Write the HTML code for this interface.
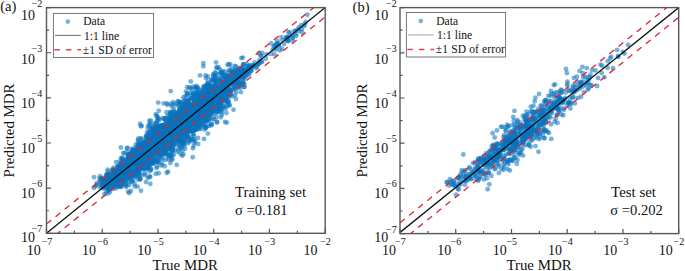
<!DOCTYPE html><html><head><meta charset="utf-8"><style>html,body{margin:0;padding:0;background:#fff;width:685px;height:271px;overflow:hidden}svg{display:block}text{font-family:"Liberation Serif", serif;fill:#111}</style></head><body>
<svg width="685" height="271" viewBox="0 0 685 271">
<rect width="685" height="271" fill="#fff"/>
<g fill="#0a72bd" fill-opacity="0.55">
<circle cx="187.9" cy="130.8" r="2.45"/>
<circle cx="218.8" cy="90.5" r="2.45"/>
<circle cx="150.0" cy="143.5" r="2.45"/>
<circle cx="134.3" cy="164.0" r="2.45"/>
<circle cx="189.7" cy="121.8" r="2.45"/>
<circle cx="211.5" cy="102.5" r="2.45"/>
<circle cx="111.4" cy="179.0" r="2.45"/>
<circle cx="181.0" cy="125.4" r="2.45"/>
<circle cx="143.3" cy="151.4" r="2.45"/>
<circle cx="153.2" cy="137.3" r="2.45"/>
<circle cx="147.7" cy="163.7" r="2.45"/>
<circle cx="144.4" cy="168.7" r="2.45"/>
<circle cx="201.5" cy="105.5" r="2.45"/>
<circle cx="206.4" cy="95.6" r="2.45"/>
<circle cx="224.6" cy="95.7" r="2.45"/>
<circle cx="208.9" cy="102.9" r="2.45"/>
<circle cx="125.5" cy="178.8" r="2.45"/>
<circle cx="210.6" cy="88.0" r="2.45"/>
<circle cx="258.5" cy="63.7" r="2.45"/>
<circle cx="194.6" cy="120.5" r="2.45"/>
<circle cx="208.7" cy="125.9" r="2.45"/>
<circle cx="106.1" cy="186.4" r="2.45"/>
<circle cx="217.3" cy="97.4" r="2.45"/>
<circle cx="193.2" cy="123.6" r="2.45"/>
<circle cx="181.7" cy="126.1" r="2.45"/>
<circle cx="238.6" cy="86.4" r="2.45"/>
<circle cx="121.1" cy="187.0" r="2.45"/>
<circle cx="163.1" cy="132.1" r="2.45"/>
<circle cx="190.1" cy="117.8" r="2.45"/>
<circle cx="214.2" cy="92.0" r="2.45"/>
<circle cx="161.1" cy="148.9" r="2.45"/>
<circle cx="192.8" cy="93.1" r="2.45"/>
<circle cx="160.8" cy="133.1" r="2.45"/>
<circle cx="178.8" cy="133.6" r="2.45"/>
<circle cx="206.2" cy="97.6" r="2.45"/>
<circle cx="134.6" cy="165.7" r="2.45"/>
<circle cx="167.8" cy="138.7" r="2.45"/>
<circle cx="113.1" cy="186.8" r="2.45"/>
<circle cx="197.8" cy="106.3" r="2.45"/>
<circle cx="143.8" cy="153.6" r="2.45"/>
<circle cx="159.4" cy="156.9" r="2.45"/>
<circle cx="186.5" cy="116.7" r="2.45"/>
<circle cx="146.9" cy="147.5" r="2.45"/>
<circle cx="175.9" cy="129.0" r="2.45"/>
<circle cx="151.7" cy="162.8" r="2.45"/>
<circle cx="183.5" cy="139.7" r="2.45"/>
<circle cx="198.9" cy="119.1" r="2.45"/>
<circle cx="239.6" cy="72.0" r="2.45"/>
<circle cx="189.4" cy="121.4" r="2.45"/>
<circle cx="158.7" cy="140.8" r="2.45"/>
<circle cx="149.8" cy="151.9" r="2.45"/>
<circle cx="115.5" cy="185.8" r="2.45"/>
<circle cx="121.2" cy="179.3" r="2.45"/>
<circle cx="164.0" cy="142.9" r="2.45"/>
<circle cx="138.8" cy="153.0" r="2.45"/>
<circle cx="102.6" cy="187.9" r="2.45"/>
<circle cx="206.6" cy="102.7" r="2.45"/>
<circle cx="170.2" cy="124.6" r="2.45"/>
<circle cx="136.7" cy="154.9" r="2.45"/>
<circle cx="152.3" cy="147.3" r="2.45"/>
<circle cx="163.7" cy="103.4" r="2.45"/>
<circle cx="184.9" cy="116.6" r="2.45"/>
<circle cx="171.5" cy="132.1" r="2.45"/>
<circle cx="185.7" cy="113.0" r="2.45"/>
<circle cx="166.2" cy="139.6" r="2.45"/>
<circle cx="131.8" cy="176.4" r="2.45"/>
<circle cx="126.8" cy="162.0" r="2.45"/>
<circle cx="207.1" cy="93.5" r="2.45"/>
<circle cx="152.7" cy="146.7" r="2.45"/>
<circle cx="140.7" cy="162.1" r="2.45"/>
<circle cx="204.1" cy="103.6" r="2.45"/>
<circle cx="181.0" cy="138.4" r="2.45"/>
<circle cx="236.1" cy="76.8" r="2.45"/>
<circle cx="189.0" cy="120.9" r="2.45"/>
<circle cx="193.2" cy="94.5" r="2.45"/>
<circle cx="225.1" cy="80.7" r="2.45"/>
<circle cx="181.9" cy="122.2" r="2.45"/>
<circle cx="131.0" cy="160.2" r="2.45"/>
<circle cx="136.5" cy="156.9" r="2.45"/>
<circle cx="155.0" cy="131.5" r="2.45"/>
<circle cx="216.4" cy="92.8" r="2.45"/>
<circle cx="96.8" cy="185.0" r="2.45"/>
<circle cx="106.7" cy="174.9" r="2.45"/>
<circle cx="180.8" cy="129.4" r="2.45"/>
<circle cx="210.5" cy="98.1" r="2.45"/>
<circle cx="181.9" cy="112.4" r="2.45"/>
<circle cx="155.7" cy="173.8" r="2.45"/>
<circle cx="219.1" cy="105.7" r="2.45"/>
<circle cx="197.9" cy="97.2" r="2.45"/>
<circle cx="220.5" cy="104.1" r="2.45"/>
<circle cx="130.1" cy="175.1" r="2.45"/>
<circle cx="213.5" cy="95.0" r="2.45"/>
<circle cx="155.8" cy="142.9" r="2.45"/>
<circle cx="161.0" cy="137.5" r="2.45"/>
<circle cx="169.5" cy="133.1" r="2.45"/>
<circle cx="206.5" cy="95.6" r="2.45"/>
<circle cx="123.7" cy="183.7" r="2.45"/>
<circle cx="104.1" cy="184.8" r="2.45"/>
<circle cx="124.5" cy="166.3" r="2.45"/>
<circle cx="251.0" cy="66.9" r="2.45"/>
<circle cx="186.2" cy="135.2" r="2.45"/>
<circle cx="151.5" cy="145.0" r="2.45"/>
<circle cx="163.1" cy="133.2" r="2.45"/>
<circle cx="123.3" cy="152.9" r="2.45"/>
<circle cx="164.5" cy="141.1" r="2.45"/>
<circle cx="235.8" cy="70.2" r="2.45"/>
<circle cx="113.4" cy="173.5" r="2.45"/>
<circle cx="210.7" cy="109.0" r="2.45"/>
<circle cx="184.1" cy="144.4" r="2.45"/>
<circle cx="157.9" cy="142.1" r="2.45"/>
<circle cx="218.1" cy="108.1" r="2.45"/>
<circle cx="204.3" cy="96.7" r="2.45"/>
<circle cx="221.3" cy="72.7" r="2.45"/>
<circle cx="133.8" cy="164.8" r="2.45"/>
<circle cx="182.8" cy="129.9" r="2.45"/>
<circle cx="147.8" cy="158.1" r="2.45"/>
<circle cx="193.3" cy="98.1" r="2.45"/>
<circle cx="179.8" cy="125.4" r="2.45"/>
<circle cx="201.4" cy="118.5" r="2.45"/>
<circle cx="145.9" cy="146.1" r="2.45"/>
<circle cx="204.9" cy="116.6" r="2.45"/>
<circle cx="235.0" cy="82.3" r="2.45"/>
<circle cx="138.2" cy="149.1" r="2.45"/>
<circle cx="139.6" cy="148.0" r="2.45"/>
<circle cx="221.4" cy="90.2" r="2.45"/>
<circle cx="121.6" cy="177.3" r="2.45"/>
<circle cx="193.8" cy="105.6" r="2.45"/>
<circle cx="166.4" cy="143.3" r="2.45"/>
<circle cx="191.5" cy="118.7" r="2.45"/>
<circle cx="182.2" cy="124.2" r="2.45"/>
<circle cx="215.8" cy="73.3" r="2.45"/>
<circle cx="221.8" cy="99.2" r="2.45"/>
<circle cx="213.9" cy="96.4" r="2.45"/>
<circle cx="117.4" cy="178.7" r="2.45"/>
<circle cx="156.5" cy="151.8" r="2.45"/>
<circle cx="207.6" cy="90.9" r="2.45"/>
<circle cx="132.1" cy="162.2" r="2.45"/>
<circle cx="221.7" cy="88.2" r="2.45"/>
<circle cx="123.7" cy="171.4" r="2.45"/>
<circle cx="164.0" cy="138.1" r="2.45"/>
<circle cx="169.6" cy="137.9" r="2.45"/>
<circle cx="170.7" cy="91.1" r="2.45"/>
<circle cx="152.8" cy="152.6" r="2.45"/>
<circle cx="249.3" cy="74.1" r="2.45"/>
<circle cx="204.7" cy="101.8" r="2.45"/>
<circle cx="165.7" cy="138.5" r="2.45"/>
<circle cx="124.1" cy="167.8" r="2.45"/>
<circle cx="167.0" cy="134.8" r="2.45"/>
<circle cx="149.4" cy="157.4" r="2.45"/>
<circle cx="182.2" cy="124.1" r="2.45"/>
<circle cx="176.7" cy="129.2" r="2.45"/>
<circle cx="161.4" cy="138.6" r="2.45"/>
<circle cx="159.5" cy="143.0" r="2.45"/>
<circle cx="152.1" cy="153.1" r="2.45"/>
<circle cx="144.3" cy="143.5" r="2.45"/>
<circle cx="174.1" cy="122.0" r="2.45"/>
<circle cx="185.1" cy="148.7" r="2.45"/>
<circle cx="187.4" cy="119.0" r="2.45"/>
<circle cx="176.4" cy="120.9" r="2.45"/>
<circle cx="184.1" cy="124.9" r="2.45"/>
<circle cx="157.9" cy="135.2" r="2.45"/>
<circle cx="158.6" cy="153.1" r="2.45"/>
<circle cx="196.5" cy="115.1" r="2.45"/>
<circle cx="187.9" cy="122.9" r="2.45"/>
<circle cx="179.2" cy="124.1" r="2.45"/>
<circle cx="241.4" cy="77.0" r="2.45"/>
<circle cx="125.6" cy="183.5" r="2.45"/>
<circle cx="173.1" cy="102.3" r="2.45"/>
<circle cx="184.7" cy="120.7" r="2.45"/>
<circle cx="197.8" cy="87.6" r="2.45"/>
<circle cx="167.8" cy="141.0" r="2.45"/>
<circle cx="182.2" cy="120.5" r="2.45"/>
<circle cx="195.2" cy="129.9" r="2.45"/>
<circle cx="203.9" cy="110.9" r="2.45"/>
<circle cx="151.2" cy="163.9" r="2.45"/>
<circle cx="208.5" cy="109.5" r="2.45"/>
<circle cx="197.5" cy="109.5" r="2.45"/>
<circle cx="223.6" cy="105.9" r="2.45"/>
<circle cx="203.8" cy="110.7" r="2.45"/>
<circle cx="221.4" cy="101.1" r="2.45"/>
<circle cx="221.0" cy="95.8" r="2.45"/>
<circle cx="146.2" cy="154.1" r="2.45"/>
<circle cx="193.2" cy="111.7" r="2.45"/>
<circle cx="227.7" cy="93.5" r="2.45"/>
<circle cx="171.2" cy="125.7" r="2.45"/>
<circle cx="236.6" cy="75.5" r="2.45"/>
<circle cx="171.7" cy="131.1" r="2.45"/>
<circle cx="218.6" cy="89.0" r="2.45"/>
<circle cx="196.8" cy="115.1" r="2.45"/>
<circle cx="167.9" cy="128.9" r="2.45"/>
<circle cx="136.9" cy="168.6" r="2.45"/>
<circle cx="151.8" cy="142.3" r="2.45"/>
<circle cx="198.1" cy="115.2" r="2.45"/>
<circle cx="175.5" cy="114.0" r="2.45"/>
<circle cx="120.9" cy="147.5" r="2.45"/>
<circle cx="170.2" cy="111.9" r="2.45"/>
<circle cx="193.9" cy="115.4" r="2.45"/>
<circle cx="116.6" cy="180.3" r="2.45"/>
<circle cx="221.7" cy="102.7" r="2.45"/>
<circle cx="227.3" cy="94.2" r="2.45"/>
<circle cx="166.1" cy="131.4" r="2.45"/>
<circle cx="169.4" cy="130.1" r="2.45"/>
<circle cx="164.7" cy="134.8" r="2.45"/>
<circle cx="219.2" cy="109.2" r="2.45"/>
<circle cx="239.2" cy="84.0" r="2.45"/>
<circle cx="144.9" cy="155.0" r="2.45"/>
<circle cx="175.9" cy="123.8" r="2.45"/>
<circle cx="196.9" cy="91.6" r="2.45"/>
<circle cx="213.1" cy="110.3" r="2.45"/>
<circle cx="184.6" cy="126.8" r="2.45"/>
<circle cx="158.2" cy="102.6" r="2.45"/>
<circle cx="178.7" cy="101.8" r="2.45"/>
<circle cx="206.4" cy="109.0" r="2.45"/>
<circle cx="185.5" cy="139.1" r="2.45"/>
<circle cx="212.5" cy="102.2" r="2.45"/>
<circle cx="154.1" cy="158.6" r="2.45"/>
<circle cx="238.2" cy="72.3" r="2.45"/>
<circle cx="174.0" cy="131.2" r="2.45"/>
<circle cx="195.1" cy="141.5" r="2.45"/>
<circle cx="131.9" cy="155.2" r="2.45"/>
<circle cx="146.0" cy="182.1" r="2.45"/>
<circle cx="144.3" cy="151.6" r="2.45"/>
<circle cx="130.6" cy="156.7" r="2.45"/>
<circle cx="150.1" cy="137.4" r="2.45"/>
<circle cx="113.6" cy="178.5" r="2.45"/>
<circle cx="158.0" cy="136.9" r="2.45"/>
<circle cx="161.2" cy="165.5" r="2.45"/>
<circle cx="178.9" cy="141.6" r="2.45"/>
<circle cx="219.5" cy="97.4" r="2.45"/>
<circle cx="203.3" cy="88.5" r="2.45"/>
<circle cx="121.7" cy="182.2" r="2.45"/>
<circle cx="200.0" cy="108.4" r="2.45"/>
<circle cx="101.4" cy="183.8" r="2.45"/>
<circle cx="164.0" cy="140.9" r="2.45"/>
<circle cx="122.3" cy="165.6" r="2.45"/>
<circle cx="193.3" cy="108.9" r="2.45"/>
<circle cx="188.0" cy="131.4" r="2.45"/>
<circle cx="137.6" cy="186.6" r="2.45"/>
<circle cx="141.9" cy="148.3" r="2.45"/>
<circle cx="186.8" cy="101.9" r="2.45"/>
<circle cx="216.3" cy="94.8" r="2.45"/>
<circle cx="173.1" cy="143.3" r="2.45"/>
<circle cx="222.6" cy="83.7" r="2.45"/>
<circle cx="202.6" cy="119.8" r="2.45"/>
<circle cx="128.7" cy="182.4" r="2.45"/>
<circle cx="113.1" cy="179.6" r="2.45"/>
<circle cx="109.5" cy="185.5" r="2.45"/>
<circle cx="211.5" cy="95.2" r="2.45"/>
<circle cx="187.0" cy="95.3" r="2.45"/>
<circle cx="221.8" cy="85.4" r="2.45"/>
<circle cx="164.6" cy="130.7" r="2.45"/>
<circle cx="212.6" cy="98.8" r="2.45"/>
<circle cx="142.0" cy="166.1" r="2.45"/>
<circle cx="196.4" cy="97.3" r="2.45"/>
<circle cx="117.3" cy="179.5" r="2.45"/>
<circle cx="174.0" cy="127.2" r="2.45"/>
<circle cx="130.9" cy="159.2" r="2.45"/>
<circle cx="131.2" cy="153.4" r="2.45"/>
<circle cx="215.3" cy="99.0" r="2.45"/>
<circle cx="117.5" cy="178.2" r="2.45"/>
<circle cx="186.6" cy="123.3" r="2.45"/>
<circle cx="144.7" cy="150.0" r="2.45"/>
<circle cx="144.5" cy="155.9" r="2.45"/>
<circle cx="213.5" cy="114.3" r="2.45"/>
<circle cx="170.9" cy="124.5" r="2.45"/>
<circle cx="142.2" cy="163.6" r="2.45"/>
<circle cx="202.7" cy="103.2" r="2.45"/>
<circle cx="192.5" cy="107.6" r="2.45"/>
<circle cx="120.9" cy="178.9" r="2.45"/>
<circle cx="155.7" cy="132.7" r="2.45"/>
<circle cx="129.2" cy="164.0" r="2.45"/>
<circle cx="175.0" cy="137.8" r="2.45"/>
<circle cx="121.1" cy="175.5" r="2.45"/>
<circle cx="205.7" cy="128.0" r="2.45"/>
<circle cx="121.2" cy="168.6" r="2.45"/>
<circle cx="141.7" cy="154.1" r="2.45"/>
<circle cx="122.5" cy="159.2" r="2.45"/>
<circle cx="204.2" cy="109.6" r="2.45"/>
<circle cx="174.4" cy="124.3" r="2.45"/>
<circle cx="177.9" cy="101.2" r="2.45"/>
<circle cx="142.3" cy="153.5" r="2.45"/>
<circle cx="204.8" cy="120.4" r="2.45"/>
<circle cx="175.5" cy="116.8" r="2.45"/>
<circle cx="144.2" cy="152.3" r="2.45"/>
<circle cx="163.5" cy="125.6" r="2.45"/>
<circle cx="201.5" cy="108.1" r="2.45"/>
<circle cx="173.1" cy="132.5" r="2.45"/>
<circle cx="169.5" cy="146.0" r="2.45"/>
<circle cx="187.5" cy="94.4" r="2.45"/>
<circle cx="158.3" cy="143.4" r="2.45"/>
<circle cx="187.4" cy="126.7" r="2.45"/>
<circle cx="142.0" cy="156.9" r="2.45"/>
<circle cx="183.3" cy="130.9" r="2.45"/>
<circle cx="228.7" cy="72.0" r="2.45"/>
<circle cx="139.7" cy="151.1" r="2.45"/>
<circle cx="207.8" cy="104.5" r="2.45"/>
<circle cx="124.1" cy="179.9" r="2.45"/>
<circle cx="229.0" cy="80.2" r="2.45"/>
<circle cx="224.9" cy="92.3" r="2.45"/>
<circle cx="181.0" cy="129.6" r="2.45"/>
<circle cx="137.8" cy="172.0" r="2.45"/>
<circle cx="169.5" cy="142.3" r="2.45"/>
<circle cx="150.2" cy="140.0" r="2.45"/>
<circle cx="183.7" cy="125.6" r="2.45"/>
<circle cx="139.4" cy="152.3" r="2.45"/>
<circle cx="201.5" cy="104.8" r="2.45"/>
<circle cx="226.3" cy="99.8" r="2.45"/>
<circle cx="166.3" cy="133.2" r="2.45"/>
<circle cx="170.4" cy="126.6" r="2.45"/>
<circle cx="162.4" cy="135.9" r="2.45"/>
<circle cx="174.0" cy="145.6" r="2.45"/>
<circle cx="221.8" cy="72.4" r="2.45"/>
<circle cx="120.5" cy="176.7" r="2.45"/>
<circle cx="159.7" cy="149.7" r="2.45"/>
<circle cx="178.2" cy="119.8" r="2.45"/>
<circle cx="157.5" cy="119.6" r="2.45"/>
<circle cx="211.1" cy="103.9" r="2.45"/>
<circle cx="116.7" cy="171.5" r="2.45"/>
<circle cx="202.5" cy="90.6" r="2.45"/>
<circle cx="175.9" cy="126.0" r="2.45"/>
<circle cx="118.0" cy="168.7" r="2.45"/>
<circle cx="121.2" cy="172.6" r="2.45"/>
<circle cx="175.1" cy="130.1" r="2.45"/>
<circle cx="186.5" cy="120.1" r="2.45"/>
<circle cx="219.8" cy="91.8" r="2.45"/>
<circle cx="168.5" cy="137.1" r="2.45"/>
<circle cx="178.3" cy="111.8" r="2.45"/>
<circle cx="159.2" cy="129.9" r="2.45"/>
<circle cx="123.8" cy="164.4" r="2.45"/>
<circle cx="181.4" cy="128.5" r="2.45"/>
<circle cx="184.9" cy="124.1" r="2.45"/>
<circle cx="216.1" cy="97.6" r="2.45"/>
<circle cx="131.7" cy="177.0" r="2.45"/>
<circle cx="128.3" cy="155.9" r="2.45"/>
<circle cx="192.0" cy="115.5" r="2.45"/>
<circle cx="151.5" cy="160.5" r="2.45"/>
<circle cx="200.0" cy="114.8" r="2.45"/>
<circle cx="170.1" cy="138.7" r="2.45"/>
<circle cx="118.5" cy="177.0" r="2.45"/>
<circle cx="183.0" cy="113.0" r="2.45"/>
<circle cx="206.1" cy="101.4" r="2.45"/>
<circle cx="131.9" cy="154.0" r="2.45"/>
<circle cx="112.1" cy="179.8" r="2.45"/>
<circle cx="133.9" cy="173.2" r="2.45"/>
<circle cx="134.5" cy="151.6" r="2.45"/>
<circle cx="207.5" cy="111.9" r="2.45"/>
<circle cx="145.4" cy="151.6" r="2.45"/>
<circle cx="197.3" cy="110.0" r="2.45"/>
<circle cx="186.1" cy="118.6" r="2.45"/>
<circle cx="152.4" cy="127.6" r="2.45"/>
<circle cx="173.0" cy="146.7" r="2.45"/>
<circle cx="134.7" cy="155.4" r="2.45"/>
<circle cx="149.7" cy="159.1" r="2.45"/>
<circle cx="118.3" cy="181.2" r="2.45"/>
<circle cx="105.4" cy="186.2" r="2.45"/>
<circle cx="134.6" cy="163.2" r="2.45"/>
<circle cx="224.4" cy="95.9" r="2.45"/>
<circle cx="244.0" cy="70.9" r="2.45"/>
<circle cx="173.0" cy="141.3" r="2.45"/>
<circle cx="151.2" cy="169.0" r="2.45"/>
<circle cx="172.5" cy="134.0" r="2.45"/>
<circle cx="179.1" cy="124.5" r="2.45"/>
<circle cx="155.3" cy="135.8" r="2.45"/>
<circle cx="152.2" cy="145.9" r="2.45"/>
<circle cx="152.7" cy="130.7" r="2.45"/>
<circle cx="158.6" cy="161.1" r="2.45"/>
<circle cx="168.1" cy="171.7" r="2.45"/>
<circle cx="177.5" cy="113.8" r="2.45"/>
<circle cx="135.7" cy="157.6" r="2.45"/>
<circle cx="225.0" cy="122.0" r="2.45"/>
<circle cx="111.3" cy="181.9" r="2.45"/>
<circle cx="164.7" cy="152.5" r="2.45"/>
<circle cx="136.8" cy="166.7" r="2.45"/>
<circle cx="183.8" cy="134.8" r="2.45"/>
<circle cx="191.4" cy="115.0" r="2.45"/>
<circle cx="223.5" cy="93.6" r="2.45"/>
<circle cx="199.6" cy="114.1" r="2.45"/>
<circle cx="128.2" cy="179.2" r="2.45"/>
<circle cx="165.6" cy="143.9" r="2.45"/>
<circle cx="195.0" cy="98.3" r="2.45"/>
<circle cx="143.0" cy="147.8" r="2.45"/>
<circle cx="172.4" cy="159.4" r="2.45"/>
<circle cx="132.8" cy="160.0" r="2.45"/>
<circle cx="121.5" cy="175.4" r="2.45"/>
<circle cx="155.6" cy="137.1" r="2.45"/>
<circle cx="205.5" cy="89.1" r="2.45"/>
<circle cx="128.4" cy="161.9" r="2.45"/>
<circle cx="140.1" cy="166.2" r="2.45"/>
<circle cx="206.7" cy="121.8" r="2.45"/>
<circle cx="138.4" cy="144.9" r="2.45"/>
<circle cx="195.1" cy="87.4" r="2.45"/>
<circle cx="139.8" cy="166.7" r="2.45"/>
<circle cx="134.0" cy="154.3" r="2.45"/>
<circle cx="174.3" cy="136.1" r="2.45"/>
<circle cx="133.6" cy="170.1" r="2.45"/>
<circle cx="193.4" cy="123.6" r="2.45"/>
<circle cx="203.3" cy="102.8" r="2.45"/>
<circle cx="158.7" cy="173.3" r="2.45"/>
<circle cx="168.2" cy="142.3" r="2.45"/>
<circle cx="145.7" cy="143.1" r="2.45"/>
<circle cx="141.5" cy="151.4" r="2.45"/>
<circle cx="106.8" cy="174.8" r="2.45"/>
<circle cx="165.2" cy="150.2" r="2.45"/>
<circle cx="149.9" cy="132.0" r="2.45"/>
<circle cx="197.9" cy="95.0" r="2.45"/>
<circle cx="162.3" cy="148.3" r="2.45"/>
<circle cx="148.8" cy="133.0" r="2.45"/>
<circle cx="165.9" cy="143.8" r="2.45"/>
<circle cx="115.7" cy="171.2" r="2.45"/>
<circle cx="140.7" cy="150.3" r="2.45"/>
<circle cx="141.5" cy="139.1" r="2.45"/>
<circle cx="154.2" cy="161.2" r="2.45"/>
<circle cx="112.3" cy="170.8" r="2.45"/>
<circle cx="155.1" cy="147.7" r="2.45"/>
<circle cx="152.4" cy="142.1" r="2.45"/>
<circle cx="167.7" cy="131.6" r="2.45"/>
<circle cx="196.4" cy="111.6" r="2.45"/>
<circle cx="154.2" cy="147.5" r="2.45"/>
<circle cx="202.2" cy="93.4" r="2.45"/>
<circle cx="150.7" cy="147.5" r="2.45"/>
<circle cx="113.1" cy="171.4" r="2.45"/>
<circle cx="146.6" cy="156.2" r="2.45"/>
<circle cx="181.1" cy="120.3" r="2.45"/>
<circle cx="226.4" cy="77.6" r="2.45"/>
<circle cx="162.9" cy="144.2" r="2.45"/>
<circle cx="172.1" cy="123.3" r="2.45"/>
<circle cx="148.2" cy="150.7" r="2.45"/>
<circle cx="221.2" cy="78.3" r="2.45"/>
<circle cx="135.1" cy="161.9" r="2.45"/>
<circle cx="200.8" cy="100.1" r="2.45"/>
<circle cx="166.9" cy="135.9" r="2.45"/>
<circle cx="121.5" cy="184.7" r="2.45"/>
<circle cx="248.3" cy="65.9" r="2.45"/>
<circle cx="188.6" cy="106.5" r="2.45"/>
<circle cx="185.5" cy="107.0" r="2.45"/>
<circle cx="159.8" cy="139.0" r="2.45"/>
<circle cx="200.8" cy="99.3" r="2.45"/>
<circle cx="147.9" cy="139.1" r="2.45"/>
<circle cx="145.7" cy="149.9" r="2.45"/>
<circle cx="163.2" cy="153.5" r="2.45"/>
<circle cx="142.2" cy="157.6" r="2.45"/>
<circle cx="169.6" cy="148.8" r="2.45"/>
<circle cx="213.3" cy="89.4" r="2.45"/>
<circle cx="167.3" cy="130.2" r="2.45"/>
<circle cx="182.8" cy="116.5" r="2.45"/>
<circle cx="184.9" cy="118.8" r="2.45"/>
<circle cx="118.1" cy="168.3" r="2.45"/>
<circle cx="169.7" cy="128.4" r="2.45"/>
<circle cx="158.0" cy="145.8" r="2.45"/>
<circle cx="137.1" cy="166.6" r="2.45"/>
<circle cx="139.1" cy="162.7" r="2.45"/>
<circle cx="189.2" cy="87.4" r="2.45"/>
<circle cx="137.0" cy="168.3" r="2.45"/>
<circle cx="183.2" cy="116.6" r="2.45"/>
<circle cx="152.5" cy="154.5" r="2.45"/>
<circle cx="250.2" cy="68.6" r="2.45"/>
<circle cx="139.6" cy="152.1" r="2.45"/>
<circle cx="124.0" cy="170.6" r="2.45"/>
<circle cx="211.7" cy="91.3" r="2.45"/>
<circle cx="206.2" cy="102.6" r="2.45"/>
<circle cx="215.7" cy="105.4" r="2.45"/>
<circle cx="132.9" cy="150.4" r="2.45"/>
<circle cx="148.5" cy="159.5" r="2.45"/>
<circle cx="229.5" cy="91.0" r="2.45"/>
<circle cx="103.0" cy="177.9" r="2.45"/>
<circle cx="211.7" cy="80.4" r="2.45"/>
<circle cx="179.7" cy="125.3" r="2.45"/>
<circle cx="125.7" cy="167.9" r="2.45"/>
<circle cx="133.5" cy="162.3" r="2.45"/>
<circle cx="212.0" cy="101.8" r="2.45"/>
<circle cx="174.0" cy="124.2" r="2.45"/>
<circle cx="128.9" cy="171.1" r="2.45"/>
<circle cx="174.3" cy="129.2" r="2.45"/>
<circle cx="152.5" cy="153.1" r="2.45"/>
<circle cx="112.2" cy="178.1" r="2.45"/>
<circle cx="110.7" cy="177.9" r="2.45"/>
<circle cx="170.5" cy="143.1" r="2.45"/>
<circle cx="175.8" cy="134.5" r="2.45"/>
<circle cx="216.4" cy="81.0" r="2.45"/>
<circle cx="161.3" cy="147.6" r="2.45"/>
<circle cx="202.8" cy="101.3" r="2.45"/>
<circle cx="170.9" cy="126.8" r="2.45"/>
<circle cx="156.5" cy="153.9" r="2.45"/>
<circle cx="202.9" cy="114.8" r="2.45"/>
<circle cx="142.7" cy="143.8" r="2.45"/>
<circle cx="215.1" cy="80.6" r="2.45"/>
<circle cx="248.8" cy="72.6" r="2.45"/>
<circle cx="223.0" cy="76.1" r="2.45"/>
<circle cx="196.9" cy="128.4" r="2.45"/>
<circle cx="227.9" cy="86.6" r="2.45"/>
<circle cx="135.3" cy="172.7" r="2.45"/>
<circle cx="128.8" cy="171.8" r="2.45"/>
<circle cx="216.8" cy="98.8" r="2.45"/>
<circle cx="115.6" cy="188.4" r="2.45"/>
<circle cx="139.2" cy="148.8" r="2.45"/>
<circle cx="237.2" cy="83.0" r="2.45"/>
<circle cx="206.9" cy="92.3" r="2.45"/>
<circle cx="114.2" cy="174.3" r="2.45"/>
<circle cx="194.8" cy="114.4" r="2.45"/>
<circle cx="150.7" cy="153.5" r="2.45"/>
<circle cx="188.6" cy="105.6" r="2.45"/>
<circle cx="238.9" cy="74.7" r="2.45"/>
<circle cx="226.6" cy="92.9" r="2.45"/>
<circle cx="165.6" cy="147.8" r="2.45"/>
<circle cx="130.2" cy="169.5" r="2.45"/>
<circle cx="129.2" cy="162.0" r="2.45"/>
<circle cx="199.0" cy="98.7" r="2.45"/>
<circle cx="160.9" cy="149.1" r="2.45"/>
<circle cx="199.7" cy="121.6" r="2.45"/>
<circle cx="200.5" cy="112.8" r="2.45"/>
<circle cx="201.8" cy="125.2" r="2.45"/>
<circle cx="158.3" cy="128.6" r="2.45"/>
<circle cx="197.1" cy="106.8" r="2.45"/>
<circle cx="168.7" cy="140.2" r="2.45"/>
<circle cx="149.3" cy="165.0" r="2.45"/>
<circle cx="116.2" cy="174.3" r="2.45"/>
<circle cx="154.4" cy="137.8" r="2.45"/>
<circle cx="141.0" cy="151.4" r="2.45"/>
<circle cx="196.2" cy="108.5" r="2.45"/>
<circle cx="108.9" cy="177.9" r="2.45"/>
<circle cx="200.4" cy="107.0" r="2.45"/>
<circle cx="144.6" cy="152.5" r="2.45"/>
<circle cx="184.8" cy="126.8" r="2.45"/>
<circle cx="130.9" cy="165.4" r="2.45"/>
<circle cx="225.5" cy="86.0" r="2.45"/>
<circle cx="207.7" cy="95.2" r="2.45"/>
<circle cx="156.5" cy="154.1" r="2.45"/>
<circle cx="137.6" cy="162.3" r="2.45"/>
<circle cx="243.7" cy="86.9" r="2.45"/>
<circle cx="170.1" cy="135.3" r="2.45"/>
<circle cx="129.2" cy="173.7" r="2.45"/>
<circle cx="187.5" cy="108.4" r="2.45"/>
<circle cx="193.4" cy="134.2" r="2.45"/>
<circle cx="213.1" cy="80.2" r="2.45"/>
<circle cx="124.8" cy="170.2" r="2.45"/>
<circle cx="226.1" cy="81.7" r="2.45"/>
<circle cx="185.5" cy="96.1" r="2.45"/>
<circle cx="228.5" cy="90.5" r="2.45"/>
<circle cx="126.8" cy="173.1" r="2.45"/>
<circle cx="174.1" cy="134.4" r="2.45"/>
<circle cx="102.0" cy="179.4" r="2.45"/>
<circle cx="182.3" cy="117.9" r="2.45"/>
<circle cx="138.9" cy="156.8" r="2.45"/>
<circle cx="134.0" cy="163.9" r="2.45"/>
<circle cx="205.8" cy="86.3" r="2.45"/>
<circle cx="207.9" cy="103.8" r="2.45"/>
<circle cx="199.0" cy="116.5" r="2.45"/>
<circle cx="153.2" cy="133.2" r="2.45"/>
<circle cx="124.3" cy="166.1" r="2.45"/>
<circle cx="147.8" cy="127.4" r="2.45"/>
<circle cx="144.6" cy="167.6" r="2.45"/>
<circle cx="198.6" cy="115.9" r="2.45"/>
<circle cx="179.0" cy="127.2" r="2.45"/>
<circle cx="156.7" cy="129.5" r="2.45"/>
<circle cx="211.3" cy="124.5" r="2.45"/>
<circle cx="213.9" cy="105.8" r="2.45"/>
<circle cx="170.0" cy="121.6" r="2.45"/>
<circle cx="142.9" cy="147.8" r="2.45"/>
<circle cx="130.5" cy="161.4" r="2.45"/>
<circle cx="173.2" cy="136.7" r="2.45"/>
<circle cx="125.2" cy="163.0" r="2.45"/>
<circle cx="170.0" cy="156.2" r="2.45"/>
<circle cx="130.1" cy="166.1" r="2.45"/>
<circle cx="123.0" cy="176.7" r="2.45"/>
<circle cx="180.3" cy="146.8" r="2.45"/>
<circle cx="129.9" cy="173.7" r="2.45"/>
<circle cx="200.4" cy="117.8" r="2.45"/>
<circle cx="103.6" cy="180.2" r="2.45"/>
<circle cx="164.7" cy="166.2" r="2.45"/>
<circle cx="239.8" cy="82.8" r="2.45"/>
<circle cx="210.1" cy="89.8" r="2.45"/>
<circle cx="161.8" cy="136.8" r="2.45"/>
<circle cx="184.9" cy="116.5" r="2.45"/>
<circle cx="159.1" cy="162.5" r="2.45"/>
<circle cx="181.1" cy="132.7" r="2.45"/>
<circle cx="166.2" cy="148.7" r="2.45"/>
<circle cx="152.5" cy="142.9" r="2.45"/>
<circle cx="137.7" cy="174.9" r="2.45"/>
<circle cx="163.8" cy="130.5" r="2.45"/>
<circle cx="196.2" cy="129.5" r="2.45"/>
<circle cx="170.0" cy="125.3" r="2.45"/>
<circle cx="134.4" cy="160.2" r="2.45"/>
<circle cx="220.5" cy="99.0" r="2.45"/>
<circle cx="189.3" cy="124.2" r="2.45"/>
<circle cx="204.3" cy="109.2" r="2.45"/>
<circle cx="206.6" cy="119.8" r="2.45"/>
<circle cx="150.0" cy="157.7" r="2.45"/>
<circle cx="181.2" cy="142.7" r="2.45"/>
<circle cx="188.7" cy="109.8" r="2.45"/>
<circle cx="187.7" cy="135.8" r="2.45"/>
<circle cx="147.0" cy="155.8" r="2.45"/>
<circle cx="102.0" cy="185.5" r="2.45"/>
<circle cx="161.4" cy="158.4" r="2.45"/>
<circle cx="233.1" cy="87.7" r="2.45"/>
<circle cx="144.6" cy="157.0" r="2.45"/>
<circle cx="226.4" cy="87.5" r="2.45"/>
<circle cx="112.8" cy="178.5" r="2.45"/>
<circle cx="177.9" cy="132.4" r="2.45"/>
<circle cx="149.5" cy="155.7" r="2.45"/>
<circle cx="202.6" cy="116.2" r="2.45"/>
<circle cx="180.4" cy="140.7" r="2.45"/>
<circle cx="150.0" cy="153.7" r="2.45"/>
<circle cx="136.4" cy="169.1" r="2.45"/>
<circle cx="153.0" cy="153.5" r="2.45"/>
<circle cx="145.3" cy="156.7" r="2.45"/>
<circle cx="136.6" cy="158.3" r="2.45"/>
<circle cx="127.0" cy="168.7" r="2.45"/>
<circle cx="225.1" cy="84.6" r="2.45"/>
<circle cx="189.5" cy="131.1" r="2.45"/>
<circle cx="276.1" cy="49.5" r="2.45"/>
<circle cx="209.5" cy="91.1" r="2.45"/>
<circle cx="124.4" cy="169.4" r="2.45"/>
<circle cx="208.3" cy="85.5" r="2.45"/>
<circle cx="211.3" cy="79.4" r="2.45"/>
<circle cx="140.1" cy="123.7" r="2.45"/>
<circle cx="183.5" cy="127.2" r="2.45"/>
<circle cx="104.6" cy="179.3" r="2.45"/>
<circle cx="165.8" cy="132.6" r="2.45"/>
<circle cx="119.1" cy="173.8" r="2.45"/>
<circle cx="203.0" cy="112.5" r="2.45"/>
<circle cx="190.0" cy="117.5" r="2.45"/>
<circle cx="152.9" cy="157.3" r="2.45"/>
<circle cx="223.3" cy="96.1" r="2.45"/>
<circle cx="116.0" cy="184.0" r="2.45"/>
<circle cx="178.6" cy="138.3" r="2.45"/>
<circle cx="211.6" cy="94.2" r="2.45"/>
<circle cx="147.0" cy="146.5" r="2.45"/>
<circle cx="212.0" cy="92.2" r="2.45"/>
<circle cx="114.9" cy="170.4" r="2.45"/>
<circle cx="159.7" cy="136.8" r="2.45"/>
<circle cx="219.4" cy="87.1" r="2.45"/>
<circle cx="135.7" cy="176.7" r="2.45"/>
<circle cx="168.0" cy="156.4" r="2.45"/>
<circle cx="172.8" cy="135.1" r="2.45"/>
<circle cx="172.4" cy="127.2" r="2.45"/>
<circle cx="113.2" cy="175.1" r="2.45"/>
<circle cx="173.0" cy="123.5" r="2.45"/>
<circle cx="179.3" cy="112.7" r="2.45"/>
<circle cx="127.2" cy="171.3" r="2.45"/>
<circle cx="216.7" cy="98.4" r="2.45"/>
<circle cx="133.1" cy="154.0" r="2.45"/>
<circle cx="190.4" cy="111.0" r="2.45"/>
<circle cx="154.7" cy="133.2" r="2.45"/>
<circle cx="188.7" cy="136.6" r="2.45"/>
<circle cx="172.1" cy="156.2" r="2.45"/>
<circle cx="181.7" cy="130.8" r="2.45"/>
<circle cx="172.0" cy="133.6" r="2.45"/>
<circle cx="181.3" cy="130.1" r="2.45"/>
<circle cx="180.7" cy="113.7" r="2.45"/>
<circle cx="132.1" cy="148.8" r="2.45"/>
<circle cx="125.6" cy="168.3" r="2.45"/>
<circle cx="131.8" cy="167.0" r="2.45"/>
<circle cx="162.2" cy="143.2" r="2.45"/>
<circle cx="144.0" cy="168.4" r="2.45"/>
<circle cx="196.1" cy="114.1" r="2.45"/>
<circle cx="194.5" cy="142.8" r="2.45"/>
<circle cx="221.8" cy="114.8" r="2.45"/>
<circle cx="132.3" cy="161.2" r="2.45"/>
<circle cx="192.5" cy="119.3" r="2.45"/>
<circle cx="127.0" cy="173.5" r="2.45"/>
<circle cx="165.0" cy="125.7" r="2.45"/>
<circle cx="128.7" cy="163.5" r="2.45"/>
<circle cx="189.4" cy="111.0" r="2.45"/>
<circle cx="158.8" cy="127.4" r="2.45"/>
<circle cx="213.9" cy="87.0" r="2.45"/>
<circle cx="128.2" cy="155.2" r="2.45"/>
<circle cx="205.5" cy="98.6" r="2.45"/>
<circle cx="242.9" cy="83.5" r="2.45"/>
<circle cx="221.9" cy="112.2" r="2.45"/>
<circle cx="142.9" cy="143.8" r="2.45"/>
<circle cx="183.5" cy="129.4" r="2.45"/>
<circle cx="186.8" cy="113.1" r="2.45"/>
<circle cx="139.0" cy="144.1" r="2.45"/>
<circle cx="186.8" cy="137.3" r="2.45"/>
<circle cx="108.4" cy="189.2" r="2.45"/>
<circle cx="244.9" cy="72.0" r="2.45"/>
<circle cx="172.7" cy="134.6" r="2.45"/>
<circle cx="222.8" cy="82.5" r="2.45"/>
<circle cx="169.9" cy="136.2" r="2.45"/>
<circle cx="143.7" cy="153.0" r="2.45"/>
<circle cx="163.1" cy="126.6" r="2.45"/>
<circle cx="201.1" cy="102.9" r="2.45"/>
<circle cx="197.0" cy="121.2" r="2.45"/>
<circle cx="122.2" cy="176.5" r="2.45"/>
<circle cx="244.3" cy="78.8" r="2.45"/>
<circle cx="199.1" cy="109.4" r="2.45"/>
<circle cx="168.8" cy="138.4" r="2.45"/>
<circle cx="216.1" cy="62.5" r="2.45"/>
<circle cx="187.2" cy="87.2" r="2.45"/>
<circle cx="120.5" cy="181.0" r="2.45"/>
<circle cx="123.8" cy="175.1" r="2.45"/>
<circle cx="146.8" cy="143.4" r="2.45"/>
<circle cx="173.0" cy="133.9" r="2.45"/>
<circle cx="182.4" cy="120.1" r="2.45"/>
<circle cx="184.6" cy="113.1" r="2.45"/>
<circle cx="170.1" cy="124.7" r="2.45"/>
<circle cx="178.5" cy="116.8" r="2.45"/>
<circle cx="204.5" cy="106.8" r="2.45"/>
<circle cx="159.1" cy="145.8" r="2.45"/>
<circle cx="217.5" cy="88.5" r="2.45"/>
<circle cx="148.4" cy="159.1" r="2.45"/>
<circle cx="199.6" cy="105.0" r="2.45"/>
<circle cx="208.3" cy="91.2" r="2.45"/>
<circle cx="137.7" cy="173.9" r="2.45"/>
<circle cx="186.1" cy="111.3" r="2.45"/>
<circle cx="156.3" cy="129.8" r="2.45"/>
<circle cx="155.1" cy="142.4" r="2.45"/>
<circle cx="137.7" cy="151.5" r="2.45"/>
<circle cx="174.2" cy="143.7" r="2.45"/>
<circle cx="220.7" cy="110.5" r="2.45"/>
<circle cx="216.2" cy="95.9" r="2.45"/>
<circle cx="194.1" cy="122.0" r="2.45"/>
<circle cx="150.2" cy="154.0" r="2.45"/>
<circle cx="181.4" cy="122.9" r="2.45"/>
<circle cx="208.7" cy="115.6" r="2.45"/>
<circle cx="188.5" cy="116.3" r="2.45"/>
<circle cx="211.0" cy="109.0" r="2.45"/>
<circle cx="206.9" cy="105.6" r="2.45"/>
<circle cx="125.7" cy="180.4" r="2.45"/>
<circle cx="243.9" cy="72.0" r="2.45"/>
<circle cx="136.9" cy="157.8" r="2.45"/>
<circle cx="210.9" cy="87.0" r="2.45"/>
<circle cx="210.8" cy="113.3" r="2.45"/>
<circle cx="214.1" cy="95.2" r="2.45"/>
<circle cx="226.4" cy="78.1" r="2.45"/>
<circle cx="119.9" cy="168.7" r="2.45"/>
<circle cx="181.2" cy="113.5" r="2.45"/>
<circle cx="139.0" cy="176.8" r="2.45"/>
<circle cx="152.7" cy="139.0" r="2.45"/>
<circle cx="122.8" cy="172.7" r="2.45"/>
<circle cx="118.5" cy="166.1" r="2.45"/>
<circle cx="169.9" cy="127.1" r="2.45"/>
<circle cx="211.2" cy="97.3" r="2.45"/>
<circle cx="169.2" cy="119.7" r="2.45"/>
<circle cx="151.5" cy="130.0" r="2.45"/>
<circle cx="164.6" cy="135.1" r="2.45"/>
<circle cx="199.7" cy="93.9" r="2.45"/>
<circle cx="118.6" cy="178.1" r="2.45"/>
<circle cx="134.3" cy="157.4" r="2.45"/>
<circle cx="178.5" cy="139.3" r="2.45"/>
<circle cx="149.0" cy="132.2" r="2.45"/>
<circle cx="133.2" cy="168.9" r="2.45"/>
<circle cx="180.3" cy="115.3" r="2.45"/>
<circle cx="176.9" cy="123.6" r="2.45"/>
<circle cx="158.1" cy="147.4" r="2.45"/>
<circle cx="116.7" cy="171.8" r="2.45"/>
<circle cx="156.2" cy="150.4" r="2.45"/>
<circle cx="147.2" cy="136.4" r="2.45"/>
<circle cx="165.2" cy="153.9" r="2.45"/>
<circle cx="180.8" cy="115.1" r="2.45"/>
<circle cx="186.4" cy="110.1" r="2.45"/>
<circle cx="130.5" cy="172.2" r="2.45"/>
<circle cx="181.9" cy="123.0" r="2.45"/>
<circle cx="187.5" cy="121.5" r="2.45"/>
<circle cx="258.6" cy="64.0" r="2.45"/>
<circle cx="155.6" cy="151.4" r="2.45"/>
<circle cx="153.7" cy="163.6" r="2.45"/>
<circle cx="135.3" cy="166.5" r="2.45"/>
<circle cx="147.1" cy="137.3" r="2.45"/>
<circle cx="215.7" cy="76.8" r="2.45"/>
<circle cx="171.8" cy="119.8" r="2.45"/>
<circle cx="108.0" cy="185.1" r="2.45"/>
<circle cx="243.8" cy="64.2" r="2.45"/>
<circle cx="200.7" cy="89.9" r="2.45"/>
<circle cx="219.6" cy="92.6" r="2.45"/>
<circle cx="164.6" cy="131.7" r="2.45"/>
<circle cx="164.8" cy="119.2" r="2.45"/>
<circle cx="130.8" cy="158.9" r="2.45"/>
<circle cx="158.4" cy="146.8" r="2.45"/>
<circle cx="166.9" cy="136.5" r="2.45"/>
<circle cx="128.6" cy="170.2" r="2.45"/>
<circle cx="174.8" cy="123.9" r="2.45"/>
<circle cx="193.8" cy="113.8" r="2.45"/>
<circle cx="187.3" cy="108.8" r="2.45"/>
<circle cx="189.9" cy="139.9" r="2.45"/>
<circle cx="137.4" cy="160.5" r="2.45"/>
<circle cx="108.1" cy="190.0" r="2.45"/>
<circle cx="217.2" cy="108.3" r="2.45"/>
<circle cx="154.2" cy="143.3" r="2.45"/>
<circle cx="151.5" cy="142.1" r="2.45"/>
<circle cx="180.5" cy="128.9" r="2.45"/>
<circle cx="113.6" cy="176.3" r="2.45"/>
<circle cx="177.4" cy="128.9" r="2.45"/>
<circle cx="129.7" cy="158.8" r="2.45"/>
<circle cx="186.0" cy="91.6" r="2.45"/>
<circle cx="151.0" cy="169.9" r="2.45"/>
<circle cx="197.4" cy="115.3" r="2.45"/>
<circle cx="194.8" cy="112.7" r="2.45"/>
<circle cx="222.5" cy="94.0" r="2.45"/>
<circle cx="187.7" cy="118.2" r="2.45"/>
<circle cx="172.4" cy="117.8" r="2.45"/>
<circle cx="126.4" cy="165.1" r="2.45"/>
<circle cx="212.4" cy="111.0" r="2.45"/>
<circle cx="213.8" cy="86.0" r="2.45"/>
<circle cx="127.5" cy="159.4" r="2.45"/>
<circle cx="188.0" cy="115.7" r="2.45"/>
<circle cx="162.5" cy="136.7" r="2.45"/>
<circle cx="139.2" cy="154.3" r="2.45"/>
<circle cx="204.1" cy="95.8" r="2.45"/>
<circle cx="163.3" cy="142.4" r="2.45"/>
<circle cx="166.1" cy="147.4" r="2.45"/>
<circle cx="127.4" cy="172.4" r="2.45"/>
<circle cx="221.6" cy="82.5" r="2.45"/>
<circle cx="222.8" cy="86.9" r="2.45"/>
<circle cx="132.1" cy="170.1" r="2.45"/>
<circle cx="190.8" cy="119.7" r="2.45"/>
<circle cx="113.5" cy="182.2" r="2.45"/>
<circle cx="136.1" cy="160.5" r="2.45"/>
<circle cx="184.5" cy="128.4" r="2.45"/>
<circle cx="132.2" cy="169.5" r="2.45"/>
<circle cx="149.6" cy="171.2" r="2.45"/>
<circle cx="141.9" cy="160.3" r="2.45"/>
<circle cx="200.2" cy="92.6" r="2.45"/>
<circle cx="217.2" cy="82.4" r="2.45"/>
<circle cx="188.9" cy="118.6" r="2.45"/>
<circle cx="141.9" cy="144.4" r="2.45"/>
<circle cx="203.4" cy="66.3" r="2.45"/>
<circle cx="171.9" cy="130.4" r="2.45"/>
<circle cx="139.2" cy="169.7" r="2.45"/>
<circle cx="192.5" cy="129.9" r="2.45"/>
<circle cx="241.4" cy="58.1" r="2.45"/>
<circle cx="140.4" cy="154.9" r="2.45"/>
<circle cx="226.2" cy="75.4" r="2.45"/>
<circle cx="191.5" cy="124.6" r="2.45"/>
<circle cx="118.1" cy="179.9" r="2.45"/>
<circle cx="121.1" cy="172.6" r="2.45"/>
<circle cx="128.3" cy="167.9" r="2.45"/>
<circle cx="198.9" cy="105.4" r="2.45"/>
<circle cx="146.0" cy="159.0" r="2.45"/>
<circle cx="137.3" cy="150.9" r="2.45"/>
<circle cx="130.8" cy="155.7" r="2.45"/>
<circle cx="173.1" cy="150.1" r="2.45"/>
<circle cx="127.5" cy="159.2" r="2.45"/>
<circle cx="212.9" cy="80.5" r="2.45"/>
<circle cx="188.7" cy="118.0" r="2.45"/>
<circle cx="214.2" cy="91.7" r="2.45"/>
<circle cx="194.2" cy="130.4" r="2.45"/>
<circle cx="213.1" cy="118.7" r="2.45"/>
<circle cx="128.4" cy="154.5" r="2.45"/>
<circle cx="150.6" cy="124.9" r="2.45"/>
<circle cx="159.4" cy="140.6" r="2.45"/>
<circle cx="158.2" cy="150.3" r="2.45"/>
<circle cx="207.7" cy="115.2" r="2.45"/>
<circle cx="248.0" cy="70.5" r="2.45"/>
<circle cx="190.2" cy="104.6" r="2.45"/>
<circle cx="152.8" cy="135.5" r="2.45"/>
<circle cx="154.0" cy="132.9" r="2.45"/>
<circle cx="147.7" cy="144.2" r="2.45"/>
<circle cx="144.5" cy="155.0" r="2.45"/>
<circle cx="143.8" cy="162.5" r="2.45"/>
<circle cx="185.4" cy="119.8" r="2.45"/>
<circle cx="147.5" cy="144.2" r="2.45"/>
<circle cx="158.2" cy="130.9" r="2.45"/>
<circle cx="124.6" cy="166.5" r="2.45"/>
<circle cx="127.4" cy="165.9" r="2.45"/>
<circle cx="216.5" cy="85.6" r="2.45"/>
<circle cx="205.4" cy="102.8" r="2.45"/>
<circle cx="136.3" cy="167.1" r="2.45"/>
<circle cx="211.0" cy="100.2" r="2.45"/>
<circle cx="225.4" cy="90.7" r="2.45"/>
<circle cx="141.0" cy="155.0" r="2.45"/>
<circle cx="176.7" cy="164.9" r="2.45"/>
<circle cx="170.9" cy="104.0" r="2.45"/>
<circle cx="181.1" cy="127.3" r="2.45"/>
<circle cx="159.2" cy="141.9" r="2.45"/>
<circle cx="147.4" cy="167.4" r="2.45"/>
<circle cx="117.9" cy="177.0" r="2.45"/>
<circle cx="154.9" cy="135.7" r="2.45"/>
<circle cx="198.1" cy="88.7" r="2.45"/>
<circle cx="204.9" cy="102.8" r="2.45"/>
<circle cx="153.2" cy="147.1" r="2.45"/>
<circle cx="194.4" cy="100.8" r="2.45"/>
<circle cx="201.8" cy="117.8" r="2.45"/>
<circle cx="171.9" cy="125.5" r="2.45"/>
<circle cx="158.2" cy="148.2" r="2.45"/>
<circle cx="107.4" cy="182.8" r="2.45"/>
<circle cx="244.3" cy="84.2" r="2.45"/>
<circle cx="215.6" cy="98.6" r="2.45"/>
<circle cx="188.2" cy="123.1" r="2.45"/>
<circle cx="113.9" cy="180.8" r="2.45"/>
<circle cx="126.1" cy="186.8" r="2.45"/>
<circle cx="207.4" cy="109.5" r="2.45"/>
<circle cx="200.6" cy="110.7" r="2.45"/>
<circle cx="160.5" cy="134.1" r="2.45"/>
<circle cx="153.1" cy="161.6" r="2.45"/>
<circle cx="200.5" cy="114.6" r="2.45"/>
<circle cx="134.2" cy="164.4" r="2.45"/>
<circle cx="143.7" cy="163.8" r="2.45"/>
<circle cx="116.5" cy="178.5" r="2.45"/>
<circle cx="220.7" cy="72.8" r="2.45"/>
<circle cx="191.6" cy="112.9" r="2.45"/>
<circle cx="126.3" cy="175.8" r="2.45"/>
<circle cx="203.0" cy="112.6" r="2.45"/>
<circle cx="109.9" cy="180.7" r="2.45"/>
<circle cx="161.9" cy="132.1" r="2.45"/>
<circle cx="170.1" cy="133.9" r="2.45"/>
<circle cx="214.6" cy="79.0" r="2.45"/>
<circle cx="182.6" cy="104.1" r="2.45"/>
<circle cx="197.0" cy="106.9" r="2.45"/>
<circle cx="222.3" cy="99.2" r="2.45"/>
<circle cx="228.3" cy="91.1" r="2.45"/>
<circle cx="177.8" cy="138.8" r="2.45"/>
<circle cx="186.9" cy="127.0" r="2.45"/>
<circle cx="200.8" cy="106.3" r="2.45"/>
<circle cx="228.7" cy="101.6" r="2.45"/>
<circle cx="209.4" cy="101.4" r="2.45"/>
<circle cx="119.8" cy="173.8" r="2.45"/>
<circle cx="181.4" cy="140.4" r="2.45"/>
<circle cx="151.4" cy="146.3" r="2.45"/>
<circle cx="143.8" cy="147.7" r="2.45"/>
<circle cx="164.7" cy="136.5" r="2.45"/>
<circle cx="229.2" cy="95.1" r="2.45"/>
<circle cx="214.3" cy="99.7" r="2.45"/>
<circle cx="234.0" cy="82.1" r="2.45"/>
<circle cx="211.9" cy="88.0" r="2.45"/>
<circle cx="182.2" cy="119.2" r="2.45"/>
<circle cx="193.0" cy="117.0" r="2.45"/>
<circle cx="218.4" cy="99.2" r="2.45"/>
<circle cx="175.5" cy="117.9" r="2.45"/>
<circle cx="168.5" cy="132.2" r="2.45"/>
<circle cx="197.3" cy="123.3" r="2.45"/>
<circle cx="211.1" cy="92.7" r="2.45"/>
<circle cx="219.4" cy="102.8" r="2.45"/>
<circle cx="186.6" cy="115.7" r="2.45"/>
<circle cx="196.8" cy="88.7" r="2.45"/>
<circle cx="146.6" cy="142.4" r="2.45"/>
<circle cx="119.7" cy="181.5" r="2.45"/>
<circle cx="141.0" cy="190.7" r="2.45"/>
<circle cx="211.9" cy="99.8" r="2.45"/>
<circle cx="148.5" cy="151.0" r="2.45"/>
<circle cx="125.0" cy="165.9" r="2.45"/>
<circle cx="146.3" cy="144.1" r="2.45"/>
<circle cx="133.8" cy="165.8" r="2.45"/>
<circle cx="150.1" cy="176.7" r="2.45"/>
<circle cx="203.2" cy="119.0" r="2.45"/>
<circle cx="176.8" cy="117.2" r="2.45"/>
<circle cx="172.2" cy="131.0" r="2.45"/>
<circle cx="202.3" cy="103.9" r="2.45"/>
<circle cx="122.2" cy="168.9" r="2.45"/>
<circle cx="184.2" cy="143.1" r="2.45"/>
<circle cx="223.8" cy="98.3" r="2.45"/>
<circle cx="184.8" cy="113.9" r="2.45"/>
<circle cx="149.6" cy="150.6" r="2.45"/>
<circle cx="198.8" cy="108.0" r="2.45"/>
<circle cx="100.0" cy="176.2" r="2.45"/>
<circle cx="194.6" cy="121.0" r="2.45"/>
<circle cx="199.7" cy="114.7" r="2.45"/>
<circle cx="206.6" cy="103.5" r="2.45"/>
<circle cx="217.0" cy="98.6" r="2.45"/>
<circle cx="240.1" cy="87.7" r="2.45"/>
<circle cx="107.8" cy="171.8" r="2.45"/>
<circle cx="172.3" cy="137.8" r="2.45"/>
<circle cx="204.2" cy="104.8" r="2.45"/>
<circle cx="181.9" cy="120.0" r="2.45"/>
<circle cx="162.7" cy="151.5" r="2.45"/>
<circle cx="138.6" cy="170.3" r="2.45"/>
<circle cx="219.1" cy="79.8" r="2.45"/>
<circle cx="207.6" cy="101.1" r="2.45"/>
<circle cx="160.3" cy="137.7" r="2.45"/>
<circle cx="209.3" cy="102.1" r="2.45"/>
<circle cx="122.7" cy="170.0" r="2.45"/>
<circle cx="176.5" cy="114.5" r="2.45"/>
<circle cx="213.4" cy="74.2" r="2.45"/>
<circle cx="201.0" cy="114.7" r="2.45"/>
<circle cx="224.8" cy="95.5" r="2.45"/>
<circle cx="214.6" cy="85.6" r="2.45"/>
<circle cx="236.9" cy="71.6" r="2.45"/>
<circle cx="223.4" cy="75.2" r="2.45"/>
<circle cx="150.0" cy="151.6" r="2.45"/>
<circle cx="193.1" cy="140.0" r="2.45"/>
<circle cx="122.3" cy="170.9" r="2.45"/>
<circle cx="200.7" cy="110.0" r="2.45"/>
<circle cx="124.5" cy="163.7" r="2.45"/>
<circle cx="170.6" cy="118.2" r="2.45"/>
<circle cx="226.1" cy="83.1" r="2.45"/>
<circle cx="123.0" cy="166.7" r="2.45"/>
<circle cx="179.0" cy="132.5" r="2.45"/>
<circle cx="198.4" cy="121.7" r="2.45"/>
<circle cx="199.4" cy="110.0" r="2.45"/>
<circle cx="125.7" cy="165.8" r="2.45"/>
<circle cx="196.5" cy="113.0" r="2.45"/>
<circle cx="168.8" cy="141.6" r="2.45"/>
<circle cx="166.1" cy="134.7" r="2.45"/>
<circle cx="147.2" cy="131.9" r="2.45"/>
<circle cx="219.0" cy="101.1" r="2.45"/>
<circle cx="193.2" cy="112.8" r="2.45"/>
<circle cx="207.7" cy="116.0" r="2.45"/>
<circle cx="219.7" cy="96.5" r="2.45"/>
<circle cx="186.4" cy="122.3" r="2.45"/>
<circle cx="146.9" cy="150.1" r="2.45"/>
<circle cx="141.7" cy="158.0" r="2.45"/>
<circle cx="135.8" cy="158.4" r="2.45"/>
<circle cx="184.6" cy="131.5" r="2.45"/>
<circle cx="115.5" cy="181.5" r="2.45"/>
<circle cx="219.6" cy="90.6" r="2.45"/>
<circle cx="194.4" cy="95.8" r="2.45"/>
<circle cx="165.3" cy="126.8" r="2.45"/>
<circle cx="139.1" cy="158.6" r="2.45"/>
<circle cx="119.9" cy="178.3" r="2.45"/>
<circle cx="206.4" cy="106.5" r="2.45"/>
<circle cx="139.5" cy="153.5" r="2.45"/>
<circle cx="181.0" cy="118.7" r="2.45"/>
<circle cx="254.3" cy="65.9" r="2.45"/>
<circle cx="169.5" cy="124.2" r="2.45"/>
<circle cx="218.1" cy="101.3" r="2.45"/>
<circle cx="170.5" cy="118.1" r="2.45"/>
<circle cx="229.8" cy="89.6" r="2.45"/>
<circle cx="194.1" cy="127.8" r="2.45"/>
<circle cx="228.0" cy="83.4" r="2.45"/>
<circle cx="178.4" cy="132.6" r="2.45"/>
<circle cx="228.5" cy="84.8" r="2.45"/>
<circle cx="151.4" cy="141.0" r="2.45"/>
<circle cx="207.4" cy="99.8" r="2.45"/>
<circle cx="198.6" cy="100.1" r="2.45"/>
<circle cx="192.3" cy="130.8" r="2.45"/>
<circle cx="110.2" cy="182.6" r="2.45"/>
<circle cx="226.4" cy="83.0" r="2.45"/>
<circle cx="198.2" cy="144.1" r="2.45"/>
<circle cx="138.9" cy="160.7" r="2.45"/>
<circle cx="189.7" cy="140.4" r="2.45"/>
<circle cx="123.3" cy="172.0" r="2.45"/>
<circle cx="209.1" cy="106.2" r="2.45"/>
<circle cx="152.8" cy="134.4" r="2.45"/>
<circle cx="166.3" cy="141.6" r="2.45"/>
<circle cx="197.6" cy="94.9" r="2.45"/>
<circle cx="206.5" cy="96.1" r="2.45"/>
<circle cx="160.9" cy="136.5" r="2.45"/>
<circle cx="165.6" cy="121.1" r="2.45"/>
<circle cx="187.3" cy="116.3" r="2.45"/>
<circle cx="154.1" cy="129.2" r="2.45"/>
<circle cx="109.1" cy="179.9" r="2.45"/>
<circle cx="181.9" cy="114.0" r="2.45"/>
<circle cx="166.2" cy="153.0" r="2.45"/>
<circle cx="221.6" cy="97.7" r="2.45"/>
<circle cx="155.8" cy="136.8" r="2.45"/>
<circle cx="106.3" cy="180.4" r="2.45"/>
<circle cx="215.0" cy="72.5" r="2.45"/>
<circle cx="198.5" cy="104.0" r="2.45"/>
<circle cx="145.6" cy="166.3" r="2.45"/>
<circle cx="144.3" cy="144.6" r="2.45"/>
<circle cx="126.3" cy="162.3" r="2.45"/>
<circle cx="166.8" cy="172.8" r="2.45"/>
<circle cx="139.4" cy="161.9" r="2.45"/>
<circle cx="171.8" cy="145.1" r="2.45"/>
<circle cx="209.4" cy="92.6" r="2.45"/>
<circle cx="186.5" cy="134.5" r="2.45"/>
<circle cx="134.8" cy="186.4" r="2.45"/>
<circle cx="183.1" cy="130.9" r="2.45"/>
<circle cx="175.6" cy="135.5" r="2.45"/>
<circle cx="181.9" cy="134.6" r="2.45"/>
<circle cx="137.8" cy="169.6" r="2.45"/>
<circle cx="225.7" cy="76.2" r="2.45"/>
<circle cx="174.5" cy="120.0" r="2.45"/>
<circle cx="174.7" cy="124.3" r="2.45"/>
<circle cx="157.1" cy="130.5" r="2.45"/>
<circle cx="207.3" cy="113.6" r="2.45"/>
<circle cx="131.4" cy="163.2" r="2.45"/>
<circle cx="171.8" cy="142.6" r="2.45"/>
<circle cx="207.2" cy="83.5" r="2.45"/>
<circle cx="211.8" cy="124.0" r="2.45"/>
<circle cx="137.8" cy="162.1" r="2.45"/>
<circle cx="179.3" cy="141.4" r="2.45"/>
<circle cx="124.5" cy="171.3" r="2.45"/>
<circle cx="225.2" cy="91.8" r="2.45"/>
<circle cx="228.0" cy="84.2" r="2.45"/>
<circle cx="218.6" cy="91.7" r="2.45"/>
<circle cx="170.0" cy="129.6" r="2.45"/>
<circle cx="129.6" cy="159.3" r="2.45"/>
<circle cx="116.2" cy="162.2" r="2.45"/>
<circle cx="164.6" cy="143.2" r="2.45"/>
<circle cx="139.7" cy="151.8" r="2.45"/>
<circle cx="207.0" cy="88.4" r="2.45"/>
<circle cx="108.8" cy="179.2" r="2.45"/>
<circle cx="172.3" cy="125.5" r="2.45"/>
<circle cx="222.8" cy="73.4" r="2.45"/>
<circle cx="209.6" cy="98.0" r="2.45"/>
<circle cx="198.9" cy="107.0" r="2.45"/>
<circle cx="194.3" cy="115.1" r="2.45"/>
<circle cx="228.5" cy="93.4" r="2.45"/>
<circle cx="148.5" cy="165.9" r="2.45"/>
<circle cx="122.6" cy="166.4" r="2.45"/>
<circle cx="113.0" cy="170.1" r="2.45"/>
<circle cx="216.5" cy="96.8" r="2.45"/>
<circle cx="209.1" cy="103.9" r="2.45"/>
<circle cx="132.8" cy="164.8" r="2.45"/>
<circle cx="121.4" cy="162.7" r="2.45"/>
<circle cx="185.6" cy="128.7" r="2.45"/>
<circle cx="206.5" cy="111.5" r="2.45"/>
<circle cx="222.7" cy="90.7" r="2.45"/>
<circle cx="119.0" cy="174.0" r="2.45"/>
<circle cx="102.9" cy="181.0" r="2.45"/>
<circle cx="203.0" cy="113.0" r="2.45"/>
<circle cx="252.6" cy="67.0" r="2.45"/>
<circle cx="131.7" cy="161.0" r="2.45"/>
<circle cx="224.7" cy="77.3" r="2.45"/>
<circle cx="132.5" cy="165.3" r="2.45"/>
<circle cx="205.2" cy="96.3" r="2.45"/>
<circle cx="234.4" cy="87.8" r="2.45"/>
<circle cx="207.4" cy="120.2" r="2.45"/>
<circle cx="222.3" cy="108.2" r="2.45"/>
<circle cx="204.9" cy="103.2" r="2.45"/>
<circle cx="162.2" cy="133.8" r="2.45"/>
<circle cx="136.4" cy="165.7" r="2.45"/>
<circle cx="150.1" cy="137.5" r="2.45"/>
<circle cx="189.7" cy="102.5" r="2.45"/>
<circle cx="146.5" cy="137.5" r="2.45"/>
<circle cx="125.4" cy="159.6" r="2.45"/>
<circle cx="222.4" cy="94.6" r="2.45"/>
<circle cx="144.7" cy="148.2" r="2.45"/>
<circle cx="205.2" cy="106.8" r="2.45"/>
<circle cx="143.9" cy="161.7" r="2.45"/>
<circle cx="157.9" cy="149.9" r="2.45"/>
<circle cx="187.6" cy="143.4" r="2.45"/>
<circle cx="218.6" cy="102.0" r="2.45"/>
<circle cx="137.8" cy="154.7" r="2.45"/>
<circle cx="130.7" cy="163.8" r="2.45"/>
<circle cx="137.6" cy="172.6" r="2.45"/>
<circle cx="164.7" cy="136.9" r="2.45"/>
<circle cx="235.5" cy="79.5" r="2.45"/>
<circle cx="237.3" cy="72.9" r="2.45"/>
<circle cx="160.8" cy="149.9" r="2.45"/>
<circle cx="182.8" cy="127.8" r="2.45"/>
<circle cx="145.5" cy="145.1" r="2.45"/>
<circle cx="251.3" cy="67.3" r="2.45"/>
<circle cx="191.7" cy="98.3" r="2.45"/>
<circle cx="180.4" cy="130.4" r="2.45"/>
<circle cx="120.4" cy="168.4" r="2.45"/>
<circle cx="198.8" cy="110.0" r="2.45"/>
<circle cx="121.9" cy="172.2" r="2.45"/>
<circle cx="155.5" cy="153.6" r="2.45"/>
<circle cx="226.4" cy="113.0" r="2.45"/>
<circle cx="105.5" cy="185.4" r="2.45"/>
<circle cx="199.5" cy="123.4" r="2.45"/>
<circle cx="238.8" cy="72.7" r="2.45"/>
<circle cx="183.2" cy="130.5" r="2.45"/>
<circle cx="199.7" cy="124.6" r="2.45"/>
<circle cx="182.4" cy="131.3" r="2.45"/>
<circle cx="130.3" cy="157.3" r="2.45"/>
<circle cx="154.1" cy="150.2" r="2.45"/>
<circle cx="143.0" cy="151.4" r="2.45"/>
<circle cx="163.1" cy="145.4" r="2.45"/>
<circle cx="180.3" cy="122.0" r="2.45"/>
<circle cx="210.3" cy="84.8" r="2.45"/>
<circle cx="170.9" cy="137.6" r="2.45"/>
<circle cx="188.6" cy="100.9" r="2.45"/>
<circle cx="236.4" cy="77.7" r="2.45"/>
<circle cx="212.6" cy="95.4" r="2.45"/>
<circle cx="148.6" cy="125.3" r="2.45"/>
<circle cx="106.4" cy="182.5" r="2.45"/>
<circle cx="157.3" cy="128.2" r="2.45"/>
<circle cx="115.2" cy="185.6" r="2.45"/>
<circle cx="107.8" cy="169.6" r="2.45"/>
<circle cx="144.3" cy="147.8" r="2.45"/>
<circle cx="214.1" cy="94.6" r="2.45"/>
<circle cx="143.6" cy="167.0" r="2.45"/>
<circle cx="204.9" cy="121.5" r="2.45"/>
<circle cx="205.5" cy="100.8" r="2.45"/>
<circle cx="152.5" cy="148.1" r="2.45"/>
<circle cx="182.3" cy="127.2" r="2.45"/>
<circle cx="139.7" cy="157.9" r="2.45"/>
<circle cx="138.0" cy="170.7" r="2.45"/>
<circle cx="201.6" cy="92.1" r="2.45"/>
<circle cx="100.1" cy="183.2" r="2.45"/>
<circle cx="134.1" cy="151.6" r="2.45"/>
<circle cx="122.4" cy="178.8" r="2.45"/>
<circle cx="166.0" cy="142.6" r="2.45"/>
<circle cx="135.2" cy="157.3" r="2.45"/>
<circle cx="196.4" cy="119.7" r="2.45"/>
<circle cx="176.1" cy="136.1" r="2.45"/>
<circle cx="156.1" cy="140.4" r="2.45"/>
<circle cx="135.1" cy="164.0" r="2.45"/>
<circle cx="208.0" cy="108.8" r="2.45"/>
<circle cx="126.7" cy="173.3" r="2.45"/>
<circle cx="176.0" cy="132.3" r="2.45"/>
<circle cx="190.8" cy="81.4" r="2.45"/>
<circle cx="150.7" cy="153.6" r="2.45"/>
<circle cx="159.8" cy="133.6" r="2.45"/>
<circle cx="144.1" cy="166.9" r="2.45"/>
<circle cx="210.4" cy="108.1" r="2.45"/>
<circle cx="203.1" cy="108.0" r="2.45"/>
<circle cx="240.4" cy="71.8" r="2.45"/>
<circle cx="142.0" cy="168.0" r="2.45"/>
<circle cx="189.4" cy="117.3" r="2.45"/>
<circle cx="174.3" cy="134.0" r="2.45"/>
<circle cx="179.4" cy="129.5" r="2.45"/>
<circle cx="135.0" cy="163.9" r="2.45"/>
<circle cx="185.4" cy="136.1" r="2.45"/>
<circle cx="172.9" cy="135.8" r="2.45"/>
<circle cx="171.4" cy="112.6" r="2.45"/>
<circle cx="104.6" cy="187.0" r="2.45"/>
<circle cx="134.9" cy="171.1" r="2.45"/>
<circle cx="178.8" cy="136.9" r="2.45"/>
<circle cx="201.8" cy="117.4" r="2.45"/>
<circle cx="147.8" cy="178.0" r="2.45"/>
<circle cx="211.1" cy="99.4" r="2.45"/>
<circle cx="134.4" cy="183.8" r="2.45"/>
<circle cx="158.3" cy="118.6" r="2.45"/>
<circle cx="199.7" cy="100.1" r="2.45"/>
<circle cx="221.1" cy="80.4" r="2.45"/>
<circle cx="229.2" cy="76.5" r="2.45"/>
<circle cx="110.8" cy="175.5" r="2.45"/>
<circle cx="240.8" cy="75.7" r="2.45"/>
<circle cx="170.4" cy="163.0" r="2.45"/>
<circle cx="197.5" cy="122.6" r="2.45"/>
<circle cx="182.0" cy="107.4" r="2.45"/>
<circle cx="141.6" cy="126.0" r="2.45"/>
<circle cx="135.3" cy="158.7" r="2.45"/>
<circle cx="122.7" cy="166.1" r="2.45"/>
<circle cx="238.8" cy="78.8" r="2.45"/>
<circle cx="129.5" cy="172.8" r="2.45"/>
<circle cx="186.0" cy="126.5" r="2.45"/>
<circle cx="113.0" cy="169.4" r="2.45"/>
<circle cx="163.5" cy="144.7" r="2.45"/>
<circle cx="261.4" cy="56.3" r="2.45"/>
<circle cx="238.6" cy="73.6" r="2.45"/>
<circle cx="185.3" cy="112.9" r="2.45"/>
<circle cx="124.9" cy="175.9" r="2.45"/>
<circle cx="246.0" cy="72.9" r="2.45"/>
<circle cx="231.2" cy="80.8" r="2.45"/>
<circle cx="210.0" cy="113.8" r="2.45"/>
<circle cx="130.3" cy="169.9" r="2.45"/>
<circle cx="171.3" cy="143.1" r="2.45"/>
<circle cx="220.4" cy="96.9" r="2.45"/>
<circle cx="193.4" cy="109.2" r="2.45"/>
<circle cx="235.0" cy="73.2" r="2.45"/>
<circle cx="172.1" cy="119.0" r="2.45"/>
<circle cx="159.1" cy="149.1" r="2.45"/>
<circle cx="201.4" cy="121.1" r="2.45"/>
<circle cx="200.7" cy="108.3" r="2.45"/>
<circle cx="159.0" cy="143.1" r="2.45"/>
<circle cx="179.7" cy="133.5" r="2.45"/>
<circle cx="144.9" cy="162.8" r="2.45"/>
<circle cx="215.9" cy="103.1" r="2.45"/>
<circle cx="115.5" cy="178.0" r="2.45"/>
<circle cx="222.8" cy="95.8" r="2.45"/>
<circle cx="190.2" cy="116.5" r="2.45"/>
<circle cx="170.3" cy="137.1" r="2.45"/>
<circle cx="204.7" cy="126.5" r="2.45"/>
<circle cx="189.8" cy="127.0" r="2.45"/>
<circle cx="208.9" cy="95.6" r="2.45"/>
<circle cx="160.5" cy="146.0" r="2.45"/>
<circle cx="205.7" cy="104.9" r="2.45"/>
<circle cx="143.4" cy="156.5" r="2.45"/>
<circle cx="167.6" cy="104.8" r="2.45"/>
<circle cx="192.9" cy="148.3" r="2.45"/>
<circle cx="108.0" cy="181.7" r="2.45"/>
<circle cx="211.2" cy="125.4" r="2.45"/>
<circle cx="163.3" cy="124.9" r="2.45"/>
<circle cx="157.1" cy="134.7" r="2.45"/>
<circle cx="146.1" cy="157.0" r="2.45"/>
<circle cx="223.2" cy="106.3" r="2.45"/>
<circle cx="155.8" cy="142.6" r="2.45"/>
<circle cx="132.4" cy="168.0" r="2.45"/>
<circle cx="136.4" cy="152.4" r="2.45"/>
<circle cx="180.3" cy="153.7" r="2.45"/>
<circle cx="216.6" cy="87.8" r="2.45"/>
<circle cx="208.7" cy="95.9" r="2.45"/>
<circle cx="178.4" cy="126.0" r="2.45"/>
<circle cx="117.5" cy="170.7" r="2.45"/>
<circle cx="226.1" cy="100.5" r="2.45"/>
<circle cx="169.6" cy="147.5" r="2.45"/>
<circle cx="196.9" cy="91.6" r="2.45"/>
<circle cx="195.5" cy="108.9" r="2.45"/>
<circle cx="198.1" cy="111.1" r="2.45"/>
<circle cx="170.4" cy="147.5" r="2.45"/>
<circle cx="142.5" cy="151.7" r="2.45"/>
<circle cx="200.5" cy="107.8" r="2.45"/>
<circle cx="167.7" cy="145.0" r="2.45"/>
<circle cx="219.3" cy="90.7" r="2.45"/>
<circle cx="156.5" cy="142.4" r="2.45"/>
<circle cx="105.0" cy="186.0" r="2.45"/>
<circle cx="236.0" cy="99.0" r="2.45"/>
<circle cx="223.0" cy="91.4" r="2.45"/>
<circle cx="207.3" cy="92.1" r="2.45"/>
<circle cx="150.3" cy="149.1" r="2.45"/>
<circle cx="132.7" cy="160.3" r="2.45"/>
<circle cx="194.1" cy="136.1" r="2.45"/>
<circle cx="164.9" cy="153.6" r="2.45"/>
<circle cx="172.7" cy="115.5" r="2.45"/>
<circle cx="167.3" cy="144.1" r="2.45"/>
<circle cx="130.7" cy="163.2" r="2.45"/>
<circle cx="198.0" cy="137.9" r="2.45"/>
<circle cx="193.1" cy="107.2" r="2.45"/>
<circle cx="149.7" cy="127.9" r="2.45"/>
<circle cx="126.4" cy="185.8" r="2.45"/>
<circle cx="191.5" cy="105.6" r="2.45"/>
<circle cx="165.7" cy="130.7" r="2.45"/>
<circle cx="142.1" cy="143.5" r="2.45"/>
<circle cx="174.1" cy="119.1" r="2.45"/>
<circle cx="154.3" cy="129.8" r="2.45"/>
<circle cx="207.5" cy="108.5" r="2.45"/>
<circle cx="141.0" cy="151.5" r="2.45"/>
<circle cx="154.2" cy="142.4" r="2.45"/>
<circle cx="194.1" cy="139.1" r="2.45"/>
<circle cx="156.8" cy="151.1" r="2.45"/>
<circle cx="228.0" cy="94.3" r="2.45"/>
<circle cx="143.3" cy="150.6" r="2.45"/>
<circle cx="163.0" cy="134.3" r="2.45"/>
<circle cx="177.9" cy="105.6" r="2.45"/>
<circle cx="197.1" cy="117.9" r="2.45"/>
<circle cx="110.0" cy="192.1" r="2.45"/>
<circle cx="180.8" cy="127.0" r="2.45"/>
<circle cx="168.7" cy="130.2" r="2.45"/>
<circle cx="116.1" cy="172.5" r="2.45"/>
<circle cx="130.9" cy="190.9" r="2.45"/>
<circle cx="148.7" cy="160.6" r="2.45"/>
<circle cx="140.8" cy="145.0" r="2.45"/>
<circle cx="110.0" cy="175.9" r="2.45"/>
<circle cx="227.2" cy="83.0" r="2.45"/>
<circle cx="165.5" cy="138.5" r="2.45"/>
<circle cx="177.8" cy="118.0" r="2.45"/>
<circle cx="213.0" cy="100.5" r="2.45"/>
<circle cx="177.2" cy="124.4" r="2.45"/>
<circle cx="153.9" cy="149.7" r="2.45"/>
<circle cx="143.4" cy="151.9" r="2.45"/>
<circle cx="224.8" cy="94.5" r="2.45"/>
<circle cx="208.3" cy="91.6" r="2.45"/>
<circle cx="120.5" cy="185.5" r="2.45"/>
<circle cx="220.8" cy="117.3" r="2.45"/>
<circle cx="191.6" cy="121.7" r="2.45"/>
<circle cx="195.9" cy="115.2" r="2.45"/>
<circle cx="228.7" cy="76.5" r="2.45"/>
<circle cx="146.6" cy="144.7" r="2.45"/>
<circle cx="188.3" cy="114.7" r="2.45"/>
<circle cx="172.6" cy="141.7" r="2.45"/>
<circle cx="187.4" cy="118.2" r="2.45"/>
<circle cx="169.3" cy="131.7" r="2.45"/>
<circle cx="214.2" cy="119.2" r="2.45"/>
<circle cx="156.9" cy="137.7" r="2.45"/>
<circle cx="171.9" cy="143.2" r="2.45"/>
<circle cx="180.8" cy="102.6" r="2.45"/>
<circle cx="142.6" cy="166.0" r="2.45"/>
<circle cx="116.1" cy="181.9" r="2.45"/>
<circle cx="245.6" cy="70.0" r="2.45"/>
<circle cx="216.7" cy="96.9" r="2.45"/>
<circle cx="202.9" cy="118.6" r="2.45"/>
<circle cx="205.5" cy="75.4" r="2.45"/>
<circle cx="206.6" cy="100.1" r="2.45"/>
<circle cx="194.7" cy="101.0" r="2.45"/>
<circle cx="173.7" cy="108.6" r="2.45"/>
<circle cx="199.4" cy="112.6" r="2.45"/>
<circle cx="129.4" cy="170.7" r="2.45"/>
<circle cx="150.2" cy="158.4" r="2.45"/>
<circle cx="184.9" cy="141.0" r="2.45"/>
<circle cx="190.8" cy="112.9" r="2.45"/>
<circle cx="193.1" cy="122.2" r="2.45"/>
<circle cx="123.3" cy="165.7" r="2.45"/>
<circle cx="248.1" cy="70.3" r="2.45"/>
<circle cx="183.6" cy="126.6" r="2.45"/>
<circle cx="155.0" cy="127.2" r="2.45"/>
<circle cx="171.5" cy="127.5" r="2.45"/>
<circle cx="169.7" cy="127.2" r="2.45"/>
<circle cx="241.6" cy="74.9" r="2.45"/>
<circle cx="182.2" cy="155.7" r="2.45"/>
<circle cx="145.7" cy="149.8" r="2.45"/>
<circle cx="177.3" cy="130.2" r="2.45"/>
<circle cx="147.1" cy="145.1" r="2.45"/>
<circle cx="185.0" cy="131.9" r="2.45"/>
<circle cx="152.2" cy="150.8" r="2.45"/>
<circle cx="147.3" cy="148.5" r="2.45"/>
<circle cx="146.8" cy="159.1" r="2.45"/>
<circle cx="216.2" cy="67.8" r="2.45"/>
<circle cx="227.6" cy="83.8" r="2.45"/>
<circle cx="194.9" cy="106.6" r="2.45"/>
<circle cx="115.1" cy="176.4" r="2.45"/>
<circle cx="175.0" cy="131.1" r="2.45"/>
<circle cx="228.1" cy="98.5" r="2.45"/>
<circle cx="214.4" cy="87.9" r="2.45"/>
<circle cx="186.3" cy="101.9" r="2.45"/>
<circle cx="184.4" cy="107.4" r="2.45"/>
<circle cx="171.5" cy="139.4" r="2.45"/>
<circle cx="141.9" cy="152.1" r="2.45"/>
<circle cx="211.6" cy="103.5" r="2.45"/>
<circle cx="187.6" cy="125.0" r="2.45"/>
<circle cx="185.2" cy="126.8" r="2.45"/>
<circle cx="107.2" cy="179.4" r="2.45"/>
<circle cx="185.0" cy="124.4" r="2.45"/>
<circle cx="105.8" cy="178.8" r="2.45"/>
<circle cx="194.3" cy="104.6" r="2.45"/>
<circle cx="212.4" cy="91.6" r="2.45"/>
<circle cx="208.4" cy="105.2" r="2.45"/>
<circle cx="181.0" cy="139.4" r="2.45"/>
<circle cx="152.8" cy="159.1" r="2.45"/>
<circle cx="129.8" cy="166.0" r="2.45"/>
<circle cx="172.5" cy="131.9" r="2.45"/>
<circle cx="239.4" cy="85.4" r="2.45"/>
<circle cx="118.4" cy="172.9" r="2.45"/>
<circle cx="188.3" cy="123.2" r="2.45"/>
<circle cx="157.9" cy="146.9" r="2.45"/>
<circle cx="136.6" cy="160.2" r="2.45"/>
<circle cx="199.1" cy="119.8" r="2.45"/>
<circle cx="158.8" cy="133.1" r="2.45"/>
<circle cx="163.3" cy="147.6" r="2.45"/>
<circle cx="131.4" cy="167.4" r="2.45"/>
<circle cx="110.1" cy="174.7" r="2.45"/>
<circle cx="128.8" cy="159.0" r="2.45"/>
<circle cx="109.5" cy="186.4" r="2.45"/>
<circle cx="162.6" cy="137.2" r="2.45"/>
<circle cx="123.2" cy="161.3" r="2.45"/>
<circle cx="212.6" cy="103.2" r="2.45"/>
<circle cx="175.2" cy="120.5" r="2.45"/>
<circle cx="229.0" cy="89.7" r="2.45"/>
<circle cx="195.5" cy="119.6" r="2.45"/>
<circle cx="120.5" cy="175.5" r="2.45"/>
<circle cx="203.8" cy="118.5" r="2.45"/>
<circle cx="227.0" cy="97.1" r="2.45"/>
<circle cx="149.7" cy="156.2" r="2.45"/>
<circle cx="209.5" cy="94.7" r="2.45"/>
<circle cx="158.3" cy="156.7" r="2.45"/>
<circle cx="153.5" cy="126.8" r="2.45"/>
<circle cx="208.8" cy="110.8" r="2.45"/>
<circle cx="233.9" cy="71.2" r="2.45"/>
<circle cx="107.9" cy="188.9" r="2.45"/>
<circle cx="127.9" cy="169.7" r="2.45"/>
<circle cx="105.7" cy="187.5" r="2.45"/>
<circle cx="166.8" cy="103.5" r="2.45"/>
<circle cx="182.9" cy="112.5" r="2.45"/>
<circle cx="190.6" cy="120.3" r="2.45"/>
<circle cx="136.4" cy="169.5" r="2.45"/>
<circle cx="174.0" cy="112.5" r="2.45"/>
<circle cx="139.2" cy="143.7" r="2.45"/>
<circle cx="203.3" cy="63.1" r="2.45"/>
<circle cx="131.9" cy="166.5" r="2.45"/>
<circle cx="168.7" cy="149.0" r="2.45"/>
<circle cx="183.3" cy="154.3" r="2.45"/>
<circle cx="118.9" cy="177.8" r="2.45"/>
<circle cx="164.0" cy="129.8" r="2.45"/>
<circle cx="249.5" cy="68.4" r="2.45"/>
<circle cx="183.3" cy="132.5" r="2.45"/>
<circle cx="196.0" cy="107.9" r="2.45"/>
<circle cx="206.4" cy="104.2" r="2.45"/>
<circle cx="204.4" cy="116.3" r="2.45"/>
<circle cx="229.7" cy="76.3" r="2.45"/>
<circle cx="142.5" cy="147.9" r="2.45"/>
<circle cx="185.1" cy="141.1" r="2.45"/>
<circle cx="195.5" cy="106.5" r="2.45"/>
<circle cx="202.9" cy="103.9" r="2.45"/>
<circle cx="210.2" cy="104.9" r="2.45"/>
<circle cx="231.9" cy="68.4" r="2.45"/>
<circle cx="196.8" cy="129.3" r="2.45"/>
<circle cx="169.6" cy="133.4" r="2.45"/>
<circle cx="161.2" cy="137.9" r="2.45"/>
<circle cx="165.1" cy="126.6" r="2.45"/>
<circle cx="221.4" cy="97.8" r="2.45"/>
<circle cx="159.0" cy="127.5" r="2.45"/>
<circle cx="221.9" cy="96.3" r="2.45"/>
<circle cx="139.0" cy="164.4" r="2.45"/>
<circle cx="178.5" cy="123.1" r="2.45"/>
<circle cx="256.8" cy="66.5" r="2.45"/>
<circle cx="222.9" cy="77.4" r="2.45"/>
<circle cx="130.4" cy="166.7" r="2.45"/>
<circle cx="130.3" cy="157.5" r="2.45"/>
<circle cx="160.8" cy="144.7" r="2.45"/>
<circle cx="156.1" cy="149.7" r="2.45"/>
<circle cx="161.4" cy="136.7" r="2.45"/>
<circle cx="170.9" cy="130.0" r="2.45"/>
<circle cx="186.2" cy="104.0" r="2.45"/>
<circle cx="200.8" cy="128.9" r="2.45"/>
<circle cx="169.9" cy="140.7" r="2.45"/>
<circle cx="156.9" cy="148.2" r="2.45"/>
<circle cx="119.5" cy="169.8" r="2.45"/>
<circle cx="178.7" cy="122.0" r="2.45"/>
<circle cx="144.4" cy="150.9" r="2.45"/>
<circle cx="183.2" cy="97.5" r="2.45"/>
<circle cx="132.4" cy="170.4" r="2.45"/>
<circle cx="234.3" cy="83.7" r="2.45"/>
<circle cx="182.4" cy="130.8" r="2.45"/>
<circle cx="171.0" cy="141.3" r="2.45"/>
<circle cx="175.1" cy="119.0" r="2.45"/>
<circle cx="246.3" cy="76.2" r="2.45"/>
<circle cx="170.5" cy="122.2" r="2.45"/>
<circle cx="187.2" cy="120.7" r="2.45"/>
<circle cx="204.0" cy="138.9" r="2.45"/>
<circle cx="180.5" cy="109.1" r="2.45"/>
<circle cx="211.9" cy="94.9" r="2.45"/>
<circle cx="190.2" cy="98.5" r="2.45"/>
<circle cx="125.7" cy="179.9" r="2.45"/>
<circle cx="234.3" cy="83.9" r="2.45"/>
<circle cx="234.9" cy="95.3" r="2.45"/>
<circle cx="216.6" cy="94.8" r="2.45"/>
<circle cx="146.1" cy="146.5" r="2.45"/>
<circle cx="220.4" cy="94.2" r="2.45"/>
<circle cx="120.9" cy="167.3" r="2.45"/>
<circle cx="114.6" cy="182.9" r="2.45"/>
<circle cx="221.8" cy="81.1" r="2.45"/>
<circle cx="192.9" cy="129.3" r="2.45"/>
<circle cx="211.7" cy="104.9" r="2.45"/>
<circle cx="148.0" cy="149.3" r="2.45"/>
<circle cx="235.0" cy="73.0" r="2.45"/>
<circle cx="184.4" cy="103.6" r="2.45"/>
<circle cx="116.7" cy="171.4" r="2.45"/>
<circle cx="192.5" cy="131.0" r="2.45"/>
<circle cx="191.1" cy="104.4" r="2.45"/>
<circle cx="187.3" cy="120.0" r="2.45"/>
<circle cx="112.0" cy="183.3" r="2.45"/>
<circle cx="162.1" cy="140.9" r="2.45"/>
<circle cx="164.8" cy="146.7" r="2.45"/>
<circle cx="230.2" cy="89.7" r="2.45"/>
<circle cx="177.1" cy="140.0" r="2.45"/>
<circle cx="180.7" cy="109.9" r="2.45"/>
<circle cx="193.8" cy="125.7" r="2.45"/>
<circle cx="145.2" cy="175.0" r="2.45"/>
<circle cx="115.0" cy="173.2" r="2.45"/>
<circle cx="129.3" cy="173.8" r="2.45"/>
<circle cx="155.9" cy="114.3" r="2.45"/>
<circle cx="112.5" cy="174.1" r="2.45"/>
<circle cx="236.0" cy="78.3" r="2.45"/>
<circle cx="183.0" cy="141.7" r="2.45"/>
<circle cx="173.4" cy="136.7" r="2.45"/>
<circle cx="172.8" cy="118.3" r="2.45"/>
<circle cx="193.3" cy="118.0" r="2.45"/>
<circle cx="128.0" cy="161.3" r="2.45"/>
<circle cx="215.9" cy="83.2" r="2.45"/>
<circle cx="132.1" cy="172.7" r="2.45"/>
<circle cx="150.8" cy="153.3" r="2.45"/>
<circle cx="202.1" cy="108.2" r="2.45"/>
<circle cx="157.5" cy="129.1" r="2.45"/>
<circle cx="217.1" cy="94.9" r="2.45"/>
<circle cx="129.1" cy="176.9" r="2.45"/>
<circle cx="212.4" cy="87.5" r="2.45"/>
<circle cx="203.8" cy="98.3" r="2.45"/>
<circle cx="155.8" cy="148.2" r="2.45"/>
<circle cx="210.0" cy="117.7" r="2.45"/>
<circle cx="159.5" cy="144.2" r="2.45"/>
<circle cx="121.7" cy="185.9" r="2.45"/>
<circle cx="158.4" cy="118.0" r="2.45"/>
<circle cx="192.4" cy="98.3" r="2.45"/>
<circle cx="208.7" cy="115.7" r="2.45"/>
<circle cx="149.7" cy="160.4" r="2.45"/>
<circle cx="128.9" cy="165.4" r="2.45"/>
<circle cx="175.2" cy="127.1" r="2.45"/>
<circle cx="198.2" cy="103.1" r="2.45"/>
<circle cx="193.8" cy="105.7" r="2.45"/>
<circle cx="184.3" cy="121.0" r="2.45"/>
<circle cx="112.0" cy="183.5" r="2.45"/>
<circle cx="208.8" cy="118.6" r="2.45"/>
<circle cx="168.7" cy="119.7" r="2.45"/>
<circle cx="208.1" cy="85.6" r="2.45"/>
<circle cx="129.3" cy="193.1" r="2.45"/>
<circle cx="179.8" cy="102.2" r="2.45"/>
<circle cx="133.3" cy="167.6" r="2.45"/>
<circle cx="149.3" cy="168.1" r="2.45"/>
<circle cx="222.5" cy="86.8" r="2.45"/>
<circle cx="170.8" cy="134.1" r="2.45"/>
<circle cx="170.8" cy="140.8" r="2.45"/>
<circle cx="197.8" cy="112.3" r="2.45"/>
<circle cx="186.7" cy="126.3" r="2.45"/>
<circle cx="171.2" cy="155.8" r="2.45"/>
<circle cx="171.3" cy="114.7" r="2.45"/>
<circle cx="174.2" cy="130.0" r="2.45"/>
<circle cx="195.3" cy="101.4" r="2.45"/>
<circle cx="196.4" cy="115.4" r="2.45"/>
<circle cx="226.4" cy="88.2" r="2.45"/>
<circle cx="228.1" cy="81.6" r="2.45"/>
<circle cx="156.7" cy="136.1" r="2.45"/>
<circle cx="218.7" cy="74.4" r="2.45"/>
<circle cx="167.7" cy="133.2" r="2.45"/>
<circle cx="144.4" cy="147.7" r="2.45"/>
<circle cx="185.8" cy="129.9" r="2.45"/>
<circle cx="146.9" cy="136.8" r="2.45"/>
<circle cx="103.4" cy="188.2" r="2.45"/>
<circle cx="197.8" cy="99.3" r="2.45"/>
<circle cx="189.1" cy="131.8" r="2.45"/>
<circle cx="243.4" cy="77.3" r="2.45"/>
<circle cx="184.3" cy="119.1" r="2.45"/>
<circle cx="166.0" cy="153.5" r="2.45"/>
<circle cx="232.1" cy="96.4" r="2.45"/>
<circle cx="206.0" cy="107.2" r="2.45"/>
<circle cx="167.5" cy="154.6" r="2.45"/>
<circle cx="117.5" cy="184.4" r="2.45"/>
<circle cx="153.2" cy="142.1" r="2.45"/>
<circle cx="181.8" cy="128.6" r="2.45"/>
<circle cx="120.9" cy="158.5" r="2.45"/>
<circle cx="136.2" cy="170.4" r="2.45"/>
<circle cx="172.4" cy="129.3" r="2.45"/>
<circle cx="195.7" cy="105.2" r="2.45"/>
<circle cx="121.9" cy="165.5" r="2.45"/>
<circle cx="214.6" cy="106.2" r="2.45"/>
<circle cx="171.6" cy="142.9" r="2.45"/>
<circle cx="187.6" cy="107.7" r="2.45"/>
<circle cx="136.3" cy="159.3" r="2.45"/>
<circle cx="139.6" cy="152.8" r="2.45"/>
<circle cx="194.7" cy="112.3" r="2.45"/>
<circle cx="143.6" cy="153.4" r="2.45"/>
<circle cx="119.4" cy="181.7" r="2.45"/>
<circle cx="233.5" cy="109.8" r="2.45"/>
<circle cx="161.5" cy="133.2" r="2.45"/>
<circle cx="181.0" cy="123.8" r="2.45"/>
<circle cx="141.7" cy="162.7" r="2.45"/>
<circle cx="225.3" cy="95.7" r="2.45"/>
<circle cx="234.6" cy="80.1" r="2.45"/>
<circle cx="241.0" cy="92.1" r="2.45"/>
<circle cx="241.7" cy="68.7" r="2.45"/>
<circle cx="157.3" cy="162.2" r="2.45"/>
<circle cx="165.0" cy="132.9" r="2.45"/>
<circle cx="153.0" cy="154.7" r="2.45"/>
<circle cx="163.3" cy="149.3" r="2.45"/>
<circle cx="220.9" cy="88.3" r="2.45"/>
<circle cx="119.8" cy="172.1" r="2.45"/>
<circle cx="185.8" cy="117.9" r="2.45"/>
<circle cx="226.1" cy="82.3" r="2.45"/>
<circle cx="187.0" cy="116.5" r="2.45"/>
<circle cx="195.0" cy="107.9" r="2.45"/>
<circle cx="146.1" cy="161.0" r="2.45"/>
<circle cx="196.4" cy="94.5" r="2.45"/>
<circle cx="142.9" cy="166.4" r="2.45"/>
<circle cx="107.8" cy="193.4" r="2.45"/>
<circle cx="213.9" cy="104.8" r="2.45"/>
<circle cx="161.7" cy="143.0" r="2.45"/>
<circle cx="216.9" cy="107.8" r="2.45"/>
<circle cx="166.9" cy="131.5" r="2.45"/>
<circle cx="150.4" cy="154.2" r="2.45"/>
<circle cx="140.1" cy="168.6" r="2.45"/>
<circle cx="183.0" cy="115.7" r="2.45"/>
<circle cx="187.9" cy="122.6" r="2.45"/>
<circle cx="197.9" cy="96.3" r="2.45"/>
<circle cx="183.5" cy="134.3" r="2.45"/>
<circle cx="176.5" cy="113.0" r="2.45"/>
<circle cx="163.2" cy="130.9" r="2.45"/>
<circle cx="162.4" cy="144.5" r="2.45"/>
<circle cx="115.8" cy="177.7" r="2.45"/>
<circle cx="111.2" cy="175.3" r="2.45"/>
<circle cx="239.5" cy="78.2" r="2.45"/>
<circle cx="229.2" cy="104.5" r="2.45"/>
<circle cx="134.5" cy="152.3" r="2.45"/>
<circle cx="101.5" cy="179.4" r="2.45"/>
<circle cx="190.8" cy="116.0" r="2.45"/>
<circle cx="151.0" cy="152.1" r="2.45"/>
<circle cx="192.7" cy="112.5" r="2.45"/>
<circle cx="163.1" cy="125.2" r="2.45"/>
<circle cx="187.8" cy="126.2" r="2.45"/>
<circle cx="161.8" cy="151.8" r="2.45"/>
<circle cx="223.5" cy="100.0" r="2.45"/>
<circle cx="140.2" cy="148.2" r="2.45"/>
<circle cx="125.8" cy="184.3" r="2.45"/>
<circle cx="192.5" cy="111.0" r="2.45"/>
<circle cx="125.6" cy="175.0" r="2.45"/>
<circle cx="168.5" cy="127.9" r="2.45"/>
<circle cx="126.1" cy="165.9" r="2.45"/>
<circle cx="133.5" cy="162.0" r="2.45"/>
<circle cx="140.1" cy="179.6" r="2.45"/>
<circle cx="160.6" cy="144.5" r="2.45"/>
<circle cx="122.8" cy="178.0" r="2.45"/>
<circle cx="179.7" cy="110.2" r="2.45"/>
<circle cx="139.6" cy="154.0" r="2.45"/>
<circle cx="157.0" cy="166.6" r="2.45"/>
<circle cx="227.2" cy="96.4" r="2.45"/>
<circle cx="136.5" cy="157.9" r="2.45"/>
<circle cx="187.5" cy="129.8" r="2.45"/>
<circle cx="247.4" cy="66.9" r="2.45"/>
<circle cx="138.9" cy="144.0" r="2.45"/>
<circle cx="166.0" cy="135.0" r="2.45"/>
<circle cx="204.2" cy="112.4" r="2.45"/>
<circle cx="207.9" cy="101.7" r="2.45"/>
<circle cx="121.7" cy="168.9" r="2.45"/>
<circle cx="199.5" cy="115.6" r="2.45"/>
<circle cx="188.0" cy="105.3" r="2.45"/>
<circle cx="180.1" cy="133.3" r="2.45"/>
<circle cx="144.9" cy="158.8" r="2.45"/>
<circle cx="123.8" cy="165.5" r="2.45"/>
<circle cx="165.6" cy="149.9" r="2.45"/>
<circle cx="134.8" cy="150.6" r="2.45"/>
<circle cx="153.3" cy="149.8" r="2.45"/>
<circle cx="175.4" cy="125.7" r="2.45"/>
<circle cx="114.5" cy="175.8" r="2.45"/>
<circle cx="137.8" cy="172.5" r="2.45"/>
<circle cx="133.8" cy="153.1" r="2.45"/>
<circle cx="181.5" cy="119.2" r="2.45"/>
<circle cx="156.9" cy="149.9" r="2.45"/>
<circle cx="224.8" cy="71.5" r="2.45"/>
<circle cx="226.8" cy="122.6" r="2.45"/>
<circle cx="180.3" cy="132.3" r="2.45"/>
<circle cx="211.1" cy="85.6" r="2.45"/>
<circle cx="199.7" cy="98.1" r="2.45"/>
<circle cx="177.7" cy="135.4" r="2.45"/>
<circle cx="137.0" cy="147.3" r="2.45"/>
<circle cx="180.8" cy="119.9" r="2.45"/>
<circle cx="155.3" cy="157.9" r="2.45"/>
<circle cx="190.6" cy="126.0" r="2.45"/>
<circle cx="96.7" cy="183.2" r="2.45"/>
<circle cx="197.0" cy="118.5" r="2.45"/>
<circle cx="218.7" cy="103.2" r="2.45"/>
<circle cx="178.3" cy="127.7" r="2.45"/>
<circle cx="138.0" cy="153.9" r="2.45"/>
<circle cx="189.0" cy="100.1" r="2.45"/>
<circle cx="159.0" cy="152.0" r="2.45"/>
<circle cx="179.2" cy="116.4" r="2.45"/>
<circle cx="182.7" cy="132.3" r="2.45"/>
<circle cx="139.8" cy="167.5" r="2.45"/>
<circle cx="186.8" cy="100.3" r="2.45"/>
<circle cx="159.9" cy="153.0" r="2.45"/>
<circle cx="139.6" cy="152.7" r="2.45"/>
<circle cx="127.7" cy="170.4" r="2.45"/>
<circle cx="139.2" cy="149.8" r="2.45"/>
<circle cx="200.1" cy="93.5" r="2.45"/>
<circle cx="216.8" cy="113.0" r="2.45"/>
<circle cx="179.5" cy="140.1" r="2.45"/>
<circle cx="128.6" cy="166.7" r="2.45"/>
<circle cx="236.1" cy="74.9" r="2.45"/>
<circle cx="165.2" cy="134.6" r="2.45"/>
<circle cx="126.9" cy="152.0" r="2.45"/>
<circle cx="134.3" cy="165.3" r="2.45"/>
<circle cx="132.5" cy="161.4" r="2.45"/>
<circle cx="221.0" cy="98.6" r="2.45"/>
<circle cx="174.4" cy="140.6" r="2.45"/>
<circle cx="160.9" cy="127.6" r="2.45"/>
<circle cx="210.2" cy="108.4" r="2.45"/>
<circle cx="197.0" cy="93.2" r="2.45"/>
<circle cx="238.2" cy="86.9" r="2.45"/>
<circle cx="243.4" cy="72.0" r="2.45"/>
<circle cx="173.4" cy="127.5" r="2.45"/>
<circle cx="227.6" cy="64.8" r="2.45"/>
<circle cx="143.8" cy="141.3" r="2.45"/>
<circle cx="152.2" cy="154.4" r="2.45"/>
<circle cx="212.6" cy="100.1" r="2.45"/>
<circle cx="236.3" cy="83.9" r="2.45"/>
<circle cx="201.7" cy="103.7" r="2.45"/>
<circle cx="111.0" cy="182.8" r="2.45"/>
<circle cx="155.9" cy="140.0" r="2.45"/>
<circle cx="155.0" cy="130.4" r="2.45"/>
<circle cx="167.9" cy="131.9" r="2.45"/>
<circle cx="169.1" cy="119.9" r="2.45"/>
<circle cx="229.5" cy="82.6" r="2.45"/>
<circle cx="207.8" cy="76.5" r="2.45"/>
<circle cx="185.0" cy="107.0" r="2.45"/>
<circle cx="178.5" cy="121.3" r="2.45"/>
<circle cx="176.1" cy="124.1" r="2.45"/>
<circle cx="239.1" cy="72.7" r="2.45"/>
<circle cx="249.2" cy="66.2" r="2.45"/>
<circle cx="168.6" cy="117.2" r="2.45"/>
<circle cx="142.8" cy="155.3" r="2.45"/>
<circle cx="121.3" cy="174.8" r="2.45"/>
<circle cx="188.1" cy="118.9" r="2.45"/>
<circle cx="138.4" cy="172.0" r="2.45"/>
<circle cx="162.1" cy="154.9" r="2.45"/>
<circle cx="200.0" cy="99.8" r="2.45"/>
<circle cx="241.4" cy="75.2" r="2.45"/>
<circle cx="113.6" cy="178.0" r="2.45"/>
<circle cx="143.3" cy="157.5" r="2.45"/>
<circle cx="124.5" cy="175.8" r="2.45"/>
<circle cx="181.2" cy="108.5" r="2.45"/>
<circle cx="186.6" cy="114.8" r="2.45"/>
<circle cx="242.6" cy="82.3" r="2.45"/>
<circle cx="221.3" cy="93.0" r="2.45"/>
<circle cx="216.3" cy="111.6" r="2.45"/>
<circle cx="228.9" cy="80.4" r="2.45"/>
<circle cx="156.2" cy="141.3" r="2.45"/>
<circle cx="233.4" cy="80.8" r="2.45"/>
<circle cx="156.1" cy="159.5" r="2.45"/>
<circle cx="221.2" cy="102.0" r="2.45"/>
<circle cx="123.6" cy="168.3" r="2.45"/>
<circle cx="187.3" cy="112.7" r="2.45"/>
<circle cx="216.2" cy="98.0" r="2.45"/>
<circle cx="208.6" cy="101.1" r="2.45"/>
<circle cx="169.2" cy="152.0" r="2.45"/>
<circle cx="148.2" cy="141.7" r="2.45"/>
<circle cx="184.7" cy="100.3" r="2.45"/>
<circle cx="212.8" cy="100.2" r="2.45"/>
<circle cx="186.6" cy="120.2" r="2.45"/>
<circle cx="171.4" cy="159.6" r="2.45"/>
<circle cx="116.9" cy="174.3" r="2.45"/>
<circle cx="111.1" cy="176.4" r="2.45"/>
<circle cx="125.2" cy="172.8" r="2.45"/>
<circle cx="137.5" cy="151.5" r="2.45"/>
<circle cx="200.6" cy="114.5" r="2.45"/>
<circle cx="210.5" cy="101.4" r="2.45"/>
<circle cx="106.8" cy="180.1" r="2.45"/>
<circle cx="215.5" cy="99.4" r="2.45"/>
<circle cx="160.2" cy="132.1" r="2.45"/>
<circle cx="155.4" cy="140.4" r="2.45"/>
<circle cx="194.1" cy="121.0" r="2.45"/>
<circle cx="194.6" cy="113.3" r="2.45"/>
<circle cx="126.1" cy="172.7" r="2.45"/>
<circle cx="165.2" cy="132.7" r="2.45"/>
<circle cx="166.5" cy="131.6" r="2.45"/>
<circle cx="183.2" cy="108.3" r="2.45"/>
<circle cx="202.7" cy="100.6" r="2.45"/>
<circle cx="179.3" cy="108.8" r="2.45"/>
<circle cx="184.3" cy="108.8" r="2.45"/>
<circle cx="142.4" cy="155.0" r="2.45"/>
<circle cx="157.8" cy="151.9" r="2.45"/>
<circle cx="130.5" cy="172.0" r="2.45"/>
<circle cx="101.9" cy="186.6" r="2.45"/>
<circle cx="137.4" cy="163.0" r="2.45"/>
<circle cx="152.4" cy="146.9" r="2.45"/>
<circle cx="137.3" cy="162.4" r="2.45"/>
<circle cx="148.6" cy="158.6" r="2.45"/>
<circle cx="176.0" cy="134.7" r="2.45"/>
<circle cx="204.1" cy="111.3" r="2.45"/>
<circle cx="144.9" cy="146.9" r="2.45"/>
<circle cx="123.7" cy="175.5" r="2.45"/>
<circle cx="140.4" cy="160.0" r="2.45"/>
<circle cx="117.2" cy="171.3" r="2.45"/>
<circle cx="166.4" cy="136.8" r="2.45"/>
<circle cx="128.8" cy="170.8" r="2.45"/>
<circle cx="104.6" cy="194.3" r="2.45"/>
<circle cx="203.6" cy="123.6" r="2.45"/>
<circle cx="149.3" cy="120.6" r="2.45"/>
<circle cx="220.6" cy="107.3" r="2.45"/>
<circle cx="147.0" cy="141.0" r="2.45"/>
<circle cx="215.3" cy="105.8" r="2.45"/>
<circle cx="122.4" cy="163.3" r="2.45"/>
<circle cx="179.0" cy="130.6" r="2.45"/>
<circle cx="121.6" cy="172.3" r="2.45"/>
<circle cx="124.9" cy="168.3" r="2.45"/>
<circle cx="176.9" cy="145.0" r="2.45"/>
<circle cx="148.4" cy="140.9" r="2.45"/>
<circle cx="129.8" cy="173.9" r="2.45"/>
<circle cx="197.6" cy="112.3" r="2.45"/>
<circle cx="182.3" cy="109.9" r="2.45"/>
<circle cx="137.9" cy="164.2" r="2.45"/>
<circle cx="194.5" cy="99.6" r="2.45"/>
<circle cx="140.0" cy="151.5" r="2.45"/>
<circle cx="180.9" cy="110.2" r="2.45"/>
<circle cx="226.5" cy="106.9" r="2.45"/>
<circle cx="152.1" cy="129.0" r="2.45"/>
<circle cx="188.4" cy="131.6" r="2.45"/>
<circle cx="127.0" cy="172.8" r="2.45"/>
<circle cx="131.0" cy="168.8" r="2.45"/>
<circle cx="177.9" cy="151.8" r="2.45"/>
<circle cx="155.8" cy="149.0" r="2.45"/>
<circle cx="168.9" cy="125.5" r="2.45"/>
<circle cx="182.1" cy="138.7" r="2.45"/>
<circle cx="195.6" cy="113.6" r="2.45"/>
<circle cx="154.6" cy="154.1" r="2.45"/>
<circle cx="206.8" cy="110.3" r="2.45"/>
<circle cx="147.1" cy="151.2" r="2.45"/>
<circle cx="153.7" cy="137.5" r="2.45"/>
<circle cx="134.7" cy="171.2" r="2.45"/>
<circle cx="194.3" cy="111.9" r="2.45"/>
<circle cx="186.8" cy="102.0" r="2.45"/>
<circle cx="155.1" cy="130.1" r="2.45"/>
<circle cx="141.1" cy="162.2" r="2.45"/>
<circle cx="171.1" cy="121.4" r="2.45"/>
<circle cx="164.9" cy="132.1" r="2.45"/>
<circle cx="110.0" cy="184.7" r="2.45"/>
<circle cx="152.1" cy="149.6" r="2.45"/>
<circle cx="135.9" cy="164.4" r="2.45"/>
<circle cx="196.0" cy="112.8" r="2.45"/>
<circle cx="190.9" cy="117.8" r="2.45"/>
<circle cx="171.7" cy="141.5" r="2.45"/>
<circle cx="108.3" cy="181.1" r="2.45"/>
<circle cx="181.4" cy="113.4" r="2.45"/>
<circle cx="202.9" cy="103.3" r="2.45"/>
<circle cx="187.2" cy="126.6" r="2.45"/>
<circle cx="139.8" cy="156.3" r="2.45"/>
<circle cx="181.6" cy="141.4" r="2.45"/>
<circle cx="205.2" cy="88.0" r="2.45"/>
<circle cx="236.2" cy="77.4" r="2.45"/>
<circle cx="197.6" cy="127.2" r="2.45"/>
<circle cx="204.5" cy="112.4" r="2.45"/>
<circle cx="149.2" cy="163.5" r="2.45"/>
<circle cx="129.4" cy="174.5" r="2.45"/>
<circle cx="129.9" cy="155.3" r="2.45"/>
<circle cx="151.4" cy="144.9" r="2.45"/>
<circle cx="175.2" cy="125.6" r="2.45"/>
<circle cx="206.1" cy="91.9" r="2.45"/>
<circle cx="179.7" cy="125.9" r="2.45"/>
<circle cx="129.5" cy="162.2" r="2.45"/>
<circle cx="188.3" cy="114.0" r="2.45"/>
<circle cx="184.6" cy="100.9" r="2.45"/>
<circle cx="111.2" cy="184.6" r="2.45"/>
<circle cx="129.2" cy="185.0" r="2.45"/>
<circle cx="154.8" cy="161.5" r="2.45"/>
<circle cx="206.1" cy="78.3" r="2.45"/>
<circle cx="168.3" cy="145.4" r="2.45"/>
<circle cx="181.0" cy="107.0" r="2.45"/>
<circle cx="195.2" cy="126.3" r="2.45"/>
<circle cx="193.2" cy="107.4" r="2.45"/>
<circle cx="160.8" cy="148.6" r="2.45"/>
<circle cx="171.5" cy="153.3" r="2.45"/>
<circle cx="190.9" cy="107.1" r="2.45"/>
<circle cx="237.2" cy="76.7" r="2.45"/>
<circle cx="130.6" cy="158.6" r="2.45"/>
<circle cx="132.5" cy="162.7" r="2.45"/>
<circle cx="107.1" cy="183.9" r="2.45"/>
<circle cx="199.8" cy="114.1" r="2.45"/>
<circle cx="186.7" cy="102.9" r="2.45"/>
<circle cx="172.4" cy="130.6" r="2.45"/>
<circle cx="135.2" cy="166.8" r="2.45"/>
<circle cx="154.1" cy="151.7" r="2.45"/>
<circle cx="245.4" cy="71.3" r="2.45"/>
<circle cx="194.4" cy="101.9" r="2.45"/>
<circle cx="164.1" cy="152.9" r="2.45"/>
<circle cx="131.6" cy="174.4" r="2.45"/>
<circle cx="108.8" cy="181.8" r="2.45"/>
<circle cx="127.5" cy="166.4" r="2.45"/>
<circle cx="219.9" cy="92.6" r="2.45"/>
<circle cx="122.1" cy="166.9" r="2.45"/>
<circle cx="137.6" cy="160.1" r="2.45"/>
<circle cx="132.5" cy="163.9" r="2.45"/>
<circle cx="240.1" cy="74.8" r="2.45"/>
<circle cx="243.4" cy="64.2" r="2.45"/>
<circle cx="209.3" cy="88.1" r="2.45"/>
<circle cx="163.3" cy="128.8" r="2.45"/>
<circle cx="246.0" cy="75.2" r="2.45"/>
<circle cx="112.9" cy="188.9" r="2.45"/>
<circle cx="199.5" cy="98.8" r="2.45"/>
<circle cx="167.6" cy="135.6" r="2.45"/>
<circle cx="177.3" cy="140.6" r="2.45"/>
<circle cx="190.0" cy="130.9" r="2.45"/>
<circle cx="137.7" cy="153.2" r="2.45"/>
<circle cx="167.1" cy="132.7" r="2.45"/>
<circle cx="171.3" cy="124.5" r="2.45"/>
<circle cx="201.5" cy="111.1" r="2.45"/>
<circle cx="191.8" cy="118.4" r="2.45"/>
<circle cx="173.8" cy="104.6" r="2.45"/>
<circle cx="111.5" cy="181.8" r="2.45"/>
<circle cx="155.5" cy="145.1" r="2.45"/>
<circle cx="119.0" cy="174.7" r="2.45"/>
<circle cx="125.3" cy="168.9" r="2.45"/>
<circle cx="138.1" cy="146.6" r="2.45"/>
<circle cx="185.8" cy="121.2" r="2.45"/>
<circle cx="161.3" cy="139.5" r="2.45"/>
<circle cx="134.7" cy="159.3" r="2.45"/>
<circle cx="125.0" cy="176.8" r="2.45"/>
<circle cx="182.2" cy="123.9" r="2.45"/>
<circle cx="216.5" cy="79.6" r="2.45"/>
<circle cx="117.5" cy="171.4" r="2.45"/>
<circle cx="215.5" cy="92.0" r="2.45"/>
<circle cx="206.1" cy="102.7" r="2.45"/>
<circle cx="175.6" cy="128.7" r="2.45"/>
<circle cx="121.4" cy="183.7" r="2.45"/>
<circle cx="136.1" cy="150.8" r="2.45"/>
<circle cx="157.5" cy="135.1" r="2.45"/>
<circle cx="133.8" cy="161.2" r="2.45"/>
<circle cx="138.2" cy="165.2" r="2.45"/>
<circle cx="206.8" cy="86.2" r="2.45"/>
<circle cx="182.5" cy="150.5" r="2.45"/>
<circle cx="194.6" cy="106.2" r="2.45"/>
<circle cx="180.6" cy="123.7" r="2.45"/>
<circle cx="138.8" cy="155.7" r="2.45"/>
<circle cx="126.3" cy="165.7" r="2.45"/>
<circle cx="182.1" cy="133.1" r="2.45"/>
<circle cx="151.3" cy="148.5" r="2.45"/>
<circle cx="136.9" cy="163.6" r="2.45"/>
<circle cx="137.6" cy="157.5" r="2.45"/>
<circle cx="136.0" cy="161.3" r="2.45"/>
<circle cx="171.0" cy="132.2" r="2.45"/>
<circle cx="106.4" cy="182.8" r="2.45"/>
<circle cx="212.1" cy="99.8" r="2.45"/>
<circle cx="216.3" cy="90.5" r="2.45"/>
<circle cx="174.3" cy="139.2" r="2.45"/>
<circle cx="118.0" cy="167.8" r="2.45"/>
<circle cx="137.4" cy="160.1" r="2.45"/>
<circle cx="153.4" cy="163.1" r="2.45"/>
<circle cx="194.4" cy="117.9" r="2.45"/>
<circle cx="206.7" cy="101.2" r="2.45"/>
<circle cx="164.1" cy="148.5" r="2.45"/>
<circle cx="206.1" cy="106.0" r="2.45"/>
<circle cx="169.4" cy="138.7" r="2.45"/>
<circle cx="203.3" cy="107.9" r="2.45"/>
<circle cx="102.3" cy="183.0" r="2.45"/>
<circle cx="149.2" cy="156.9" r="2.45"/>
<circle cx="123.5" cy="174.7" r="2.45"/>
<circle cx="164.1" cy="132.8" r="2.45"/>
<circle cx="114.0" cy="179.4" r="2.45"/>
<circle cx="186.6" cy="124.8" r="2.45"/>
<circle cx="209.7" cy="119.5" r="2.45"/>
<circle cx="156.3" cy="145.1" r="2.45"/>
<circle cx="206.9" cy="104.5" r="2.45"/>
<circle cx="169.8" cy="140.0" r="2.45"/>
<circle cx="167.6" cy="122.1" r="2.45"/>
<circle cx="194.8" cy="129.5" r="2.45"/>
<circle cx="135.6" cy="144.9" r="2.45"/>
<circle cx="115.8" cy="184.9" r="2.45"/>
<circle cx="193.7" cy="146.0" r="2.45"/>
<circle cx="125.0" cy="167.5" r="2.45"/>
<circle cx="194.8" cy="111.2" r="2.45"/>
<circle cx="233.7" cy="88.8" r="2.45"/>
<circle cx="121.0" cy="167.0" r="2.45"/>
<circle cx="175.6" cy="120.7" r="2.45"/>
<circle cx="227.7" cy="94.8" r="2.45"/>
<circle cx="242.8" cy="57.6" r="2.45"/>
<circle cx="127.2" cy="162.1" r="2.45"/>
<circle cx="149.7" cy="176.8" r="2.45"/>
<circle cx="122.6" cy="158.8" r="2.45"/>
<circle cx="214.4" cy="110.9" r="2.45"/>
<circle cx="235.8" cy="79.8" r="2.45"/>
<circle cx="143.6" cy="152.5" r="2.45"/>
<circle cx="136.6" cy="166.3" r="2.45"/>
<circle cx="113.5" cy="167.8" r="2.45"/>
<circle cx="206.5" cy="104.1" r="2.45"/>
<circle cx="158.9" cy="142.5" r="2.45"/>
<circle cx="151.4" cy="143.5" r="2.45"/>
<circle cx="139.8" cy="153.8" r="2.45"/>
<circle cx="119.9" cy="167.0" r="2.45"/>
<circle cx="146.8" cy="150.0" r="2.45"/>
<circle cx="151.6" cy="149.0" r="2.45"/>
<circle cx="170.7" cy="130.8" r="2.45"/>
<circle cx="225.8" cy="91.9" r="2.45"/>
<circle cx="150.9" cy="154.3" r="2.45"/>
<circle cx="131.4" cy="172.4" r="2.45"/>
<circle cx="184.5" cy="124.6" r="2.45"/>
<circle cx="134.1" cy="162.5" r="2.45"/>
<circle cx="121.6" cy="182.8" r="2.45"/>
<circle cx="111.5" cy="182.0" r="2.45"/>
<circle cx="163.0" cy="146.3" r="2.45"/>
<circle cx="143.3" cy="168.0" r="2.45"/>
<circle cx="134.5" cy="164.4" r="2.45"/>
<circle cx="145.2" cy="155.7" r="2.45"/>
<circle cx="201.5" cy="106.5" r="2.45"/>
<circle cx="157.8" cy="135.8" r="2.45"/>
<circle cx="174.7" cy="134.0" r="2.45"/>
<circle cx="220.0" cy="69.8" r="2.45"/>
<circle cx="164.4" cy="138.6" r="2.45"/>
<circle cx="174.5" cy="134.0" r="2.45"/>
<circle cx="177.0" cy="126.3" r="2.45"/>
<circle cx="208.5" cy="105.7" r="2.45"/>
<circle cx="147.1" cy="161.1" r="2.45"/>
<circle cx="146.0" cy="151.4" r="2.45"/>
<circle cx="192.3" cy="124.3" r="2.45"/>
<circle cx="158.1" cy="140.3" r="2.45"/>
<circle cx="191.9" cy="112.7" r="2.45"/>
<circle cx="230.5" cy="84.1" r="2.45"/>
<circle cx="146.2" cy="166.3" r="2.45"/>
<circle cx="133.6" cy="165.7" r="2.45"/>
<circle cx="104.3" cy="183.9" r="2.45"/>
<circle cx="185.5" cy="123.4" r="2.45"/>
<circle cx="192.0" cy="113.5" r="2.45"/>
<circle cx="196.6" cy="104.4" r="2.45"/>
<circle cx="232.5" cy="79.4" r="2.45"/>
<circle cx="180.2" cy="127.6" r="2.45"/>
<circle cx="128.4" cy="165.4" r="2.45"/>
<circle cx="180.4" cy="120.2" r="2.45"/>
<circle cx="132.7" cy="159.6" r="2.45"/>
<circle cx="149.5" cy="142.8" r="2.45"/>
<circle cx="140.0" cy="179.1" r="2.45"/>
<circle cx="201.2" cy="115.6" r="2.45"/>
<circle cx="247.3" cy="74.7" r="2.45"/>
<circle cx="218.9" cy="95.5" r="2.45"/>
<circle cx="218.4" cy="103.6" r="2.45"/>
<circle cx="184.5" cy="124.0" r="2.45"/>
<circle cx="131.3" cy="165.1" r="2.45"/>
<circle cx="204.7" cy="118.1" r="2.45"/>
<circle cx="211.3" cy="114.6" r="2.45"/>
<circle cx="149.3" cy="167.5" r="2.45"/>
<circle cx="168.8" cy="136.9" r="2.45"/>
<circle cx="222.9" cy="91.7" r="2.45"/>
<circle cx="170.5" cy="136.6" r="2.45"/>
<circle cx="215.7" cy="83.2" r="2.45"/>
<circle cx="153.3" cy="149.4" r="2.45"/>
<circle cx="174.3" cy="121.7" r="2.45"/>
<circle cx="126.7" cy="169.8" r="2.45"/>
<circle cx="171.1" cy="134.6" r="2.45"/>
<circle cx="143.1" cy="169.7" r="2.45"/>
<circle cx="116.2" cy="183.7" r="2.45"/>
<circle cx="183.2" cy="135.2" r="2.45"/>
<circle cx="194.2" cy="103.4" r="2.45"/>
<circle cx="127.4" cy="166.5" r="2.45"/>
<circle cx="183.6" cy="109.6" r="2.45"/>
<circle cx="214.9" cy="76.0" r="2.45"/>
<circle cx="171.4" cy="133.7" r="2.45"/>
<circle cx="118.5" cy="181.3" r="2.45"/>
<circle cx="202.2" cy="99.8" r="2.45"/>
<circle cx="197.2" cy="125.5" r="2.45"/>
<circle cx="238.1" cy="69.7" r="2.45"/>
<circle cx="172.3" cy="151.5" r="2.45"/>
<circle cx="94.1" cy="177.3" r="2.45"/>
<circle cx="155.9" cy="142.1" r="2.45"/>
<circle cx="133.0" cy="163.8" r="2.45"/>
<circle cx="170.3" cy="138.0" r="2.45"/>
<circle cx="230.2" cy="83.3" r="2.45"/>
<circle cx="190.8" cy="124.7" r="2.45"/>
<circle cx="150.6" cy="144.3" r="2.45"/>
<circle cx="216.5" cy="99.6" r="2.45"/>
<circle cx="181.8" cy="122.6" r="2.45"/>
<circle cx="146.7" cy="155.9" r="2.45"/>
<circle cx="111.0" cy="183.6" r="2.45"/>
<circle cx="132.9" cy="157.0" r="2.45"/>
<circle cx="126.6" cy="175.6" r="2.45"/>
<circle cx="238.4" cy="74.5" r="2.45"/>
<circle cx="207.6" cy="96.3" r="2.45"/>
<circle cx="162.3" cy="141.5" r="2.45"/>
<circle cx="136.7" cy="164.1" r="2.45"/>
<circle cx="133.7" cy="165.4" r="2.45"/>
<circle cx="242.1" cy="73.6" r="2.45"/>
<circle cx="210.4" cy="90.9" r="2.45"/>
<circle cx="194.8" cy="108.7" r="2.45"/>
<circle cx="120.8" cy="164.5" r="2.45"/>
<circle cx="200.0" cy="75.4" r="2.45"/>
<circle cx="130.4" cy="159.0" r="2.45"/>
<circle cx="231.1" cy="83.2" r="2.45"/>
<circle cx="122.0" cy="157.7" r="2.45"/>
<circle cx="197.5" cy="116.5" r="2.45"/>
<circle cx="129.5" cy="156.1" r="2.45"/>
<circle cx="242.0" cy="69.6" r="2.45"/>
<circle cx="149.4" cy="153.0" r="2.45"/>
<circle cx="217.0" cy="98.3" r="2.45"/>
<circle cx="123.8" cy="172.4" r="2.45"/>
<circle cx="118.9" cy="166.8" r="2.45"/>
<circle cx="150.6" cy="153.4" r="2.45"/>
<circle cx="152.6" cy="141.6" r="2.45"/>
<circle cx="251.0" cy="71.2" r="2.45"/>
<circle cx="185.3" cy="117.3" r="2.45"/>
<circle cx="201.9" cy="114.0" r="2.45"/>
<circle cx="144.8" cy="164.0" r="2.45"/>
<circle cx="133.4" cy="150.8" r="2.45"/>
<circle cx="145.4" cy="154.2" r="2.45"/>
<circle cx="215.4" cy="94.1" r="2.45"/>
<circle cx="179.2" cy="104.5" r="2.45"/>
<circle cx="185.4" cy="130.8" r="2.45"/>
<circle cx="117.7" cy="185.2" r="2.45"/>
<circle cx="123.9" cy="162.6" r="2.45"/>
<circle cx="243.5" cy="82.3" r="2.45"/>
<circle cx="232.8" cy="79.5" r="2.45"/>
<circle cx="110.5" cy="178.6" r="2.45"/>
<circle cx="141.7" cy="161.7" r="2.45"/>
<circle cx="177.3" cy="123.9" r="2.45"/>
<circle cx="216.7" cy="100.4" r="2.45"/>
<circle cx="215.1" cy="103.0" r="2.45"/>
<circle cx="166.9" cy="130.3" r="2.45"/>
<circle cx="141.7" cy="161.8" r="2.45"/>
<circle cx="197.5" cy="105.5" r="2.45"/>
<circle cx="206.9" cy="106.1" r="2.45"/>
<circle cx="236.4" cy="92.2" r="2.45"/>
<circle cx="218.3" cy="100.1" r="2.45"/>
<circle cx="150.5" cy="153.3" r="2.45"/>
<circle cx="189.2" cy="110.1" r="2.45"/>
<circle cx="123.0" cy="160.9" r="2.45"/>
<circle cx="193.7" cy="121.8" r="2.45"/>
<circle cx="176.0" cy="125.2" r="2.45"/>
<circle cx="147.6" cy="148.0" r="2.45"/>
<circle cx="170.7" cy="138.1" r="2.45"/>
<circle cx="209.5" cy="102.0" r="2.45"/>
<circle cx="246.9" cy="68.9" r="2.45"/>
<circle cx="164.7" cy="144.3" r="2.45"/>
<circle cx="201.6" cy="125.3" r="2.45"/>
<circle cx="219.4" cy="91.4" r="2.45"/>
<circle cx="129.8" cy="163.1" r="2.45"/>
<circle cx="199.1" cy="103.6" r="2.45"/>
<circle cx="151.8" cy="140.3" r="2.45"/>
<circle cx="176.8" cy="114.1" r="2.45"/>
<circle cx="141.6" cy="151.8" r="2.45"/>
<circle cx="177.3" cy="120.5" r="2.45"/>
<circle cx="177.3" cy="137.0" r="2.45"/>
<circle cx="195.5" cy="128.8" r="2.45"/>
<circle cx="137.5" cy="154.7" r="2.45"/>
<circle cx="129.0" cy="154.5" r="2.45"/>
<circle cx="149.0" cy="155.6" r="2.45"/>
<circle cx="146.6" cy="158.8" r="2.45"/>
<circle cx="197.7" cy="111.6" r="2.45"/>
<circle cx="129.5" cy="159.4" r="2.45"/>
<circle cx="174.3" cy="117.9" r="2.45"/>
<circle cx="204.8" cy="95.3" r="2.45"/>
<circle cx="138.6" cy="157.0" r="2.45"/>
<circle cx="225.5" cy="81.8" r="2.45"/>
<circle cx="143.8" cy="154.9" r="2.45"/>
<circle cx="153.9" cy="136.7" r="2.45"/>
<circle cx="238.4" cy="75.4" r="2.45"/>
<circle cx="129.1" cy="171.7" r="2.45"/>
<circle cx="159.6" cy="154.3" r="2.45"/>
<circle cx="137.7" cy="179.5" r="2.45"/>
<circle cx="151.9" cy="154.2" r="2.45"/>
<circle cx="188.9" cy="100.0" r="2.45"/>
<circle cx="206.2" cy="89.2" r="2.45"/>
<circle cx="182.1" cy="123.4" r="2.45"/>
<circle cx="231.0" cy="90.1" r="2.45"/>
<circle cx="230.3" cy="64.5" r="2.45"/>
<circle cx="170.5" cy="145.6" r="2.45"/>
<circle cx="159.9" cy="147.0" r="2.45"/>
<circle cx="175.4" cy="142.5" r="2.45"/>
<circle cx="101.8" cy="180.9" r="2.45"/>
<circle cx="239.0" cy="71.6" r="2.45"/>
<circle cx="165.7" cy="129.1" r="2.45"/>
<circle cx="127.5" cy="162.5" r="2.45"/>
<circle cx="205.3" cy="94.6" r="2.45"/>
<circle cx="205.1" cy="107.4" r="2.45"/>
<circle cx="213.0" cy="103.1" r="2.45"/>
<circle cx="186.2" cy="120.8" r="2.45"/>
<circle cx="217.3" cy="87.9" r="2.45"/>
<circle cx="186.6" cy="108.5" r="2.45"/>
<circle cx="218.8" cy="91.2" r="2.45"/>
<circle cx="190.3" cy="93.1" r="2.45"/>
<circle cx="150.3" cy="150.1" r="2.45"/>
<circle cx="150.8" cy="120.6" r="2.45"/>
<circle cx="166.5" cy="141.3" r="2.45"/>
<circle cx="140.0" cy="151.5" r="2.45"/>
<circle cx="113.1" cy="180.1" r="2.45"/>
<circle cx="190.7" cy="120.7" r="2.45"/>
<circle cx="259.6" cy="60.3" r="2.45"/>
<circle cx="204.0" cy="124.7" r="2.45"/>
<circle cx="130.6" cy="173.7" r="2.45"/>
<circle cx="227.4" cy="87.6" r="2.45"/>
<circle cx="218.8" cy="106.7" r="2.45"/>
<circle cx="176.0" cy="124.5" r="2.45"/>
<circle cx="207.9" cy="133.6" r="2.45"/>
<circle cx="175.4" cy="113.6" r="2.45"/>
<circle cx="153.7" cy="132.4" r="2.45"/>
<circle cx="117.3" cy="177.0" r="2.45"/>
<circle cx="166.2" cy="145.0" r="2.45"/>
<circle cx="121.2" cy="175.1" r="2.45"/>
<circle cx="195.8" cy="104.9" r="2.45"/>
<circle cx="181.6" cy="123.9" r="2.45"/>
<circle cx="234.5" cy="83.1" r="2.45"/>
<circle cx="240.0" cy="68.7" r="2.45"/>
<circle cx="137.7" cy="152.8" r="2.45"/>
<circle cx="154.0" cy="129.8" r="2.45"/>
<circle cx="119.1" cy="179.6" r="2.45"/>
<circle cx="163.7" cy="118.2" r="2.45"/>
<circle cx="173.0" cy="122.6" r="2.45"/>
<circle cx="155.8" cy="150.3" r="2.45"/>
<circle cx="148.6" cy="143.5" r="2.45"/>
<circle cx="159.2" cy="146.8" r="2.45"/>
<circle cx="118.2" cy="174.6" r="2.45"/>
<circle cx="142.5" cy="163.8" r="2.45"/>
<circle cx="173.4" cy="124.1" r="2.45"/>
<circle cx="174.0" cy="134.1" r="2.45"/>
<circle cx="226.9" cy="101.5" r="2.45"/>
<circle cx="144.9" cy="167.8" r="2.45"/>
<circle cx="225.2" cy="93.5" r="2.45"/>
<circle cx="144.9" cy="173.6" r="2.45"/>
<circle cx="205.6" cy="114.0" r="2.45"/>
<circle cx="151.6" cy="162.6" r="2.45"/>
<circle cx="210.9" cy="109.4" r="2.45"/>
<circle cx="233.5" cy="70.7" r="2.45"/>
<circle cx="137.2" cy="156.5" r="2.45"/>
<circle cx="224.2" cy="95.4" r="2.45"/>
<circle cx="155.0" cy="153.8" r="2.45"/>
<circle cx="205.9" cy="110.6" r="2.45"/>
<circle cx="111.8" cy="187.7" r="2.45"/>
<circle cx="179.2" cy="121.2" r="2.45"/>
<circle cx="176.4" cy="124.3" r="2.45"/>
<circle cx="204.7" cy="97.0" r="2.45"/>
<circle cx="120.5" cy="164.6" r="2.45"/>
<circle cx="203.2" cy="91.9" r="2.45"/>
<circle cx="217.4" cy="107.3" r="2.45"/>
<circle cx="121.6" cy="181.9" r="2.45"/>
<circle cx="152.3" cy="161.6" r="2.45"/>
<circle cx="146.0" cy="161.4" r="2.45"/>
<circle cx="135.9" cy="165.4" r="2.45"/>
<circle cx="128.1" cy="170.1" r="2.45"/>
<circle cx="203.3" cy="110.7" r="2.45"/>
<circle cx="143.4" cy="159.3" r="2.45"/>
<circle cx="124.6" cy="181.6" r="2.45"/>
<circle cx="176.0" cy="132.6" r="2.45"/>
<circle cx="223.4" cy="94.7" r="2.45"/>
<circle cx="158.7" cy="139.1" r="2.45"/>
<circle cx="191.7" cy="119.0" r="2.45"/>
<circle cx="160.8" cy="134.2" r="2.45"/>
<circle cx="136.3" cy="176.0" r="2.45"/>
<circle cx="130.4" cy="168.5" r="2.45"/>
<circle cx="175.2" cy="128.7" r="2.45"/>
<circle cx="157.5" cy="160.8" r="2.45"/>
<circle cx="168.4" cy="147.8" r="2.45"/>
<circle cx="196.2" cy="95.6" r="2.45"/>
<circle cx="150.3" cy="142.7" r="2.45"/>
<circle cx="209.3" cy="92.0" r="2.45"/>
<circle cx="131.2" cy="157.0" r="2.45"/>
<circle cx="126.9" cy="166.3" r="2.45"/>
<circle cx="194.9" cy="126.8" r="2.45"/>
<circle cx="205.1" cy="113.6" r="2.45"/>
<circle cx="148.7" cy="154.3" r="2.45"/>
<circle cx="217.1" cy="121.8" r="2.45"/>
<circle cx="149.8" cy="146.4" r="2.45"/>
<circle cx="209.2" cy="96.8" r="2.45"/>
<circle cx="119.8" cy="161.6" r="2.45"/>
<circle cx="106.5" cy="183.9" r="2.45"/>
<circle cx="180.4" cy="135.6" r="2.45"/>
<circle cx="158.7" cy="145.1" r="2.45"/>
<circle cx="222.7" cy="97.5" r="2.45"/>
<circle cx="224.9" cy="86.1" r="2.45"/>
<circle cx="182.2" cy="125.6" r="2.45"/>
<circle cx="207.4" cy="107.1" r="2.45"/>
<circle cx="212.5" cy="95.4" r="2.45"/>
<circle cx="136.1" cy="165.8" r="2.45"/>
<circle cx="209.8" cy="100.2" r="2.45"/>
<circle cx="153.1" cy="140.9" r="2.45"/>
<circle cx="144.3" cy="159.8" r="2.45"/>
<circle cx="112.0" cy="182.5" r="2.45"/>
<circle cx="148.3" cy="163.4" r="2.45"/>
<circle cx="145.0" cy="155.8" r="2.45"/>
<circle cx="164.1" cy="130.5" r="2.45"/>
<circle cx="169.7" cy="147.0" r="2.45"/>
<circle cx="125.7" cy="168.0" r="2.45"/>
<circle cx="196.3" cy="124.4" r="2.45"/>
<circle cx="243.0" cy="68.0" r="2.45"/>
<circle cx="145.8" cy="136.7" r="2.45"/>
<circle cx="131.7" cy="174.9" r="2.45"/>
<circle cx="128.1" cy="158.7" r="2.45"/>
<circle cx="168.7" cy="155.0" r="2.45"/>
<circle cx="201.6" cy="104.5" r="2.45"/>
<circle cx="159.6" cy="154.4" r="2.45"/>
<circle cx="150.3" cy="183.9" r="2.45"/>
<circle cx="202.5" cy="100.4" r="2.45"/>
<circle cx="142.4" cy="154.1" r="2.45"/>
<circle cx="141.2" cy="150.9" r="2.45"/>
<circle cx="114.0" cy="180.2" r="2.45"/>
<circle cx="188.8" cy="128.6" r="2.45"/>
<circle cx="158.6" cy="151.7" r="2.45"/>
<circle cx="167.7" cy="115.5" r="2.45"/>
<circle cx="154.6" cy="136.9" r="2.45"/>
<circle cx="149.3" cy="148.5" r="2.45"/>
<circle cx="223.6" cy="87.2" r="2.45"/>
<circle cx="194.1" cy="92.6" r="2.45"/>
<circle cx="163.4" cy="135.2" r="2.45"/>
<circle cx="156.9" cy="115.6" r="2.45"/>
<circle cx="190.3" cy="88.5" r="2.45"/>
<circle cx="202.0" cy="97.0" r="2.45"/>
<circle cx="161.4" cy="134.7" r="2.45"/>
<circle cx="108.6" cy="190.6" r="2.45"/>
<circle cx="153.4" cy="149.0" r="2.45"/>
<circle cx="238.7" cy="78.9" r="2.45"/>
<circle cx="184.1" cy="131.0" r="2.45"/>
<circle cx="115.3" cy="178.4" r="2.45"/>
<circle cx="121.6" cy="179.6" r="2.45"/>
<circle cx="211.4" cy="89.6" r="2.45"/>
<circle cx="183.2" cy="114.4" r="2.45"/>
<circle cx="109.0" cy="180.0" r="2.45"/>
<circle cx="116.4" cy="178.2" r="2.45"/>
<circle cx="162.5" cy="155.9" r="2.45"/>
<circle cx="130.0" cy="168.0" r="2.45"/>
<circle cx="126.7" cy="168.5" r="2.45"/>
<circle cx="141.9" cy="161.3" r="2.45"/>
<circle cx="151.9" cy="147.7" r="2.45"/>
<circle cx="118.4" cy="172.9" r="2.45"/>
<circle cx="171.7" cy="146.7" r="2.45"/>
<circle cx="194.2" cy="103.4" r="2.45"/>
<circle cx="183.4" cy="130.7" r="2.45"/>
<circle cx="121.8" cy="172.9" r="2.45"/>
<circle cx="203.5" cy="102.8" r="2.45"/>
<circle cx="191.1" cy="116.3" r="2.45"/>
<circle cx="214.9" cy="97.3" r="2.45"/>
<circle cx="199.9" cy="127.4" r="2.45"/>
<circle cx="226.1" cy="75.6" r="2.45"/>
<circle cx="157.2" cy="162.3" r="2.45"/>
<circle cx="215.4" cy="92.5" r="2.45"/>
<circle cx="117.5" cy="171.2" r="2.45"/>
<circle cx="200.7" cy="114.1" r="2.45"/>
<circle cx="140.1" cy="147.4" r="2.45"/>
<circle cx="107.1" cy="178.0" r="2.45"/>
<circle cx="136.4" cy="156.3" r="2.45"/>
<circle cx="225.7" cy="102.3" r="2.45"/>
<circle cx="165.7" cy="124.3" r="2.45"/>
<circle cx="185.3" cy="126.7" r="2.45"/>
<circle cx="153.2" cy="137.6" r="2.45"/>
<circle cx="205.4" cy="115.5" r="2.45"/>
<circle cx="172.6" cy="149.4" r="2.45"/>
<circle cx="194.8" cy="115.4" r="2.45"/>
<circle cx="139.4" cy="163.6" r="2.45"/>
<circle cx="176.4" cy="117.2" r="2.45"/>
<circle cx="186.0" cy="126.6" r="2.45"/>
<circle cx="246.1" cy="71.6" r="2.45"/>
<circle cx="170.0" cy="117.4" r="2.45"/>
<circle cx="146.1" cy="154.2" r="2.45"/>
<circle cx="181.8" cy="125.0" r="2.45"/>
<circle cx="225.4" cy="96.3" r="2.45"/>
<circle cx="212.4" cy="94.8" r="2.45"/>
<circle cx="164.6" cy="135.6" r="2.45"/>
<circle cx="173.1" cy="115.4" r="2.45"/>
<circle cx="143.3" cy="157.4" r="2.45"/>
<circle cx="153.7" cy="148.0" r="2.45"/>
<circle cx="175.0" cy="119.2" r="2.45"/>
<circle cx="147.9" cy="147.8" r="2.45"/>
<circle cx="225.4" cy="82.2" r="2.45"/>
<circle cx="144.6" cy="145.8" r="2.45"/>
<circle cx="140.2" cy="164.6" r="2.45"/>
<circle cx="191.2" cy="139.6" r="2.45"/>
<circle cx="190.1" cy="116.3" r="2.45"/>
<circle cx="209.9" cy="100.6" r="2.45"/>
<circle cx="138.0" cy="152.5" r="2.45"/>
<circle cx="122.4" cy="180.4" r="2.45"/>
<circle cx="175.2" cy="134.8" r="2.45"/>
<circle cx="139.5" cy="161.2" r="2.45"/>
<circle cx="123.9" cy="169.7" r="2.45"/>
<circle cx="118.1" cy="166.8" r="2.45"/>
<circle cx="199.5" cy="124.8" r="2.45"/>
<circle cx="130.1" cy="155.8" r="2.45"/>
<circle cx="124.4" cy="167.7" r="2.45"/>
<circle cx="121.0" cy="164.0" r="2.45"/>
<circle cx="134.3" cy="167.8" r="2.45"/>
<circle cx="138.5" cy="153.3" r="2.45"/>
<circle cx="205.4" cy="94.4" r="2.45"/>
<circle cx="115.9" cy="179.3" r="2.45"/>
<circle cx="203.2" cy="103.0" r="2.45"/>
<circle cx="188.4" cy="122.5" r="2.45"/>
<circle cx="160.8" cy="126.2" r="2.45"/>
<circle cx="154.9" cy="147.5" r="2.45"/>
<circle cx="135.2" cy="170.5" r="2.45"/>
<circle cx="175.5" cy="131.5" r="2.45"/>
<circle cx="192.0" cy="112.1" r="2.45"/>
<circle cx="111.4" cy="180.2" r="2.45"/>
<circle cx="156.6" cy="147.2" r="2.45"/>
<circle cx="208.9" cy="114.3" r="2.45"/>
<circle cx="139.3" cy="165.9" r="2.45"/>
<circle cx="190.6" cy="115.5" r="2.45"/>
<circle cx="169.1" cy="141.0" r="2.45"/>
<circle cx="222.9" cy="99.5" r="2.45"/>
<circle cx="139.0" cy="165.6" r="2.45"/>
<circle cx="177.0" cy="139.0" r="2.45"/>
<circle cx="191.7" cy="126.6" r="2.45"/>
<circle cx="178.0" cy="130.2" r="2.45"/>
<circle cx="147.1" cy="149.0" r="2.45"/>
<circle cx="167.8" cy="141.2" r="2.45"/>
<circle cx="137.8" cy="142.3" r="2.45"/>
<circle cx="219.9" cy="104.8" r="2.45"/>
<circle cx="164.9" cy="118.7" r="2.45"/>
<circle cx="209.3" cy="97.0" r="2.45"/>
<circle cx="218.7" cy="103.4" r="2.45"/>
<circle cx="186.9" cy="127.7" r="2.45"/>
<circle cx="169.1" cy="134.5" r="2.45"/>
<circle cx="187.6" cy="137.3" r="2.45"/>
<circle cx="143.7" cy="166.9" r="2.45"/>
<circle cx="229.6" cy="83.0" r="2.45"/>
<circle cx="135.2" cy="171.3" r="2.45"/>
<circle cx="182.5" cy="140.9" r="2.45"/>
<circle cx="192.1" cy="106.7" r="2.45"/>
<circle cx="201.2" cy="105.5" r="2.45"/>
<circle cx="109.4" cy="175.1" r="2.45"/>
<circle cx="156.0" cy="126.7" r="2.45"/>
<circle cx="176.2" cy="129.2" r="2.45"/>
<circle cx="171.0" cy="136.8" r="2.45"/>
<circle cx="131.4" cy="152.8" r="2.45"/>
<circle cx="207.6" cy="103.1" r="2.45"/>
<circle cx="164.3" cy="147.7" r="2.45"/>
<circle cx="108.1" cy="173.8" r="2.45"/>
<circle cx="210.4" cy="111.4" r="2.45"/>
<circle cx="145.4" cy="149.4" r="2.45"/>
<circle cx="188.1" cy="112.9" r="2.45"/>
<circle cx="180.1" cy="122.7" r="2.45"/>
<circle cx="227.3" cy="90.7" r="2.45"/>
<circle cx="203.6" cy="120.8" r="2.45"/>
<circle cx="214.4" cy="107.5" r="2.45"/>
<circle cx="208.4" cy="98.7" r="2.45"/>
<circle cx="138.3" cy="138.5" r="2.45"/>
<circle cx="237.4" cy="70.1" r="2.45"/>
<circle cx="205.7" cy="116.9" r="2.45"/>
<circle cx="167.9" cy="147.1" r="2.45"/>
<circle cx="151.8" cy="141.2" r="2.45"/>
<circle cx="182.2" cy="123.5" r="2.45"/>
<circle cx="146.7" cy="147.3" r="2.45"/>
<circle cx="182.3" cy="118.0" r="2.45"/>
<circle cx="134.0" cy="160.6" r="2.45"/>
<circle cx="175.2" cy="119.9" r="2.45"/>
<circle cx="211.9" cy="92.3" r="2.45"/>
<circle cx="152.1" cy="138.4" r="2.45"/>
<circle cx="212.2" cy="103.0" r="2.45"/>
<circle cx="150.4" cy="141.3" r="2.45"/>
<circle cx="230.0" cy="83.6" r="2.45"/>
<circle cx="159.4" cy="144.7" r="2.45"/>
<circle cx="175.4" cy="130.5" r="2.45"/>
<circle cx="142.7" cy="150.9" r="2.45"/>
<circle cx="143.6" cy="158.3" r="2.45"/>
<circle cx="171.1" cy="116.5" r="2.45"/>
<circle cx="153.7" cy="140.0" r="2.45"/>
<circle cx="118.5" cy="177.9" r="2.45"/>
<circle cx="166.5" cy="131.1" r="2.45"/>
<circle cx="135.3" cy="154.4" r="2.45"/>
<circle cx="112.6" cy="170.0" r="2.45"/>
<circle cx="150.8" cy="160.3" r="2.45"/>
<circle cx="127.3" cy="169.7" r="2.45"/>
<circle cx="213.6" cy="76.7" r="2.45"/>
<circle cx="193.3" cy="125.2" r="2.45"/>
<circle cx="172.8" cy="132.0" r="2.45"/>
<circle cx="239.2" cy="68.0" r="2.45"/>
<circle cx="147.3" cy="159.2" r="2.45"/>
<circle cx="121.6" cy="175.7" r="2.45"/>
<circle cx="189.3" cy="123.1" r="2.45"/>
<circle cx="165.3" cy="132.2" r="2.45"/>
<circle cx="140.9" cy="126.3" r="2.45"/>
<circle cx="184.6" cy="107.4" r="2.45"/>
<circle cx="121.4" cy="169.7" r="2.45"/>
<circle cx="148.4" cy="140.5" r="2.45"/>
<circle cx="141.6" cy="175.5" r="2.45"/>
<circle cx="220.8" cy="83.6" r="2.45"/>
<circle cx="147.9" cy="154.9" r="2.45"/>
<circle cx="209.8" cy="104.4" r="2.45"/>
<circle cx="230.7" cy="71.0" r="2.45"/>
<circle cx="208.0" cy="98.9" r="2.45"/>
<circle cx="171.8" cy="132.9" r="2.45"/>
<circle cx="144.1" cy="160.4" r="2.45"/>
<circle cx="155.8" cy="128.8" r="2.45"/>
<circle cx="170.6" cy="112.7" r="2.45"/>
<circle cx="157.1" cy="145.1" r="2.45"/>
<circle cx="182.8" cy="119.8" r="2.45"/>
<circle cx="179.7" cy="121.5" r="2.45"/>
<circle cx="113.2" cy="176.6" r="2.45"/>
<circle cx="163.1" cy="127.5" r="2.45"/>
<circle cx="180.6" cy="148.7" r="2.45"/>
<circle cx="116.9" cy="166.8" r="2.45"/>
<circle cx="214.2" cy="101.5" r="2.45"/>
<circle cx="192.3" cy="114.4" r="2.45"/>
<circle cx="141.0" cy="138.1" r="2.45"/>
<circle cx="123.4" cy="176.6" r="2.45"/>
<circle cx="139.4" cy="157.6" r="2.45"/>
<circle cx="202.4" cy="96.5" r="2.45"/>
<circle cx="108.6" cy="185.9" r="2.45"/>
<circle cx="156.9" cy="143.6" r="2.45"/>
<circle cx="177.6" cy="127.4" r="2.45"/>
<circle cx="210.9" cy="104.8" r="2.45"/>
<circle cx="173.6" cy="111.0" r="2.45"/>
<circle cx="219.9" cy="107.6" r="2.45"/>
<circle cx="187.7" cy="128.3" r="2.45"/>
<circle cx="208.6" cy="121.0" r="2.45"/>
<circle cx="148.9" cy="145.8" r="2.45"/>
<circle cx="194.9" cy="110.4" r="2.45"/>
<circle cx="194.6" cy="102.5" r="2.45"/>
<circle cx="138.1" cy="140.1" r="2.45"/>
<circle cx="227.7" cy="92.9" r="2.45"/>
<circle cx="217.4" cy="110.6" r="2.45"/>
<circle cx="181.3" cy="132.9" r="2.45"/>
<circle cx="134.5" cy="163.8" r="2.45"/>
<circle cx="166.0" cy="120.1" r="2.45"/>
<circle cx="206.6" cy="101.2" r="2.45"/>
<circle cx="145.4" cy="162.6" r="2.45"/>
<circle cx="158.1" cy="137.3" r="2.45"/>
<circle cx="227.3" cy="77.1" r="2.45"/>
<circle cx="219.6" cy="87.8" r="2.45"/>
<circle cx="137.4" cy="164.0" r="2.45"/>
<circle cx="162.3" cy="149.6" r="2.45"/>
<circle cx="140.3" cy="173.6" r="2.45"/>
<circle cx="108.6" cy="185.0" r="2.45"/>
<circle cx="229.6" cy="82.0" r="2.45"/>
<circle cx="118.7" cy="182.3" r="2.45"/>
<circle cx="130.7" cy="154.0" r="2.45"/>
<circle cx="206.8" cy="108.2" r="2.45"/>
<circle cx="201.5" cy="100.3" r="2.45"/>
<circle cx="185.9" cy="118.2" r="2.45"/>
<circle cx="230.8" cy="94.2" r="2.45"/>
<circle cx="151.3" cy="143.9" r="2.45"/>
<circle cx="232.7" cy="77.8" r="2.45"/>
<circle cx="192.2" cy="107.6" r="2.45"/>
<circle cx="148.0" cy="145.1" r="2.45"/>
<circle cx="149.1" cy="145.7" r="2.45"/>
<circle cx="214.3" cy="95.5" r="2.45"/>
<circle cx="199.7" cy="115.9" r="2.45"/>
<circle cx="134.4" cy="169.8" r="2.45"/>
<circle cx="173.9" cy="154.4" r="2.45"/>
<circle cx="190.1" cy="104.9" r="2.45"/>
<circle cx="157.0" cy="145.3" r="2.45"/>
<circle cx="140.8" cy="150.9" r="2.45"/>
<circle cx="111.9" cy="185.2" r="2.45"/>
<circle cx="189.4" cy="142.2" r="2.45"/>
<circle cx="213.4" cy="75.4" r="2.45"/>
<circle cx="188.0" cy="128.4" r="2.45"/>
<circle cx="142.1" cy="143.5" r="2.45"/>
<circle cx="116.4" cy="172.3" r="2.45"/>
<circle cx="197.2" cy="110.8" r="2.45"/>
<circle cx="187.9" cy="113.3" r="2.45"/>
<circle cx="118.9" cy="176.1" r="2.45"/>
<circle cx="211.2" cy="102.6" r="2.45"/>
<circle cx="194.9" cy="114.4" r="2.45"/>
<circle cx="190.0" cy="105.7" r="2.45"/>
<circle cx="139.8" cy="163.7" r="2.45"/>
<circle cx="205.4" cy="114.1" r="2.45"/>
<circle cx="172.4" cy="148.5" r="2.45"/>
<circle cx="235.8" cy="70.9" r="2.45"/>
<circle cx="241.5" cy="76.8" r="2.45"/>
<circle cx="106.6" cy="178.5" r="2.45"/>
<circle cx="228.4" cy="102.1" r="2.45"/>
<circle cx="195.4" cy="117.5" r="2.45"/>
<circle cx="122.9" cy="172.5" r="2.45"/>
<circle cx="159.6" cy="150.2" r="2.45"/>
<circle cx="218.4" cy="94.5" r="2.45"/>
<circle cx="184.4" cy="125.6" r="2.45"/>
<circle cx="227.1" cy="87.7" r="2.45"/>
<circle cx="225.4" cy="97.0" r="2.45"/>
<circle cx="210.4" cy="111.7" r="2.45"/>
<circle cx="196.5" cy="85.9" r="2.45"/>
<circle cx="232.6" cy="85.0" r="2.45"/>
<circle cx="229.8" cy="91.0" r="2.45"/>
<circle cx="114.3" cy="179.2" r="2.45"/>
<circle cx="192.5" cy="110.9" r="2.45"/>
<circle cx="187.4" cy="93.1" r="2.45"/>
<circle cx="146.8" cy="153.2" r="2.45"/>
<circle cx="184.7" cy="123.7" r="2.45"/>
<circle cx="153.2" cy="136.6" r="2.45"/>
<circle cx="230.6" cy="95.0" r="2.45"/>
<circle cx="125.9" cy="167.4" r="2.45"/>
<circle cx="183.7" cy="120.1" r="2.45"/>
<circle cx="195.8" cy="118.5" r="2.45"/>
<circle cx="236.5" cy="87.7" r="2.45"/>
<circle cx="232.8" cy="76.0" r="2.45"/>
<circle cx="181.7" cy="121.1" r="2.45"/>
<circle cx="161.4" cy="148.7" r="2.45"/>
<circle cx="174.4" cy="131.9" r="2.45"/>
<circle cx="177.4" cy="116.2" r="2.45"/>
<circle cx="217.9" cy="111.7" r="2.45"/>
<circle cx="179.6" cy="135.6" r="2.45"/>
<circle cx="214.5" cy="100.4" r="2.45"/>
<circle cx="225.3" cy="108.7" r="2.45"/>
<circle cx="180.6" cy="120.4" r="2.45"/>
<circle cx="180.0" cy="119.9" r="2.45"/>
<circle cx="111.3" cy="181.7" r="2.45"/>
<circle cx="145.0" cy="159.8" r="2.45"/>
<circle cx="174.7" cy="140.8" r="2.45"/>
<circle cx="187.0" cy="126.0" r="2.45"/>
<circle cx="236.3" cy="73.5" r="2.45"/>
<circle cx="218.4" cy="78.2" r="2.45"/>
<circle cx="195.0" cy="115.4" r="2.45"/>
<circle cx="157.1" cy="121.4" r="2.45"/>
<circle cx="107.3" cy="185.9" r="2.45"/>
<circle cx="131.2" cy="155.1" r="2.45"/>
<circle cx="132.4" cy="156.0" r="2.45"/>
<circle cx="180.6" cy="117.2" r="2.45"/>
<circle cx="204.9" cy="120.6" r="2.45"/>
<circle cx="161.8" cy="139.9" r="2.45"/>
<circle cx="187.0" cy="123.3" r="2.45"/>
<circle cx="167.9" cy="142.7" r="2.45"/>
<circle cx="214.8" cy="85.6" r="2.45"/>
<circle cx="109.5" cy="178.0" r="2.45"/>
<circle cx="148.0" cy="146.4" r="2.45"/>
<circle cx="135.0" cy="152.7" r="2.45"/>
<circle cx="184.4" cy="126.6" r="2.45"/>
<circle cx="197.6" cy="107.2" r="2.45"/>
<circle cx="184.6" cy="130.8" r="2.45"/>
<circle cx="154.0" cy="145.7" r="2.45"/>
<circle cx="218.8" cy="110.5" r="2.45"/>
<circle cx="205.8" cy="86.0" r="2.45"/>
<circle cx="227.1" cy="87.6" r="2.45"/>
<circle cx="173.4" cy="118.2" r="2.45"/>
<circle cx="111.9" cy="182.1" r="2.45"/>
<circle cx="179.4" cy="139.8" r="2.45"/>
<circle cx="150.4" cy="161.6" r="2.45"/>
<circle cx="215.4" cy="98.7" r="2.45"/>
<circle cx="231.3" cy="72.6" r="2.45"/>
<circle cx="229.7" cy="105.6" r="2.45"/>
<circle cx="108.4" cy="175.0" r="2.45"/>
<circle cx="156.0" cy="136.5" r="2.45"/>
<circle cx="219.5" cy="102.5" r="2.45"/>
<circle cx="190.8" cy="137.9" r="2.45"/>
<circle cx="212.5" cy="96.1" r="2.45"/>
<circle cx="101.6" cy="178.9" r="2.45"/>
<circle cx="154.6" cy="144.4" r="2.45"/>
<circle cx="123.1" cy="179.6" r="2.45"/>
<circle cx="107.4" cy="179.2" r="2.45"/>
<circle cx="182.4" cy="143.7" r="2.45"/>
<circle cx="159.0" cy="142.2" r="2.45"/>
<circle cx="259.9" cy="62.0" r="2.45"/>
<circle cx="249.2" cy="67.2" r="2.45"/>
<circle cx="209.0" cy="111.4" r="2.45"/>
<circle cx="181.3" cy="119.2" r="2.45"/>
<circle cx="199.4" cy="107.5" r="2.45"/>
<circle cx="144.0" cy="151.4" r="2.45"/>
<circle cx="178.0" cy="129.9" r="2.45"/>
<circle cx="113.3" cy="173.1" r="2.45"/>
<circle cx="126.4" cy="178.6" r="2.45"/>
<circle cx="140.6" cy="147.3" r="2.45"/>
<circle cx="154.1" cy="130.4" r="2.45"/>
<circle cx="132.2" cy="169.0" r="2.45"/>
<circle cx="218.0" cy="89.9" r="2.45"/>
<circle cx="169.5" cy="143.0" r="2.45"/>
<circle cx="145.8" cy="141.4" r="2.45"/>
<circle cx="146.4" cy="154.8" r="2.45"/>
<circle cx="180.4" cy="143.9" r="2.45"/>
<circle cx="95.7" cy="186.2" r="2.45"/>
<circle cx="122.8" cy="168.7" r="2.45"/>
<circle cx="189.0" cy="117.7" r="2.45"/>
<circle cx="193.0" cy="134.0" r="2.45"/>
<circle cx="145.6" cy="158.1" r="2.45"/>
<circle cx="198.6" cy="108.7" r="2.45"/>
<circle cx="131.5" cy="166.6" r="2.45"/>
<circle cx="137.1" cy="159.1" r="2.45"/>
<circle cx="133.7" cy="175.4" r="2.45"/>
<circle cx="144.1" cy="154.1" r="2.45"/>
<circle cx="204.0" cy="86.3" r="2.45"/>
<circle cx="183.9" cy="131.3" r="2.45"/>
<circle cx="181.0" cy="140.0" r="2.45"/>
<circle cx="124.7" cy="153.5" r="2.45"/>
<circle cx="152.3" cy="141.9" r="2.45"/>
<circle cx="99.8" cy="178.5" r="2.45"/>
<circle cx="146.4" cy="169.2" r="2.45"/>
<circle cx="204.4" cy="103.2" r="2.45"/>
<circle cx="136.4" cy="150.6" r="2.45"/>
<circle cx="195.1" cy="118.7" r="2.45"/>
<circle cx="157.3" cy="128.4" r="2.45"/>
<circle cx="127.1" cy="148.3" r="2.45"/>
<circle cx="228.9" cy="64.2" r="2.45"/>
<circle cx="124.1" cy="170.8" r="2.45"/>
<circle cx="106.0" cy="180.6" r="2.45"/>
<circle cx="164.1" cy="127.3" r="2.45"/>
<circle cx="213.3" cy="106.9" r="2.45"/>
<circle cx="189.1" cy="131.1" r="2.45"/>
<circle cx="188.3" cy="106.1" r="2.45"/>
<circle cx="128.1" cy="163.4" r="2.45"/>
<circle cx="144.4" cy="145.4" r="2.45"/>
<circle cx="126.8" cy="178.3" r="2.45"/>
<circle cx="130.1" cy="165.1" r="2.45"/>
<circle cx="149.4" cy="155.3" r="2.45"/>
<circle cx="184.2" cy="117.1" r="2.45"/>
<circle cx="218.6" cy="80.9" r="2.45"/>
<circle cx="201.5" cy="100.8" r="2.45"/>
<circle cx="235.6" cy="83.3" r="2.45"/>
<circle cx="229.2" cy="69.9" r="2.45"/>
<circle cx="127.6" cy="157.2" r="2.45"/>
<circle cx="186.8" cy="137.2" r="2.45"/>
<circle cx="199.9" cy="118.3" r="2.45"/>
<circle cx="125.5" cy="179.3" r="2.45"/>
<circle cx="194.3" cy="94.2" r="2.45"/>
<circle cx="135.0" cy="156.9" r="2.45"/>
<circle cx="184.5" cy="103.8" r="2.45"/>
<circle cx="176.5" cy="121.2" r="2.45"/>
<circle cx="156.2" cy="150.0" r="2.45"/>
<circle cx="127.4" cy="148.0" r="2.45"/>
<circle cx="148.2" cy="155.3" r="2.45"/>
<circle cx="196.0" cy="87.2" r="2.45"/>
<circle cx="155.9" cy="139.3" r="2.45"/>
<circle cx="129.0" cy="157.4" r="2.45"/>
<circle cx="168.4" cy="137.0" r="2.45"/>
<circle cx="167.0" cy="128.7" r="2.45"/>
<circle cx="147.1" cy="153.9" r="2.45"/>
<circle cx="212.4" cy="90.3" r="2.45"/>
<circle cx="153.4" cy="145.8" r="2.45"/>
<circle cx="175.2" cy="126.3" r="2.45"/>
<circle cx="236.6" cy="79.9" r="2.45"/>
<circle cx="188.5" cy="105.1" r="2.45"/>
<circle cx="155.8" cy="133.9" r="2.45"/>
<circle cx="164.3" cy="138.9" r="2.45"/>
<circle cx="187.5" cy="126.7" r="2.45"/>
<circle cx="175.6" cy="112.6" r="2.45"/>
<circle cx="194.4" cy="126.0" r="2.45"/>
<circle cx="114.8" cy="176.4" r="2.45"/>
<circle cx="134.7" cy="169.9" r="2.45"/>
<circle cx="108.3" cy="181.0" r="2.45"/>
<circle cx="160.0" cy="126.3" r="2.45"/>
<circle cx="203.6" cy="117.5" r="2.45"/>
<circle cx="163.8" cy="143.2" r="2.45"/>
<circle cx="215.0" cy="92.7" r="2.45"/>
<circle cx="179.3" cy="136.3" r="2.45"/>
<circle cx="144.6" cy="153.1" r="2.45"/>
<circle cx="106.5" cy="175.5" r="2.45"/>
<circle cx="239.6" cy="82.8" r="2.45"/>
<circle cx="198.6" cy="129.0" r="2.45"/>
<circle cx="205.9" cy="117.7" r="2.45"/>
<circle cx="131.9" cy="171.3" r="2.45"/>
<circle cx="176.7" cy="121.9" r="2.45"/>
<circle cx="234.2" cy="76.0" r="2.45"/>
<circle cx="139.9" cy="153.1" r="2.45"/>
<circle cx="132.4" cy="156.8" r="2.45"/>
<circle cx="196.4" cy="103.3" r="2.45"/>
<circle cx="191.6" cy="95.7" r="2.45"/>
<circle cx="176.2" cy="121.9" r="2.45"/>
<circle cx="220.4" cy="89.8" r="2.45"/>
<circle cx="181.6" cy="125.8" r="2.45"/>
<circle cx="118.7" cy="168.4" r="2.45"/>
<circle cx="145.3" cy="158.9" r="2.45"/>
<circle cx="112.8" cy="175.2" r="2.45"/>
<circle cx="163.8" cy="129.5" r="2.45"/>
<circle cx="196.9" cy="112.7" r="2.45"/>
<circle cx="161.8" cy="145.9" r="2.45"/>
<circle cx="216.5" cy="104.4" r="2.45"/>
<circle cx="143.4" cy="156.9" r="2.45"/>
<circle cx="156.7" cy="116.4" r="2.45"/>
<circle cx="168.4" cy="124.5" r="2.45"/>
<circle cx="246.9" cy="64.3" r="2.45"/>
<circle cx="128.1" cy="191.8" r="2.45"/>
<circle cx="141.0" cy="161.5" r="2.45"/>
<circle cx="163.0" cy="125.7" r="2.45"/>
<circle cx="241.9" cy="76.6" r="2.45"/>
<circle cx="169.3" cy="128.8" r="2.45"/>
<circle cx="226.1" cy="81.7" r="2.45"/>
<circle cx="150.2" cy="144.5" r="2.45"/>
<circle cx="206.9" cy="100.5" r="2.45"/>
<circle cx="222.2" cy="89.2" r="2.45"/>
<circle cx="211.7" cy="92.7" r="2.45"/>
<circle cx="159.5" cy="125.3" r="2.45"/>
<circle cx="248.7" cy="69.1" r="2.45"/>
<circle cx="114.5" cy="176.7" r="2.45"/>
<circle cx="155.9" cy="135.9" r="2.45"/>
<circle cx="164.5" cy="138.2" r="2.45"/>
<circle cx="205.7" cy="127.6" r="2.45"/>
<circle cx="202.3" cy="96.9" r="2.45"/>
<circle cx="161.7" cy="125.8" r="2.45"/>
<circle cx="157.0" cy="134.4" r="2.45"/>
<circle cx="156.5" cy="136.9" r="2.45"/>
<circle cx="226.8" cy="86.8" r="2.45"/>
<circle cx="184.2" cy="124.9" r="2.45"/>
<circle cx="140.7" cy="157.0" r="2.45"/>
<circle cx="199.1" cy="122.1" r="2.45"/>
<circle cx="188.2" cy="126.1" r="2.45"/>
<circle cx="197.0" cy="110.8" r="2.45"/>
<circle cx="177.4" cy="124.1" r="2.45"/>
<circle cx="210.4" cy="89.2" r="2.45"/>
<circle cx="144.9" cy="148.8" r="2.45"/>
<circle cx="180.4" cy="126.2" r="2.45"/>
<circle cx="204.8" cy="106.6" r="2.45"/>
<circle cx="143.4" cy="156.7" r="2.45"/>
<circle cx="154.5" cy="123.2" r="2.45"/>
<circle cx="166.5" cy="144.2" r="2.45"/>
<circle cx="109.2" cy="188.4" r="2.45"/>
<circle cx="147.9" cy="141.5" r="2.45"/>
<circle cx="180.2" cy="131.5" r="2.45"/>
<circle cx="189.2" cy="119.7" r="2.45"/>
<circle cx="206.2" cy="92.2" r="2.45"/>
<circle cx="145.0" cy="143.6" r="2.45"/>
<circle cx="135.2" cy="160.7" r="2.45"/>
<circle cx="211.1" cy="88.9" r="2.45"/>
<circle cx="108.0" cy="181.4" r="2.45"/>
<circle cx="188.8" cy="130.9" r="2.45"/>
<circle cx="153.9" cy="142.3" r="2.45"/>
<circle cx="155.8" cy="149.9" r="2.45"/>
<circle cx="177.3" cy="124.5" r="2.45"/>
<circle cx="181.0" cy="116.9" r="2.45"/>
<circle cx="113.7" cy="175.3" r="2.45"/>
<circle cx="133.3" cy="149.4" r="2.45"/>
<circle cx="206.2" cy="107.6" r="2.45"/>
<circle cx="179.4" cy="132.3" r="2.45"/>
<circle cx="146.3" cy="166.2" r="2.45"/>
<circle cx="204.3" cy="107.1" r="2.45"/>
<circle cx="175.3" cy="133.0" r="2.45"/>
<circle cx="187.8" cy="130.2" r="2.45"/>
<circle cx="155.1" cy="152.8" r="2.45"/>
<circle cx="203.1" cy="115.7" r="2.45"/>
<circle cx="117.5" cy="186.9" r="2.45"/>
<circle cx="167.8" cy="132.0" r="2.45"/>
<circle cx="163.5" cy="135.1" r="2.45"/>
<circle cx="133.0" cy="181.0" r="2.45"/>
<circle cx="129.7" cy="170.7" r="2.45"/>
<circle cx="152.0" cy="163.6" r="2.45"/>
<circle cx="228.5" cy="94.6" r="2.45"/>
<circle cx="112.7" cy="183.0" r="2.45"/>
<circle cx="106.8" cy="174.6" r="2.45"/>
<circle cx="187.4" cy="132.7" r="2.45"/>
<circle cx="171.0" cy="113.7" r="2.45"/>
<circle cx="257.9" cy="63.9" r="2.45"/>
<circle cx="135.1" cy="158.8" r="2.45"/>
<circle cx="147.1" cy="162.0" r="2.45"/>
<circle cx="190.7" cy="109.0" r="2.45"/>
<circle cx="149.9" cy="123.5" r="2.45"/>
<circle cx="142.0" cy="159.7" r="2.45"/>
<circle cx="222.0" cy="109.2" r="2.45"/>
<circle cx="136.3" cy="147.4" r="2.45"/>
<circle cx="216.1" cy="88.3" r="2.45"/>
<circle cx="155.3" cy="133.9" r="2.45"/>
<circle cx="175.5" cy="130.4" r="2.45"/>
<circle cx="157.8" cy="145.8" r="2.45"/>
<circle cx="114.2" cy="174.0" r="2.45"/>
<circle cx="186.6" cy="106.5" r="2.45"/>
<circle cx="132.3" cy="181.0" r="2.45"/>
<circle cx="108.7" cy="182.0" r="2.45"/>
<circle cx="129.2" cy="166.1" r="2.45"/>
<circle cx="143.3" cy="157.8" r="2.45"/>
<circle cx="211.0" cy="97.9" r="2.45"/>
<circle cx="114.7" cy="171.4" r="2.45"/>
<circle cx="216.3" cy="116.9" r="2.45"/>
<circle cx="215.2" cy="98.9" r="2.45"/>
<circle cx="176.6" cy="118.1" r="2.45"/>
<circle cx="159.0" cy="133.5" r="2.45"/>
<circle cx="139.7" cy="160.8" r="2.45"/>
<circle cx="220.3" cy="106.2" r="2.45"/>
<circle cx="181.0" cy="128.3" r="2.45"/>
<circle cx="130.1" cy="163.1" r="2.45"/>
<circle cx="202.1" cy="108.7" r="2.45"/>
<circle cx="144.8" cy="159.3" r="2.45"/>
<circle cx="142.8" cy="154.2" r="2.45"/>
<circle cx="179.9" cy="120.6" r="2.45"/>
<circle cx="165.0" cy="138.4" r="2.45"/>
<circle cx="218.7" cy="106.9" r="2.45"/>
<circle cx="100.3" cy="187.7" r="2.45"/>
<circle cx="186.2" cy="129.1" r="2.45"/>
<circle cx="185.0" cy="113.1" r="2.45"/>
<circle cx="145.7" cy="140.6" r="2.45"/>
<circle cx="164.4" cy="128.0" r="2.45"/>
<circle cx="124.1" cy="174.2" r="2.45"/>
<circle cx="231.4" cy="76.5" r="2.45"/>
<circle cx="159.3" cy="138.8" r="2.45"/>
<circle cx="113.5" cy="179.6" r="2.45"/>
<circle cx="166.5" cy="112.2" r="2.45"/>
<circle cx="180.1" cy="124.1" r="2.45"/>
<circle cx="167.9" cy="132.0" r="2.45"/>
<circle cx="229.1" cy="93.4" r="2.45"/>
<circle cx="227.3" cy="79.3" r="2.45"/>
<circle cx="138.7" cy="151.1" r="2.45"/>
<circle cx="243.1" cy="65.1" r="2.45"/>
<circle cx="210.4" cy="97.8" r="2.45"/>
<circle cx="196.0" cy="102.2" r="2.45"/>
<circle cx="120.0" cy="176.2" r="2.45"/>
<circle cx="211.0" cy="106.9" r="2.45"/>
<circle cx="216.9" cy="122.5" r="2.45"/>
<circle cx="120.2" cy="186.2" r="2.45"/>
<circle cx="202.2" cy="104.8" r="2.45"/>
<circle cx="232.7" cy="74.0" r="2.45"/>
<circle cx="196.4" cy="109.9" r="2.45"/>
<circle cx="218.6" cy="67.5" r="2.45"/>
<circle cx="208.4" cy="96.4" r="2.45"/>
<circle cx="217.3" cy="67.6" r="2.45"/>
<circle cx="216.2" cy="83.3" r="2.45"/>
<circle cx="278.9" cy="46.1" r="2.45"/>
<circle cx="207.9" cy="102.2" r="2.45"/>
<circle cx="241.7" cy="71.4" r="2.45"/>
<circle cx="146.4" cy="135.2" r="2.45"/>
<circle cx="194.3" cy="124.6" r="2.45"/>
<circle cx="177.0" cy="116.0" r="2.45"/>
<circle cx="215.3" cy="99.6" r="2.45"/>
<circle cx="187.2" cy="124.7" r="2.45"/>
<circle cx="145.0" cy="159.2" r="2.45"/>
<circle cx="196.4" cy="118.8" r="2.45"/>
<circle cx="175.3" cy="150.4" r="2.45"/>
<circle cx="206.3" cy="108.3" r="2.45"/>
<circle cx="243.1" cy="75.7" r="2.45"/>
<circle cx="140.6" cy="157.7" r="2.45"/>
<circle cx="203.2" cy="94.8" r="2.45"/>
<circle cx="153.1" cy="132.2" r="2.45"/>
<circle cx="256.3" cy="68.3" r="2.45"/>
<circle cx="159.3" cy="120.1" r="2.45"/>
<circle cx="148.2" cy="151.5" r="2.45"/>
<circle cx="155.6" cy="123.8" r="2.45"/>
<circle cx="140.9" cy="142.2" r="2.45"/>
<circle cx="224.6" cy="99.1" r="2.45"/>
<circle cx="218.6" cy="101.8" r="2.45"/>
<circle cx="143.6" cy="158.5" r="2.45"/>
<circle cx="237.2" cy="74.3" r="2.45"/>
<circle cx="149.1" cy="150.6" r="2.45"/>
<circle cx="218.8" cy="96.4" r="2.45"/>
<circle cx="192.7" cy="108.2" r="2.45"/>
<circle cx="207.6" cy="102.5" r="2.45"/>
<circle cx="203.3" cy="104.6" r="2.45"/>
<circle cx="142.3" cy="153.1" r="2.45"/>
<circle cx="155.9" cy="146.9" r="2.45"/>
<circle cx="200.0" cy="119.2" r="2.45"/>
<circle cx="101.5" cy="178.2" r="2.45"/>
<circle cx="174.3" cy="129.2" r="2.45"/>
<circle cx="125.4" cy="163.6" r="2.45"/>
<circle cx="187.0" cy="125.8" r="2.45"/>
<circle cx="127.6" cy="170.7" r="2.45"/>
<circle cx="233.4" cy="75.4" r="2.45"/>
<circle cx="125.0" cy="175.0" r="2.45"/>
<circle cx="182.7" cy="135.9" r="2.45"/>
<circle cx="239.9" cy="82.4" r="2.45"/>
<circle cx="157.5" cy="132.1" r="2.45"/>
<circle cx="165.9" cy="143.1" r="2.45"/>
<circle cx="128.4" cy="170.0" r="2.45"/>
<circle cx="166.1" cy="131.9" r="2.45"/>
<circle cx="106.2" cy="192.0" r="2.45"/>
<circle cx="152.5" cy="140.5" r="2.45"/>
<circle cx="143.0" cy="166.0" r="2.45"/>
<circle cx="143.8" cy="162.2" r="2.45"/>
<circle cx="232.0" cy="78.7" r="2.45"/>
<circle cx="200.7" cy="117.2" r="2.45"/>
<circle cx="132.7" cy="160.4" r="2.45"/>
<circle cx="140.3" cy="156.8" r="2.45"/>
<circle cx="198.6" cy="103.5" r="2.45"/>
<circle cx="132.6" cy="150.7" r="2.45"/>
<circle cx="193.0" cy="86.7" r="2.45"/>
<circle cx="225.3" cy="80.6" r="2.45"/>
<circle cx="108.9" cy="174.4" r="2.45"/>
<circle cx="180.0" cy="138.6" r="2.45"/>
<circle cx="165.6" cy="141.6" r="2.45"/>
<circle cx="138.4" cy="149.4" r="2.45"/>
<circle cx="156.0" cy="136.1" r="2.45"/>
<circle cx="133.4" cy="163.9" r="2.45"/>
<circle cx="186.4" cy="126.3" r="2.45"/>
<circle cx="178.5" cy="144.4" r="2.45"/>
<circle cx="192.0" cy="114.7" r="2.45"/>
<circle cx="169.3" cy="139.5" r="2.45"/>
<circle cx="133.3" cy="162.5" r="2.45"/>
<circle cx="126.3" cy="166.3" r="2.45"/>
<circle cx="117.9" cy="179.1" r="2.45"/>
<circle cx="155.5" cy="146.6" r="2.45"/>
<circle cx="218.0" cy="92.0" r="2.45"/>
<circle cx="139.3" cy="159.7" r="2.45"/>
<circle cx="210.0" cy="97.6" r="2.45"/>
<circle cx="213.7" cy="110.9" r="2.45"/>
<circle cx="113.1" cy="181.4" r="2.45"/>
<circle cx="108.5" cy="182.8" r="2.45"/>
<circle cx="141.1" cy="161.6" r="2.45"/>
<circle cx="167.0" cy="149.1" r="2.45"/>
<circle cx="146.6" cy="168.2" r="2.45"/>
<circle cx="203.4" cy="107.9" r="2.45"/>
<circle cx="107.5" cy="183.9" r="2.45"/>
<circle cx="204.3" cy="105.6" r="2.45"/>
<circle cx="111.5" cy="182.0" r="2.45"/>
<circle cx="207.7" cy="84.5" r="2.45"/>
<circle cx="214.3" cy="87.3" r="2.45"/>
<circle cx="169.2" cy="145.8" r="2.45"/>
<circle cx="133.4" cy="157.9" r="2.45"/>
<circle cx="140.5" cy="163.6" r="2.45"/>
<circle cx="216.2" cy="97.2" r="2.45"/>
<circle cx="137.4" cy="157.0" r="2.45"/>
<circle cx="181.8" cy="146.3" r="2.45"/>
<circle cx="149.8" cy="161.7" r="2.45"/>
<circle cx="150.1" cy="151.6" r="2.45"/>
<circle cx="192.6" cy="123.8" r="2.45"/>
<circle cx="152.4" cy="140.6" r="2.45"/>
<circle cx="196.5" cy="106.4" r="2.45"/>
<circle cx="161.4" cy="137.4" r="2.45"/>
<circle cx="120.4" cy="172.6" r="2.45"/>
<circle cx="190.9" cy="107.7" r="2.45"/>
<circle cx="178.6" cy="149.0" r="2.45"/>
<circle cx="171.7" cy="132.5" r="2.45"/>
<circle cx="109.5" cy="183.5" r="2.45"/>
<circle cx="138.3" cy="155.6" r="2.45"/>
<circle cx="134.1" cy="163.6" r="2.45"/>
<circle cx="243.0" cy="69.1" r="2.45"/>
<circle cx="219.3" cy="111.4" r="2.45"/>
<circle cx="151.5" cy="138.4" r="2.45"/>
<circle cx="219.7" cy="84.9" r="2.45"/>
<circle cx="131.2" cy="151.6" r="2.45"/>
<circle cx="131.3" cy="181.6" r="2.45"/>
<circle cx="182.5" cy="126.4" r="2.45"/>
<circle cx="192.3" cy="108.4" r="2.45"/>
<circle cx="209.0" cy="108.7" r="2.45"/>
<circle cx="162.9" cy="159.8" r="2.45"/>
<circle cx="198.8" cy="100.1" r="2.45"/>
<circle cx="111.7" cy="186.6" r="2.45"/>
<circle cx="109.4" cy="183.5" r="2.45"/>
<circle cx="208.6" cy="104.1" r="2.45"/>
<circle cx="147.5" cy="159.9" r="2.45"/>
<circle cx="209.1" cy="102.8" r="2.45"/>
<circle cx="168.0" cy="131.4" r="2.45"/>
<circle cx="205.8" cy="99.1" r="2.45"/>
<circle cx="143.0" cy="166.4" r="2.45"/>
<circle cx="171.1" cy="147.2" r="2.45"/>
<circle cx="174.8" cy="135.6" r="2.45"/>
<circle cx="225.1" cy="99.4" r="2.45"/>
<circle cx="157.3" cy="154.7" r="2.45"/>
<circle cx="160.5" cy="129.7" r="2.45"/>
<circle cx="185.1" cy="117.9" r="2.45"/>
<circle cx="156.6" cy="168.1" r="2.45"/>
<circle cx="154.4" cy="145.8" r="2.45"/>
<circle cx="187.4" cy="130.6" r="2.45"/>
<circle cx="165.9" cy="159.8" r="2.45"/>
<circle cx="155.1" cy="133.5" r="2.45"/>
<circle cx="174.3" cy="128.1" r="2.45"/>
<circle cx="194.5" cy="117.9" r="2.45"/>
<circle cx="135.4" cy="153.5" r="2.45"/>
<circle cx="198.7" cy="110.4" r="2.45"/>
<circle cx="157.2" cy="132.2" r="2.45"/>
<circle cx="206.3" cy="96.2" r="2.45"/>
<circle cx="135.6" cy="163.8" r="2.45"/>
<circle cx="139.0" cy="174.4" r="2.45"/>
<circle cx="221.5" cy="89.7" r="2.45"/>
<circle cx="165.3" cy="133.2" r="2.45"/>
<circle cx="186.4" cy="129.2" r="2.45"/>
<circle cx="183.8" cy="123.8" r="2.45"/>
<circle cx="139.1" cy="158.1" r="2.45"/>
<circle cx="198.2" cy="118.4" r="2.45"/>
<circle cx="103.4" cy="182.4" r="2.45"/>
<circle cx="176.1" cy="103.8" r="2.45"/>
<circle cx="165.1" cy="145.3" r="2.45"/>
<circle cx="178.9" cy="116.7" r="2.45"/>
<circle cx="146.4" cy="149.6" r="2.45"/>
<circle cx="133.9" cy="176.4" r="2.45"/>
<circle cx="208.0" cy="104.3" r="2.45"/>
<circle cx="140.7" cy="149.3" r="2.45"/>
<circle cx="129.9" cy="163.9" r="2.45"/>
<circle cx="130.7" cy="178.4" r="2.45"/>
<circle cx="123.2" cy="179.5" r="2.45"/>
<circle cx="150.6" cy="159.4" r="2.45"/>
<circle cx="141.3" cy="166.5" r="2.45"/>
<circle cx="245.2" cy="71.8" r="2.45"/>
<circle cx="208.5" cy="106.1" r="2.45"/>
<circle cx="190.7" cy="115.3" r="2.45"/>
<circle cx="244.6" cy="87.1" r="2.45"/>
<circle cx="180.6" cy="116.5" r="2.45"/>
<circle cx="150.3" cy="132.9" r="2.45"/>
<circle cx="180.3" cy="130.2" r="2.45"/>
<circle cx="194.0" cy="114.8" r="2.45"/>
<circle cx="134.7" cy="155.3" r="2.45"/>
<circle cx="187.2" cy="125.7" r="2.45"/>
<circle cx="110.4" cy="182.7" r="2.45"/>
<circle cx="207.4" cy="84.9" r="2.45"/>
<circle cx="138.3" cy="168.0" r="2.45"/>
<circle cx="226.8" cy="101.2" r="2.45"/>
<circle cx="194.4" cy="122.0" r="2.45"/>
<circle cx="135.6" cy="161.6" r="2.45"/>
<circle cx="196.9" cy="113.8" r="2.45"/>
<circle cx="129.7" cy="166.1" r="2.45"/>
<circle cx="208.3" cy="113.6" r="2.45"/>
<circle cx="178.5" cy="124.6" r="2.45"/>
<circle cx="123.2" cy="168.7" r="2.45"/>
<circle cx="149.4" cy="136.2" r="2.45"/>
<circle cx="186.9" cy="132.2" r="2.45"/>
<circle cx="186.0" cy="107.7" r="2.45"/>
<circle cx="162.7" cy="133.4" r="2.45"/>
<circle cx="150.0" cy="151.6" r="2.45"/>
<circle cx="222.4" cy="71.4" r="2.45"/>
<circle cx="193.5" cy="114.8" r="2.45"/>
<circle cx="194.8" cy="117.3" r="2.45"/>
<circle cx="103.0" cy="185.3" r="2.45"/>
<circle cx="173.9" cy="136.9" r="2.45"/>
<circle cx="128.1" cy="175.0" r="2.45"/>
<circle cx="132.9" cy="170.6" r="2.45"/>
<circle cx="176.8" cy="129.3" r="2.45"/>
<circle cx="156.9" cy="125.2" r="2.45"/>
<circle cx="135.3" cy="165.1" r="2.45"/>
<circle cx="121.4" cy="176.5" r="2.45"/>
<circle cx="143.9" cy="144.8" r="2.45"/>
<circle cx="211.6" cy="111.7" r="2.45"/>
<circle cx="202.6" cy="96.8" r="2.45"/>
<circle cx="159.1" cy="146.4" r="2.45"/>
<circle cx="147.1" cy="147.5" r="2.45"/>
<circle cx="226.7" cy="86.4" r="2.45"/>
<circle cx="131.9" cy="171.5" r="2.45"/>
<circle cx="157.4" cy="136.3" r="2.45"/>
<circle cx="117.2" cy="179.2" r="2.45"/>
<circle cx="202.2" cy="103.1" r="2.45"/>
<circle cx="123.2" cy="173.0" r="2.45"/>
<circle cx="238.4" cy="79.4" r="2.45"/>
<circle cx="236.9" cy="87.8" r="2.45"/>
<circle cx="182.7" cy="105.5" r="2.45"/>
<circle cx="160.9" cy="147.4" r="2.45"/>
<circle cx="199.4" cy="118.1" r="2.45"/>
<circle cx="183.9" cy="146.0" r="2.45"/>
<circle cx="129.9" cy="177.4" r="2.45"/>
<circle cx="209.7" cy="90.8" r="2.45"/>
<circle cx="200.4" cy="121.7" r="2.45"/>
<circle cx="216.9" cy="110.4" r="2.45"/>
<circle cx="136.9" cy="157.5" r="2.45"/>
<circle cx="167.3" cy="147.1" r="2.45"/>
<circle cx="206.5" cy="109.8" r="2.45"/>
<circle cx="157.7" cy="144.3" r="2.45"/>
<circle cx="178.7" cy="127.1" r="2.45"/>
<circle cx="174.1" cy="133.4" r="2.45"/>
<circle cx="149.7" cy="155.0" r="2.45"/>
<circle cx="142.0" cy="154.1" r="2.45"/>
<circle cx="199.0" cy="127.5" r="2.45"/>
<circle cx="224.7" cy="94.5" r="2.45"/>
<circle cx="140.3" cy="178.7" r="2.45"/>
<circle cx="150.7" cy="135.4" r="2.45"/>
<circle cx="112.6" cy="173.6" r="2.45"/>
<circle cx="113.9" cy="176.0" r="2.45"/>
<circle cx="176.9" cy="137.5" r="2.45"/>
<circle cx="192.3" cy="88.9" r="2.45"/>
<circle cx="157.4" cy="127.7" r="2.45"/>
<circle cx="199.1" cy="122.1" r="2.45"/>
<circle cx="216.9" cy="105.4" r="2.45"/>
<circle cx="188.5" cy="124.3" r="2.45"/>
<circle cx="210.4" cy="101.4" r="2.45"/>
<circle cx="176.5" cy="137.2" r="2.45"/>
<circle cx="140.0" cy="162.8" r="2.45"/>
<circle cx="218.3" cy="91.4" r="2.45"/>
<circle cx="140.3" cy="152.3" r="2.45"/>
<circle cx="137.2" cy="160.7" r="2.45"/>
<circle cx="165.5" cy="143.3" r="2.45"/>
<circle cx="196.7" cy="106.2" r="2.45"/>
<circle cx="205.0" cy="89.6" r="2.45"/>
<circle cx="118.3" cy="169.0" r="2.45"/>
<circle cx="168.7" cy="159.3" r="2.45"/>
<circle cx="201.1" cy="96.5" r="2.45"/>
<circle cx="184.5" cy="119.9" r="2.45"/>
<circle cx="142.8" cy="158.4" r="2.45"/>
<circle cx="159.8" cy="135.2" r="2.45"/>
<circle cx="212.4" cy="96.3" r="2.45"/>
<circle cx="171.6" cy="133.3" r="2.45"/>
<circle cx="144.5" cy="155.5" r="2.45"/>
<circle cx="129.2" cy="171.2" r="2.45"/>
<circle cx="231.4" cy="72.4" r="2.45"/>
<circle cx="161.9" cy="135.5" r="2.45"/>
<circle cx="181.0" cy="116.8" r="2.45"/>
<circle cx="211.3" cy="105.2" r="2.45"/>
<circle cx="164.0" cy="144.1" r="2.45"/>
<circle cx="212.1" cy="112.5" r="2.45"/>
<circle cx="159.1" cy="153.5" r="2.45"/>
<circle cx="153.0" cy="141.8" r="2.45"/>
<circle cx="131.7" cy="168.4" r="2.45"/>
<circle cx="142.7" cy="160.7" r="2.45"/>
<circle cx="158.6" cy="139.9" r="2.45"/>
<circle cx="179.3" cy="111.0" r="2.45"/>
<circle cx="206.9" cy="126.5" r="2.45"/>
<circle cx="226.2" cy="74.9" r="2.45"/>
<circle cx="201.1" cy="108.2" r="2.45"/>
<circle cx="155.8" cy="148.7" r="2.45"/>
<circle cx="203.7" cy="86.7" r="2.45"/>
<circle cx="93.9" cy="187.8" r="2.45"/>
<circle cx="154.5" cy="141.1" r="2.45"/>
<circle cx="138.1" cy="165.0" r="2.45"/>
<circle cx="163.0" cy="143.6" r="2.45"/>
<circle cx="210.6" cy="100.4" r="2.45"/>
<circle cx="182.6" cy="120.4" r="2.45"/>
<circle cx="184.8" cy="129.9" r="2.45"/>
<circle cx="223.3" cy="95.4" r="2.45"/>
<circle cx="146.2" cy="144.5" r="2.45"/>
<circle cx="204.7" cy="129.6" r="2.45"/>
<circle cx="187.2" cy="107.4" r="2.45"/>
<circle cx="164.0" cy="132.8" r="2.45"/>
<circle cx="222.4" cy="92.8" r="2.45"/>
<circle cx="167.5" cy="136.5" r="2.45"/>
<circle cx="232.1" cy="82.0" r="2.45"/>
<circle cx="209.7" cy="83.8" r="2.45"/>
<circle cx="154.5" cy="135.9" r="2.45"/>
<circle cx="162.3" cy="164.1" r="2.45"/>
<circle cx="132.0" cy="164.1" r="2.45"/>
<circle cx="137.8" cy="159.3" r="2.45"/>
<circle cx="204.5" cy="101.9" r="2.45"/>
<circle cx="118.6" cy="186.7" r="2.45"/>
<circle cx="181.0" cy="102.5" r="2.45"/>
<circle cx="171.7" cy="106.1" r="2.45"/>
<circle cx="220.7" cy="99.9" r="2.45"/>
<circle cx="154.1" cy="141.1" r="2.45"/>
<circle cx="118.4" cy="177.9" r="2.45"/>
<circle cx="166.5" cy="118.1" r="2.45"/>
<circle cx="184.2" cy="125.8" r="2.45"/>
<circle cx="164.9" cy="130.7" r="2.45"/>
<circle cx="192.7" cy="119.0" r="2.45"/>
<circle cx="120.0" cy="165.1" r="2.45"/>
<circle cx="160.6" cy="153.6" r="2.45"/>
<circle cx="168.7" cy="128.2" r="2.45"/>
<circle cx="182.4" cy="135.9" r="2.45"/>
<circle cx="242.1" cy="84.7" r="2.45"/>
<circle cx="128.0" cy="170.3" r="2.45"/>
<circle cx="111.2" cy="181.1" r="2.45"/>
<circle cx="123.3" cy="175.8" r="2.45"/>
<circle cx="197.6" cy="108.4" r="2.45"/>
<circle cx="147.3" cy="161.0" r="2.45"/>
<circle cx="189.6" cy="116.7" r="2.45"/>
<circle cx="180.6" cy="121.9" r="2.45"/>
<circle cx="162.7" cy="118.4" r="2.45"/>
<circle cx="235.8" cy="66.7" r="2.45"/>
<circle cx="192.9" cy="131.1" r="2.45"/>
<circle cx="188.2" cy="109.6" r="2.45"/>
<circle cx="185.2" cy="111.8" r="2.45"/>
<circle cx="161.5" cy="125.4" r="2.45"/>
<circle cx="204.8" cy="115.9" r="2.45"/>
<circle cx="152.0" cy="150.1" r="2.45"/>
<circle cx="184.0" cy="120.9" r="2.45"/>
<circle cx="207.2" cy="103.6" r="2.45"/>
<circle cx="128.2" cy="169.9" r="2.45"/>
<circle cx="143.8" cy="156.1" r="2.45"/>
<circle cx="208.1" cy="81.8" r="2.45"/>
<circle cx="132.4" cy="165.1" r="2.45"/>
<circle cx="168.6" cy="120.9" r="2.45"/>
<circle cx="170.7" cy="128.5" r="2.45"/>
<circle cx="179.6" cy="128.3" r="2.45"/>
<circle cx="105.1" cy="182.1" r="2.45"/>
<circle cx="169.4" cy="142.3" r="2.45"/>
<circle cx="158.3" cy="149.0" r="2.45"/>
<circle cx="224.7" cy="96.1" r="2.45"/>
<circle cx="163.8" cy="139.3" r="2.45"/>
<circle cx="156.9" cy="146.9" r="2.45"/>
<circle cx="171.4" cy="132.8" r="2.45"/>
<circle cx="206.4" cy="99.0" r="2.45"/>
<circle cx="122.7" cy="165.8" r="2.45"/>
<circle cx="227.4" cy="84.2" r="2.45"/>
<circle cx="161.4" cy="152.6" r="2.45"/>
<circle cx="166.7" cy="133.3" r="2.45"/>
<circle cx="140.8" cy="155.6" r="2.45"/>
<circle cx="207.6" cy="97.4" r="2.45"/>
<circle cx="138.8" cy="171.6" r="2.45"/>
<circle cx="185.4" cy="131.7" r="2.45"/>
<circle cx="210.5" cy="95.7" r="2.45"/>
<circle cx="130.1" cy="160.1" r="2.45"/>
<circle cx="175.8" cy="126.1" r="2.45"/>
<circle cx="224.9" cy="88.8" r="2.45"/>
<circle cx="99.6" cy="180.6" r="2.45"/>
<circle cx="178.9" cy="124.6" r="2.45"/>
<circle cx="165.8" cy="124.1" r="2.45"/>
<circle cx="171.6" cy="128.2" r="2.45"/>
<circle cx="222.8" cy="83.7" r="2.45"/>
<circle cx="192.9" cy="109.7" r="2.45"/>
<circle cx="251.5" cy="70.4" r="2.45"/>
<circle cx="180.1" cy="114.2" r="2.45"/>
<circle cx="227.9" cy="105.3" r="2.45"/>
<circle cx="189.0" cy="110.7" r="2.45"/>
<circle cx="167.8" cy="141.1" r="2.45"/>
<circle cx="154.7" cy="148.4" r="2.45"/>
<circle cx="237.0" cy="81.9" r="2.45"/>
<circle cx="170.2" cy="113.4" r="2.45"/>
<circle cx="172.7" cy="124.3" r="2.45"/>
<circle cx="161.5" cy="136.0" r="2.45"/>
<circle cx="152.0" cy="152.5" r="2.45"/>
<circle cx="150.9" cy="149.1" r="2.45"/>
<circle cx="127.9" cy="177.6" r="2.45"/>
<circle cx="134.5" cy="165.3" r="2.45"/>
<circle cx="196.6" cy="109.8" r="2.45"/>
<circle cx="183.1" cy="106.8" r="2.45"/>
<circle cx="203.7" cy="99.5" r="2.45"/>
<circle cx="156.6" cy="123.1" r="2.45"/>
<circle cx="213.5" cy="97.2" r="2.45"/>
<circle cx="178.9" cy="122.6" r="2.45"/>
<circle cx="164.3" cy="139.2" r="2.45"/>
<circle cx="131.7" cy="169.8" r="2.45"/>
<circle cx="172.6" cy="127.1" r="2.45"/>
<circle cx="233.8" cy="89.8" r="2.45"/>
<circle cx="242.9" cy="77.9" r="2.45"/>
<circle cx="138.8" cy="167.6" r="2.45"/>
<circle cx="216.3" cy="100.9" r="2.45"/>
<circle cx="184.1" cy="117.3" r="2.45"/>
<circle cx="238.4" cy="76.6" r="2.45"/>
<circle cx="204.2" cy="101.7" r="2.45"/>
<circle cx="190.1" cy="130.1" r="2.45"/>
<circle cx="158.2" cy="158.6" r="2.45"/>
<circle cx="174.6" cy="114.2" r="2.45"/>
<circle cx="148.6" cy="163.0" r="2.45"/>
<circle cx="189.1" cy="131.0" r="2.45"/>
<circle cx="150.5" cy="143.4" r="2.45"/>
<circle cx="209.7" cy="103.1" r="2.45"/>
<circle cx="157.5" cy="151.6" r="2.45"/>
<circle cx="235.1" cy="65.9" r="2.45"/>
<circle cx="209.0" cy="113.9" r="2.45"/>
<circle cx="185.4" cy="121.6" r="2.45"/>
<circle cx="158.8" cy="110.8" r="2.45"/>
<circle cx="113.9" cy="181.6" r="2.45"/>
<circle cx="191.9" cy="108.2" r="2.45"/>
<circle cx="173.3" cy="120.7" r="2.45"/>
<circle cx="158.2" cy="142.8" r="2.45"/>
<circle cx="166.6" cy="134.8" r="2.45"/>
<circle cx="195.8" cy="114.7" r="2.45"/>
<circle cx="150.7" cy="163.5" r="2.45"/>
<circle cx="206.1" cy="108.6" r="2.45"/>
<circle cx="227.0" cy="81.3" r="2.45"/>
<circle cx="192.7" cy="157.3" r="2.45"/>
<circle cx="136.3" cy="164.9" r="2.45"/>
<circle cx="157.6" cy="138.0" r="2.45"/>
<circle cx="217.7" cy="87.1" r="2.45"/>
<circle cx="168.8" cy="145.7" r="2.45"/>
<circle cx="169.1" cy="141.2" r="2.45"/>
<circle cx="162.6" cy="145.7" r="2.45"/>
<circle cx="186.5" cy="124.8" r="2.45"/>
<circle cx="175.3" cy="134.7" r="2.45"/>
<circle cx="301.8" cy="28.9" r="2.45"/>
<circle cx="271.1" cy="43.4" r="2.45"/>
<circle cx="262.3" cy="53.0" r="2.45"/>
<circle cx="281.4" cy="37.3" r="2.45"/>
<circle cx="288.4" cy="32.5" r="2.45"/>
<circle cx="298.9" cy="27.5" r="2.45"/>
<circle cx="296.1" cy="34.1" r="2.45"/>
<circle cx="244.2" cy="74.7" r="2.45"/>
<circle cx="287.7" cy="37.6" r="2.45"/>
<circle cx="292.0" cy="35.0" r="2.45"/>
<circle cx="254.7" cy="62.4" r="2.45"/>
<circle cx="285.7" cy="38.2" r="2.45"/>
<circle cx="302.0" cy="32.2" r="2.45"/>
<circle cx="307.4" cy="14.7" r="2.45"/>
<circle cx="272.6" cy="49.7" r="2.45"/>
<circle cx="281.9" cy="48.6" r="2.45"/>
<circle cx="286.7" cy="39.6" r="2.45"/>
<circle cx="266.6" cy="54.5" r="2.45"/>
<circle cx="304.3" cy="25.9" r="2.45"/>
<circle cx="286.5" cy="37.3" r="2.45"/>
<circle cx="258.8" cy="53.3" r="2.45"/>
<circle cx="294.5" cy="31.1" r="2.45"/>
<circle cx="279.9" cy="50.5" r="2.45"/>
<circle cx="299.1" cy="30.7" r="2.45"/>
<circle cx="265.8" cy="58.8" r="2.45"/>
<circle cx="275.2" cy="47.8" r="2.45"/>
<circle cx="261.7" cy="62.2" r="2.45"/>
<circle cx="243.6" cy="77.5" r="2.45"/>
<circle cx="252.4" cy="65.6" r="2.45"/>
<circle cx="274.8" cy="45.8" r="2.45"/>
<circle cx="289.8" cy="32.1" r="2.45"/>
<circle cx="261.8" cy="61.3" r="2.45"/>
<circle cx="304.5" cy="24.2" r="2.45"/>
<circle cx="305.7" cy="22.0" r="2.45"/>
<circle cx="243.0" cy="74.5" r="2.45"/>
<circle cx="278.9" cy="45.0" r="2.45"/>
<circle cx="246.5" cy="70.8" r="2.45"/>
<circle cx="260.5" cy="55.3" r="2.45"/>
<circle cx="274.5" cy="54.4" r="2.45"/>
<circle cx="287.2" cy="40.5" r="2.45"/>
<circle cx="276.8" cy="43.1" r="2.45"/>
<circle cx="292.5" cy="37.0" r="2.45"/>
<circle cx="287.0" cy="38.4" r="2.45"/>
<circle cx="278.5" cy="43.5" r="2.45"/>
<circle cx="250.7" cy="65.0" r="2.45"/>
<circle cx="276.0" cy="44.8" r="2.45"/>
<circle cx="288.3" cy="41.2" r="2.45"/>
<circle cx="282.6" cy="40.3" r="2.45"/>
<circle cx="247.5" cy="70.4" r="2.45"/>
<circle cx="275.9" cy="45.3" r="2.45"/>
<circle cx="288.2" cy="40.2" r="2.45"/>
<circle cx="250.4" cy="68.4" r="2.45"/>
<circle cx="247.7" cy="73.1" r="2.45"/>
<circle cx="284.1" cy="44.1" r="2.45"/>
<circle cx="297.5" cy="29.5" r="2.45"/>
<circle cx="245.0" cy="72.2" r="2.45"/>
<circle cx="301.2" cy="25.1" r="2.45"/>
<circle cx="243.1" cy="72.6" r="2.45"/>
<circle cx="277.5" cy="41.0" r="2.45"/>
<circle cx="292.5" cy="40.6" r="2.45"/>
<circle cx="250.5" cy="69.5" r="2.45"/>
<circle cx="273.9" cy="46.6" r="2.45"/>
<circle cx="288.1" cy="37.0" r="2.45"/>
<circle cx="254.4" cy="64.9" r="2.45"/>
<circle cx="296.1" cy="36.0" r="2.45"/>
<circle cx="271.0" cy="53.9" r="2.45"/>
<circle cx="292.7" cy="38.1" r="2.45"/>
<circle cx="295.0" cy="31.0" r="2.45"/>
<circle cx="288.1" cy="37.7" r="2.45"/>
<circle cx="248.8" cy="69.1" r="2.45"/>
</g>
<clipPath id="c0"><rect x="46.50" y="7.60" width="278.70" height="225.70"/></clipPath>
<g clip-path="url(#c0)">
<line x1="46.50" y1="233.30" x2="325.20" y2="7.60" stroke="#111" stroke-width="1.25"/>
<line x1="46.50" y1="224.05" x2="325.20" y2="-1.65" stroke="#da2630" stroke-width="1.3" stroke-dasharray="6.1 5.6"/>
<line x1="46.50" y1="242.55" x2="325.20" y2="16.85" stroke="#da2630" stroke-width="1.3" stroke-dasharray="6.1 5.6"/>
</g>
<rect x="46.50" y="7.60" width="278.70" height="225.70" fill="none" stroke="#585858" stroke-width="1.4"/>
<path d="M46.50 233.30v-4.5M46.50 233.30h4.5M74.37 233.30v-2.5M46.50 210.73h2.5M102.24 233.30v-4.5M46.50 188.16h4.5M130.11 233.30v-2.5M46.50 165.59h2.5M157.98 233.30v-4.5M46.50 143.02h4.5M185.85 233.30v-2.5M46.50 120.45h2.5M213.72 233.30v-4.5M46.50 97.88h4.5M241.59 233.30v-2.5M46.50 75.31h2.5M269.46 233.30v-4.5M46.50 52.74h4.5M297.33 233.30v-2.5M46.50 30.17h2.5M325.20 233.30v-4.5M46.50 7.60h4.5" stroke="#555" stroke-width="1.2" fill="none"/>
<rect x="53.40" y="13.40" width="100.20" height="44.00" fill="#fff" stroke="#6a6a6a" stroke-width="0.9"/>
<circle cx="67.80" cy="21.60" r="2.3" fill="#0a72bd" fill-opacity="0.55"/>
<line x1="55.00" y1="35.40" x2="80.80" y2="35.40" stroke="#7a7a7a" stroke-width="1.10"/>
<line x1="54.40" y1="49.80" x2="81.20" y2="49.80" stroke="#dc4550" stroke-width="1.5" stroke-dasharray="5.5 6"/>
<text x="83.20" y="25.00" font-size="11.6">Data</text>
<text x="84.00" y="39.50" font-size="11.6">1:1 line</text>
<text x="82.80" y="53.60" font-size="11.6" letter-spacing="0.1">±1 SD of error</text>
<g fill="#0a72bd" fill-opacity="0.55">
<circle cx="529.0" cy="134.6" r="2.45"/>
<circle cx="582.8" cy="73.2" r="2.45"/>
<circle cx="532.0" cy="131.0" r="2.45"/>
<circle cx="511.6" cy="150.1" r="2.45"/>
<circle cx="540.9" cy="125.1" r="2.45"/>
<circle cx="550.8" cy="108.4" r="2.45"/>
<circle cx="488.8" cy="157.9" r="2.45"/>
<circle cx="464.8" cy="184.7" r="2.45"/>
<circle cx="558.7" cy="97.5" r="2.45"/>
<circle cx="517.0" cy="127.8" r="2.45"/>
<circle cx="530.8" cy="106.7" r="2.45"/>
<circle cx="503.8" cy="140.5" r="2.45"/>
<circle cx="460.0" cy="175.6" r="2.45"/>
<circle cx="527.8" cy="118.3" r="2.45"/>
<circle cx="602.1" cy="65.8" r="2.45"/>
<circle cx="544.3" cy="118.6" r="2.45"/>
<circle cx="544.4" cy="131.5" r="2.45"/>
<circle cx="562.7" cy="99.8" r="2.45"/>
<circle cx="497.8" cy="150.4" r="2.45"/>
<circle cx="493.0" cy="146.1" r="2.45"/>
<circle cx="513.4" cy="147.3" r="2.45"/>
<circle cx="497.2" cy="156.0" r="2.45"/>
<circle cx="561.0" cy="89.8" r="2.45"/>
<circle cx="500.3" cy="150.7" r="2.45"/>
<circle cx="524.2" cy="137.8" r="2.45"/>
<circle cx="495.2" cy="169.1" r="2.45"/>
<circle cx="553.0" cy="104.5" r="2.45"/>
<circle cx="507.4" cy="124.6" r="2.45"/>
<circle cx="490.7" cy="156.0" r="2.45"/>
<circle cx="517.3" cy="145.3" r="2.45"/>
<circle cx="524.2" cy="140.3" r="2.45"/>
<circle cx="546.9" cy="105.5" r="2.45"/>
<circle cx="504.8" cy="162.2" r="2.45"/>
<circle cx="545.7" cy="100.0" r="2.45"/>
<circle cx="507.8" cy="126.8" r="2.45"/>
<circle cx="491.3" cy="165.1" r="2.45"/>
<circle cx="534.4" cy="137.9" r="2.45"/>
<circle cx="580.2" cy="88.1" r="2.45"/>
<circle cx="537.0" cy="132.2" r="2.45"/>
<circle cx="512.0" cy="140.5" r="2.45"/>
<circle cx="519.7" cy="152.5" r="2.45"/>
<circle cx="451.7" cy="181.0" r="2.45"/>
<circle cx="554.3" cy="101.5" r="2.45"/>
<circle cx="533.0" cy="121.6" r="2.45"/>
<circle cx="539.6" cy="139.1" r="2.45"/>
<circle cx="560.6" cy="92.9" r="2.45"/>
<circle cx="526.0" cy="133.1" r="2.45"/>
<circle cx="513.2" cy="132.5" r="2.45"/>
<circle cx="551.6" cy="111.1" r="2.45"/>
<circle cx="588.1" cy="77.4" r="2.45"/>
<circle cx="459.8" cy="177.6" r="2.45"/>
<circle cx="494.2" cy="147.9" r="2.45"/>
<circle cx="456.6" cy="183.8" r="2.45"/>
<circle cx="524.9" cy="134.3" r="2.45"/>
<circle cx="532.0" cy="134.2" r="2.45"/>
<circle cx="479.1" cy="158.5" r="2.45"/>
<circle cx="458.9" cy="178.0" r="2.45"/>
<circle cx="462.7" cy="172.1" r="2.45"/>
<circle cx="544.3" cy="138.3" r="2.45"/>
<circle cx="479.6" cy="177.0" r="2.45"/>
<circle cx="528.0" cy="119.9" r="2.45"/>
<circle cx="463.2" cy="180.3" r="2.45"/>
<circle cx="544.1" cy="129.5" r="2.45"/>
<circle cx="480.9" cy="159.0" r="2.45"/>
<circle cx="497.0" cy="155.6" r="2.45"/>
<circle cx="479.3" cy="171.9" r="2.45"/>
<circle cx="478.1" cy="180.8" r="2.45"/>
<circle cx="512.8" cy="141.7" r="2.45"/>
<circle cx="514.2" cy="132.8" r="2.45"/>
<circle cx="541.0" cy="130.6" r="2.45"/>
<circle cx="497.6" cy="160.5" r="2.45"/>
<circle cx="490.9" cy="156.5" r="2.45"/>
<circle cx="509.4" cy="134.1" r="2.45"/>
<circle cx="483.8" cy="179.5" r="2.45"/>
<circle cx="575.6" cy="85.1" r="2.45"/>
<circle cx="573.9" cy="77.9" r="2.45"/>
<circle cx="489.3" cy="151.9" r="2.45"/>
<circle cx="536.2" cy="118.4" r="2.45"/>
<circle cx="479.7" cy="177.8" r="2.45"/>
<circle cx="465.8" cy="176.6" r="2.45"/>
<circle cx="529.5" cy="137.1" r="2.45"/>
<circle cx="526.0" cy="124.1" r="2.45"/>
<circle cx="504.9" cy="141.7" r="2.45"/>
<circle cx="486.5" cy="162.7" r="2.45"/>
<circle cx="586.4" cy="83.4" r="2.45"/>
<circle cx="561.2" cy="102.0" r="2.45"/>
<circle cx="577.0" cy="76.7" r="2.45"/>
<circle cx="558.9" cy="111.6" r="2.45"/>
<circle cx="555.5" cy="107.8" r="2.45"/>
<circle cx="524.6" cy="138.2" r="2.45"/>
<circle cx="532.1" cy="110.9" r="2.45"/>
<circle cx="456.0" cy="194.7" r="2.45"/>
<circle cx="537.4" cy="138.4" r="2.45"/>
<circle cx="564.6" cy="99.6" r="2.45"/>
<circle cx="516.4" cy="143.0" r="2.45"/>
<circle cx="494.7" cy="153.7" r="2.45"/>
<circle cx="532.8" cy="129.5" r="2.45"/>
<circle cx="580.6" cy="82.2" r="2.45"/>
<circle cx="489.6" cy="167.7" r="2.45"/>
<circle cx="481.2" cy="158.0" r="2.45"/>
<circle cx="535.5" cy="124.5" r="2.45"/>
<circle cx="523.9" cy="127.6" r="2.45"/>
<circle cx="543.3" cy="121.9" r="2.45"/>
<circle cx="494.6" cy="159.0" r="2.45"/>
<circle cx="530.6" cy="125.6" r="2.45"/>
<circle cx="475.8" cy="176.2" r="2.45"/>
<circle cx="492.6" cy="133.3" r="2.45"/>
<circle cx="514.9" cy="143.5" r="2.45"/>
<circle cx="567.3" cy="83.9" r="2.45"/>
<circle cx="500.9" cy="126.9" r="2.45"/>
<circle cx="458.7" cy="189.2" r="2.45"/>
<circle cx="481.5" cy="171.7" r="2.45"/>
<circle cx="465.7" cy="181.0" r="2.45"/>
<circle cx="480.3" cy="172.9" r="2.45"/>
<circle cx="504.6" cy="143.6" r="2.45"/>
<circle cx="535.5" cy="130.9" r="2.45"/>
<circle cx="508.8" cy="153.9" r="2.45"/>
<circle cx="500.8" cy="144.0" r="2.45"/>
<circle cx="550.5" cy="117.4" r="2.45"/>
<circle cx="526.4" cy="126.3" r="2.45"/>
<circle cx="531.4" cy="131.4" r="2.45"/>
<circle cx="505.0" cy="141.9" r="2.45"/>
<circle cx="543.6" cy="126.5" r="2.45"/>
<circle cx="538.5" cy="151.8" r="2.45"/>
<circle cx="510.4" cy="153.4" r="2.45"/>
<circle cx="507.4" cy="140.9" r="2.45"/>
<circle cx="537.5" cy="127.2" r="2.45"/>
<circle cx="551.9" cy="113.0" r="2.45"/>
<circle cx="583.1" cy="77.0" r="2.45"/>
<circle cx="471.5" cy="172.6" r="2.45"/>
<circle cx="561.5" cy="92.8" r="2.45"/>
<circle cx="508.3" cy="144.2" r="2.45"/>
<circle cx="571.9" cy="90.6" r="2.45"/>
<circle cx="515.7" cy="136.9" r="2.45"/>
<circle cx="517.1" cy="144.6" r="2.45"/>
<circle cx="504.0" cy="166.8" r="2.45"/>
<circle cx="504.0" cy="149.7" r="2.45"/>
<circle cx="529.5" cy="142.0" r="2.45"/>
<circle cx="536.0" cy="131.2" r="2.45"/>
<circle cx="501.6" cy="169.1" r="2.45"/>
<circle cx="562.8" cy="103.0" r="2.45"/>
<circle cx="540.7" cy="105.7" r="2.45"/>
<circle cx="567.4" cy="81.6" r="2.45"/>
<circle cx="466.4" cy="179.3" r="2.45"/>
<circle cx="506.5" cy="148.8" r="2.45"/>
<circle cx="530.4" cy="135.3" r="2.45"/>
<circle cx="570.0" cy="97.9" r="2.45"/>
<circle cx="470.4" cy="175.8" r="2.45"/>
<circle cx="494.7" cy="137.5" r="2.45"/>
<circle cx="538.9" cy="122.9" r="2.45"/>
<circle cx="484.9" cy="166.8" r="2.45"/>
<circle cx="477.8" cy="162.3" r="2.45"/>
<circle cx="499.1" cy="150.2" r="2.45"/>
<circle cx="519.6" cy="134.3" r="2.45"/>
<circle cx="461.7" cy="170.1" r="2.45"/>
<circle cx="618.4" cy="57.0" r="2.45"/>
<circle cx="516.6" cy="144.6" r="2.45"/>
<circle cx="507.8" cy="160.5" r="2.45"/>
<circle cx="527.9" cy="135.1" r="2.45"/>
<circle cx="501.1" cy="146.8" r="2.45"/>
<circle cx="501.0" cy="150.3" r="2.45"/>
<circle cx="527.3" cy="130.6" r="2.45"/>
<circle cx="499.0" cy="157.2" r="2.45"/>
<circle cx="527.2" cy="125.2" r="2.45"/>
<circle cx="496.6" cy="143.7" r="2.45"/>
<circle cx="494.5" cy="146.4" r="2.45"/>
<circle cx="561.4" cy="114.5" r="2.45"/>
<circle cx="460.4" cy="183.9" r="2.45"/>
<circle cx="502.8" cy="148.4" r="2.45"/>
<circle cx="478.0" cy="170.7" r="2.45"/>
<circle cx="528.0" cy="134.9" r="2.45"/>
<circle cx="538.4" cy="115.7" r="2.45"/>
<circle cx="542.2" cy="119.2" r="2.45"/>
<circle cx="516.0" cy="141.2" r="2.45"/>
<circle cx="566.9" cy="73.0" r="2.45"/>
<circle cx="498.9" cy="172.9" r="2.45"/>
<circle cx="510.1" cy="149.4" r="2.45"/>
<circle cx="531.9" cy="119.7" r="2.45"/>
<circle cx="497.8" cy="154.0" r="2.45"/>
<circle cx="550.3" cy="109.3" r="2.45"/>
<circle cx="452.2" cy="184.9" r="2.45"/>
<circle cx="477.2" cy="170.5" r="2.45"/>
<circle cx="514.1" cy="151.6" r="2.45"/>
<circle cx="512.5" cy="151.1" r="2.45"/>
<circle cx="449.9" cy="179.2" r="2.45"/>
<circle cx="526.6" cy="120.4" r="2.45"/>
<circle cx="497.1" cy="157.5" r="2.45"/>
<circle cx="540.8" cy="124.6" r="2.45"/>
<circle cx="509.0" cy="147.6" r="2.45"/>
<circle cx="555.8" cy="95.6" r="2.45"/>
<circle cx="465.9" cy="176.4" r="2.45"/>
<circle cx="521.6" cy="136.2" r="2.45"/>
<circle cx="514.8" cy="134.6" r="2.45"/>
<circle cx="563.9" cy="109.7" r="2.45"/>
<circle cx="548.4" cy="105.3" r="2.45"/>
<circle cx="489.0" cy="164.8" r="2.45"/>
<circle cx="499.1" cy="155.6" r="2.45"/>
<circle cx="477.3" cy="165.0" r="2.45"/>
<circle cx="507.4" cy="162.4" r="2.45"/>
<circle cx="528.2" cy="126.9" r="2.45"/>
<circle cx="526.0" cy="137.1" r="2.45"/>
<circle cx="458.2" cy="177.6" r="2.45"/>
<circle cx="533.5" cy="117.4" r="2.45"/>
<circle cx="533.1" cy="125.6" r="2.45"/>
<circle cx="551.8" cy="107.9" r="2.45"/>
<circle cx="518.4" cy="153.3" r="2.45"/>
<circle cx="566.0" cy="69.0" r="2.45"/>
<circle cx="536.1" cy="129.8" r="2.45"/>
<circle cx="569.3" cy="90.5" r="2.45"/>
<circle cx="515.0" cy="127.8" r="2.45"/>
<circle cx="563.1" cy="101.8" r="2.45"/>
<circle cx="463.2" cy="176.5" r="2.45"/>
<circle cx="482.9" cy="170.5" r="2.45"/>
<circle cx="568.6" cy="102.8" r="2.45"/>
<circle cx="533.0" cy="130.0" r="2.45"/>
<circle cx="545.2" cy="130.5" r="2.45"/>
<circle cx="487.7" cy="168.3" r="2.45"/>
<circle cx="507.6" cy="160.5" r="2.45"/>
<circle cx="604.3" cy="77.2" r="2.45"/>
<circle cx="525.9" cy="120.3" r="2.45"/>
<circle cx="488.7" cy="173.0" r="2.45"/>
<circle cx="541.8" cy="105.8" r="2.45"/>
<circle cx="528.9" cy="144.6" r="2.45"/>
<circle cx="521.1" cy="152.9" r="2.45"/>
<circle cx="533.2" cy="115.1" r="2.45"/>
<circle cx="535.0" cy="112.3" r="2.45"/>
<circle cx="553.8" cy="85.1" r="2.45"/>
<circle cx="568.7" cy="102.5" r="2.45"/>
<circle cx="492.3" cy="150.2" r="2.45"/>
<circle cx="524.9" cy="136.0" r="2.45"/>
<circle cx="497.0" cy="160.5" r="2.45"/>
<circle cx="491.9" cy="159.7" r="2.45"/>
<circle cx="551.3" cy="138.9" r="2.45"/>
<circle cx="533.3" cy="112.3" r="2.45"/>
<circle cx="532.9" cy="124.9" r="2.45"/>
<circle cx="486.1" cy="153.2" r="2.45"/>
<circle cx="535.4" cy="97.8" r="2.45"/>
<circle cx="545.6" cy="120.3" r="2.45"/>
<circle cx="493.3" cy="148.9" r="2.45"/>
<circle cx="474.8" cy="162.1" r="2.45"/>
<circle cx="489.0" cy="172.6" r="2.45"/>
<circle cx="575.4" cy="87.4" r="2.45"/>
<circle cx="495.3" cy="146.5" r="2.45"/>
<circle cx="504.3" cy="135.3" r="2.45"/>
<circle cx="515.7" cy="149.6" r="2.45"/>
<circle cx="497.4" cy="147.4" r="2.45"/>
<circle cx="522.9" cy="115.7" r="2.45"/>
<circle cx="491.9" cy="146.2" r="2.45"/>
<circle cx="509.9" cy="170.4" r="2.45"/>
<circle cx="530.3" cy="135.6" r="2.45"/>
<circle cx="590.3" cy="85.0" r="2.45"/>
<circle cx="518.0" cy="137.1" r="2.45"/>
<circle cx="469.0" cy="179.6" r="2.45"/>
<circle cx="504.3" cy="145.3" r="2.45"/>
<circle cx="532.6" cy="118.3" r="2.45"/>
<circle cx="450.0" cy="182.8" r="2.45"/>
<circle cx="486.7" cy="155.9" r="2.45"/>
<circle cx="514.4" cy="157.6" r="2.45"/>
<circle cx="544.5" cy="109.6" r="2.45"/>
<circle cx="511.0" cy="138.9" r="2.45"/>
<circle cx="507.8" cy="135.9" r="2.45"/>
<circle cx="516.2" cy="138.7" r="2.45"/>
<circle cx="513.8" cy="155.5" r="2.45"/>
<circle cx="529.6" cy="128.4" r="2.45"/>
<circle cx="510.8" cy="151.1" r="2.45"/>
<circle cx="526.5" cy="131.7" r="2.45"/>
<circle cx="567.1" cy="105.0" r="2.45"/>
<circle cx="512.9" cy="137.8" r="2.45"/>
<circle cx="514.9" cy="147.1" r="2.45"/>
<circle cx="542.2" cy="115.6" r="2.45"/>
<circle cx="509.1" cy="148.4" r="2.45"/>
<circle cx="515.3" cy="131.3" r="2.45"/>
<circle cx="539.9" cy="133.8" r="2.45"/>
<circle cx="554.4" cy="93.3" r="2.45"/>
<circle cx="507.6" cy="161.5" r="2.45"/>
<circle cx="502.3" cy="149.4" r="2.45"/>
<circle cx="510.1" cy="142.7" r="2.45"/>
<circle cx="495.1" cy="149.1" r="2.45"/>
<circle cx="548.9" cy="132.9" r="2.45"/>
<circle cx="521.3" cy="149.8" r="2.45"/>
<circle cx="548.3" cy="109.2" r="2.45"/>
<circle cx="497.5" cy="163.5" r="2.45"/>
<circle cx="547.3" cy="113.7" r="2.45"/>
<circle cx="502.4" cy="142.3" r="2.45"/>
<circle cx="517.6" cy="121.8" r="2.45"/>
<circle cx="544.1" cy="115.3" r="2.45"/>
<circle cx="500.9" cy="158.5" r="2.45"/>
<circle cx="510.2" cy="143.1" r="2.45"/>
<circle cx="505.6" cy="137.6" r="2.45"/>
<circle cx="507.5" cy="140.0" r="2.45"/>
<circle cx="518.7" cy="127.0" r="2.45"/>
<circle cx="447.2" cy="182.1" r="2.45"/>
<circle cx="489.3" cy="184.2" r="2.45"/>
<circle cx="512.3" cy="160.8" r="2.45"/>
<circle cx="533.3" cy="119.6" r="2.45"/>
<circle cx="517.5" cy="160.0" r="2.45"/>
<circle cx="542.8" cy="134.9" r="2.45"/>
<circle cx="526.7" cy="115.5" r="2.45"/>
<circle cx="551.1" cy="124.2" r="2.45"/>
<circle cx="511.1" cy="137.5" r="2.45"/>
<circle cx="550.9" cy="90.9" r="2.45"/>
<circle cx="555.9" cy="106.0" r="2.45"/>
<circle cx="497.4" cy="153.5" r="2.45"/>
<circle cx="474.6" cy="175.0" r="2.45"/>
<circle cx="557.0" cy="115.1" r="2.45"/>
<circle cx="507.3" cy="137.9" r="2.45"/>
<circle cx="522.0" cy="138.0" r="2.45"/>
<circle cx="493.3" cy="157.7" r="2.45"/>
<circle cx="551.9" cy="103.5" r="2.45"/>
<circle cx="535.5" cy="146.1" r="2.45"/>
<circle cx="514.4" cy="142.5" r="2.45"/>
<circle cx="502.4" cy="126.7" r="2.45"/>
<circle cx="522.6" cy="140.2" r="2.45"/>
<circle cx="544.3" cy="138.1" r="2.45"/>
<circle cx="493.8" cy="148.9" r="2.45"/>
<circle cx="579.9" cy="86.4" r="2.45"/>
<circle cx="528.8" cy="145.6" r="2.45"/>
<circle cx="495.7" cy="148.9" r="2.45"/>
<circle cx="557.5" cy="122.9" r="2.45"/>
<circle cx="559.6" cy="97.5" r="2.45"/>
<circle cx="544.0" cy="101.5" r="2.45"/>
<circle cx="506.3" cy="140.8" r="2.45"/>
<circle cx="544.1" cy="113.0" r="2.45"/>
<circle cx="557.0" cy="114.7" r="2.45"/>
<circle cx="537.4" cy="134.4" r="2.45"/>
<circle cx="529.1" cy="131.3" r="2.45"/>
<circle cx="506.1" cy="131.2" r="2.45"/>
<circle cx="453.5" cy="182.0" r="2.45"/>
<circle cx="515.1" cy="146.6" r="2.45"/>
<circle cx="458.8" cy="185.3" r="2.45"/>
<circle cx="586.8" cy="68.1" r="2.45"/>
<circle cx="473.6" cy="169.8" r="2.45"/>
<circle cx="499.2" cy="155.7" r="2.45"/>
<circle cx="525.8" cy="132.1" r="2.45"/>
<circle cx="485.1" cy="159.5" r="2.45"/>
<circle cx="535.1" cy="130.1" r="2.45"/>
<circle cx="473.0" cy="163.1" r="2.45"/>
<circle cx="587.9" cy="83.3" r="2.45"/>
<circle cx="533.0" cy="129.4" r="2.45"/>
<circle cx="478.6" cy="179.5" r="2.45"/>
<circle cx="550.5" cy="112.4" r="2.45"/>
<circle cx="481.7" cy="163.1" r="2.45"/>
<circle cx="510.8" cy="136.7" r="2.45"/>
<circle cx="562.4" cy="100.8" r="2.45"/>
<circle cx="498.4" cy="153.4" r="2.45"/>
<circle cx="573.8" cy="90.2" r="2.45"/>
<circle cx="517.7" cy="124.3" r="2.45"/>
<circle cx="518.3" cy="147.6" r="2.45"/>
<circle cx="552.4" cy="105.1" r="2.45"/>
<circle cx="475.2" cy="167.7" r="2.45"/>
<circle cx="463.3" cy="154.5" r="2.45"/>
<circle cx="487.3" cy="157.2" r="2.45"/>
<circle cx="513.2" cy="145.4" r="2.45"/>
<circle cx="531.8" cy="134.1" r="2.45"/>
<circle cx="508.3" cy="164.3" r="2.45"/>
<circle cx="513.8" cy="149.9" r="2.45"/>
<circle cx="530.4" cy="111.8" r="2.45"/>
<circle cx="513.3" cy="116.9" r="2.45"/>
<circle cx="472.0" cy="179.1" r="2.45"/>
<circle cx="512.5" cy="125.0" r="2.45"/>
<circle cx="565.6" cy="92.5" r="2.45"/>
<circle cx="531.5" cy="134.2" r="2.45"/>
<circle cx="520.8" cy="125.3" r="2.45"/>
<circle cx="524.6" cy="117.1" r="2.45"/>
<circle cx="498.5" cy="164.8" r="2.45"/>
<circle cx="487.0" cy="159.9" r="2.45"/>
<circle cx="508.6" cy="137.0" r="2.45"/>
<circle cx="516.6" cy="140.2" r="2.45"/>
<circle cx="537.3" cy="132.2" r="2.45"/>
<circle cx="570.4" cy="108.5" r="2.45"/>
<circle cx="509.6" cy="149.5" r="2.45"/>
<circle cx="479.9" cy="169.9" r="2.45"/>
<circle cx="528.8" cy="134.4" r="2.45"/>
<circle cx="531.4" cy="138.9" r="2.45"/>
<circle cx="494.0" cy="145.1" r="2.45"/>
<circle cx="514.0" cy="141.9" r="2.45"/>
<circle cx="513.6" cy="136.3" r="2.45"/>
<circle cx="531.7" cy="127.7" r="2.45"/>
<circle cx="449.0" cy="185.5" r="2.45"/>
<circle cx="600.5" cy="64.6" r="2.45"/>
<circle cx="547.1" cy="111.0" r="2.45"/>
<circle cx="492.5" cy="154.6" r="2.45"/>
<circle cx="562.6" cy="101.4" r="2.45"/>
<circle cx="496.9" cy="130.4" r="2.45"/>
<circle cx="547.7" cy="132.1" r="2.45"/>
<circle cx="519.1" cy="134.4" r="2.45"/>
<circle cx="559.3" cy="106.3" r="2.45"/>
<circle cx="577.6" cy="82.0" r="2.45"/>
<circle cx="454.1" cy="184.6" r="2.45"/>
<circle cx="533.3" cy="119.7" r="2.45"/>
<circle cx="487.8" cy="162.2" r="2.45"/>
<circle cx="485.0" cy="163.6" r="2.45"/>
<circle cx="545.3" cy="100.7" r="2.45"/>
<circle cx="563.3" cy="108.4" r="2.45"/>
<circle cx="572.9" cy="93.0" r="2.45"/>
<circle cx="478.1" cy="159.6" r="2.45"/>
<circle cx="540.0" cy="111.1" r="2.45"/>
<circle cx="524.3" cy="132.7" r="2.45"/>
<circle cx="513.1" cy="139.4" r="2.45"/>
<circle cx="504.0" cy="149.2" r="2.45"/>
<circle cx="514.0" cy="141.6" r="2.45"/>
<circle cx="478.9" cy="161.7" r="2.45"/>
<circle cx="498.5" cy="149.9" r="2.45"/>
<circle cx="542.7" cy="115.0" r="2.45"/>
<circle cx="505.5" cy="146.8" r="2.45"/>
<circle cx="542.1" cy="110.0" r="2.45"/>
<circle cx="588.9" cy="80.1" r="2.45"/>
<circle cx="545.3" cy="103.9" r="2.45"/>
<circle cx="537.5" cy="122.7" r="2.45"/>
<circle cx="484.6" cy="164.7" r="2.45"/>
<circle cx="563.1" cy="100.2" r="2.45"/>
<circle cx="545.7" cy="119.0" r="2.45"/>
<circle cx="526.4" cy="125.4" r="2.45"/>
<circle cx="500.0" cy="156.0" r="2.45"/>
<circle cx="525.9" cy="124.9" r="2.45"/>
<circle cx="512.6" cy="160.8" r="2.45"/>
<circle cx="503.4" cy="164.8" r="2.45"/>
<circle cx="510.3" cy="140.8" r="2.45"/>
<circle cx="453.9" cy="180.8" r="2.45"/>
<circle cx="446.7" cy="182.3" r="2.45"/>
<circle cx="541.3" cy="120.9" r="2.45"/>
<circle cx="554.5" cy="103.9" r="2.45"/>
<circle cx="494.2" cy="160.4" r="2.45"/>
<circle cx="528.1" cy="122.2" r="2.45"/>
<circle cx="525.2" cy="139.9" r="2.45"/>
<circle cx="455.3" cy="186.6" r="2.45"/>
<circle cx="573.9" cy="91.4" r="2.45"/>
<circle cx="490.3" cy="162.8" r="2.45"/>
<circle cx="525.2" cy="115.4" r="2.45"/>
<circle cx="525.5" cy="138.3" r="2.45"/>
<circle cx="500.1" cy="153.2" r="2.45"/>
<circle cx="528.9" cy="124.8" r="2.45"/>
<circle cx="540.3" cy="114.9" r="2.45"/>
<circle cx="489.6" cy="151.5" r="2.45"/>
<circle cx="507.8" cy="141.2" r="2.45"/>
<circle cx="483.7" cy="159.5" r="2.45"/>
<circle cx="477.6" cy="169.1" r="2.45"/>
<circle cx="525.7" cy="145.0" r="2.45"/>
<circle cx="487.4" cy="162.0" r="2.45"/>
<circle cx="539.6" cy="125.4" r="2.45"/>
<circle cx="529.3" cy="120.3" r="2.45"/>
<circle cx="508.0" cy="140.0" r="2.45"/>
<circle cx="508.6" cy="153.1" r="2.45"/>
<circle cx="473.3" cy="171.8" r="2.45"/>
<circle cx="510.4" cy="142.7" r="2.45"/>
<circle cx="534.6" cy="101.4" r="2.45"/>
<circle cx="523.1" cy="155.6" r="2.45"/>
<circle cx="465.2" cy="170.2" r="2.45"/>
<circle cx="492.8" cy="158.5" r="2.45"/>
<circle cx="514.0" cy="145.7" r="2.45"/>
<circle cx="537.4" cy="111.4" r="2.45"/>
<circle cx="532.3" cy="140.3" r="2.45"/>
<circle cx="521.9" cy="136.8" r="2.45"/>
<circle cx="568.9" cy="90.6" r="2.45"/>
<circle cx="493.2" cy="144.9" r="2.45"/>
<circle cx="546.2" cy="100.8" r="2.45"/>
<circle cx="556.0" cy="108.1" r="2.45"/>
<circle cx="493.9" cy="151.9" r="2.45"/>
<circle cx="547.2" cy="118.5" r="2.45"/>
<circle cx="457.8" cy="178.4" r="2.45"/>
<circle cx="527.8" cy="128.9" r="2.45"/>
<circle cx="518.3" cy="143.2" r="2.45"/>
<circle cx="528.9" cy="129.3" r="2.45"/>
<circle cx="509.7" cy="139.5" r="2.45"/>
<circle cx="473.2" cy="172.8" r="2.45"/>
<circle cx="493.0" cy="166.1" r="2.45"/>
<circle cx="487.0" cy="163.4" r="2.45"/>
<circle cx="559.4" cy="110.6" r="2.45"/>
<circle cx="493.2" cy="161.8" r="2.45"/>
<circle cx="497.6" cy="143.9" r="2.45"/>
<circle cx="515.8" cy="135.8" r="2.45"/>
<circle cx="492.2" cy="163.4" r="2.45"/>
<circle cx="540.2" cy="115.7" r="2.45"/>
<circle cx="516.0" cy="128.0" r="2.45"/>
<circle cx="545.0" cy="121.6" r="2.45"/>
<circle cx="558.0" cy="101.0" r="2.45"/>
<circle cx="525.0" cy="125.9" r="2.45"/>
<circle cx="540.3" cy="116.7" r="2.45"/>
<circle cx="517.6" cy="132.1" r="2.45"/>
<circle cx="558.4" cy="110.3" r="2.45"/>
<circle cx="460.4" cy="182.0" r="2.45"/>
<circle cx="483.6" cy="172.1" r="2.45"/>
<circle cx="547.1" cy="115.2" r="2.45"/>
<circle cx="525.0" cy="133.1" r="2.45"/>
<circle cx="464.6" cy="176.8" r="2.45"/>
<circle cx="484.1" cy="159.2" r="2.45"/>
<circle cx="536.1" cy="120.4" r="2.45"/>
<circle cx="543.9" cy="110.3" r="2.45"/>
<circle cx="506.0" cy="144.1" r="2.45"/>
<circle cx="513.6" cy="130.3" r="2.45"/>
<circle cx="515.2" cy="158.1" r="2.45"/>
<circle cx="548.5" cy="95.8" r="2.45"/>
<circle cx="522.4" cy="148.7" r="2.45"/>
<circle cx="554.8" cy="121.7" r="2.45"/>
<circle cx="464.4" cy="171.6" r="2.45"/>
<circle cx="480.2" cy="165.3" r="2.45"/>
<circle cx="524.3" cy="119.1" r="2.45"/>
<circle cx="550.2" cy="108.6" r="2.45"/>
<circle cx="586.7" cy="80.6" r="2.45"/>
<circle cx="554.3" cy="96.9" r="2.45"/>
<circle cx="519.7" cy="127.5" r="2.45"/>
<circle cx="543.2" cy="121.6" r="2.45"/>
<circle cx="535.7" cy="111.6" r="2.45"/>
<circle cx="477.3" cy="172.9" r="2.45"/>
<circle cx="537.1" cy="114.2" r="2.45"/>
<circle cx="556.5" cy="101.5" r="2.45"/>
<circle cx="503.8" cy="158.6" r="2.45"/>
<circle cx="519.5" cy="127.4" r="2.45"/>
<circle cx="529.5" cy="133.6" r="2.45"/>
<circle cx="497.9" cy="155.7" r="2.45"/>
<circle cx="469.8" cy="168.8" r="2.45"/>
<circle cx="515.3" cy="142.9" r="2.45"/>
<circle cx="514.7" cy="133.0" r="2.45"/>
<circle cx="515.1" cy="150.2" r="2.45"/>
<circle cx="558.7" cy="97.1" r="2.45"/>
<circle cx="563.3" cy="115.3" r="2.45"/>
<circle cx="550.4" cy="107.4" r="2.45"/>
<circle cx="516.1" cy="140.8" r="2.45"/>
<circle cx="519.1" cy="154.9" r="2.45"/>
<circle cx="531.2" cy="125.9" r="2.45"/>
<circle cx="517.4" cy="120.1" r="2.45"/>
<circle cx="555.1" cy="84.4" r="2.45"/>
<circle cx="528.0" cy="130.7" r="2.45"/>
<circle cx="535.6" cy="135.5" r="2.45"/>
<circle cx="582.4" cy="67.0" r="2.45"/>
<circle cx="567.4" cy="86.1" r="2.45"/>
<circle cx="511.0" cy="131.4" r="2.45"/>
<circle cx="540.0" cy="110.6" r="2.45"/>
<circle cx="559.0" cy="109.1" r="2.45"/>
<circle cx="483.2" cy="162.5" r="2.45"/>
<circle cx="483.4" cy="159.4" r="2.45"/>
<circle cx="494.3" cy="158.4" r="2.45"/>
<circle cx="558.9" cy="99.2" r="2.45"/>
<circle cx="457.9" cy="189.1" r="2.45"/>
<circle cx="460.9" cy="173.9" r="2.45"/>
<circle cx="520.2" cy="130.3" r="2.45"/>
<circle cx="494.6" cy="168.5" r="2.45"/>
<circle cx="542.7" cy="124.3" r="2.45"/>
<circle cx="569.6" cy="104.2" r="2.45"/>
<circle cx="552.7" cy="108.8" r="2.45"/>
<circle cx="539.6" cy="132.9" r="2.45"/>
<circle cx="533.6" cy="119.7" r="2.45"/>
<circle cx="535.1" cy="130.6" r="2.45"/>
<circle cx="477.9" cy="169.7" r="2.45"/>
<circle cx="502.7" cy="160.5" r="2.45"/>
<circle cx="528.6" cy="122.6" r="2.45"/>
<circle cx="487.7" cy="189.2" r="2.45"/>
<circle cx="522.8" cy="144.9" r="2.45"/>
<circle cx="557.8" cy="107.8" r="2.45"/>
<circle cx="576.3" cy="90.1" r="2.45"/>
<circle cx="498.7" cy="166.5" r="2.45"/>
<circle cx="513.8" cy="120.5" r="2.45"/>
<circle cx="510.5" cy="131.9" r="2.45"/>
<circle cx="513.5" cy="135.4" r="2.45"/>
<circle cx="551.0" cy="109.2" r="2.45"/>
<circle cx="533.5" cy="105.9" r="2.45"/>
<circle cx="495.3" cy="153.7" r="2.45"/>
<circle cx="522.1" cy="142.4" r="2.45"/>
<circle cx="518.2" cy="147.2" r="2.45"/>
<circle cx="561.0" cy="102.5" r="2.45"/>
<circle cx="550.5" cy="101.0" r="2.45"/>
<circle cx="466.5" cy="180.9" r="2.45"/>
<circle cx="533.1" cy="130.4" r="2.45"/>
<circle cx="487.1" cy="173.0" r="2.45"/>
<circle cx="494.0" cy="161.8" r="2.45"/>
<circle cx="487.7" cy="164.0" r="2.45"/>
<circle cx="513.4" cy="145.6" r="2.45"/>
<circle cx="491.4" cy="175.7" r="2.45"/>
<circle cx="520.3" cy="122.8" r="2.45"/>
<circle cx="469.0" cy="174.3" r="2.45"/>
<circle cx="497.9" cy="153.0" r="2.45"/>
<circle cx="476.4" cy="179.6" r="2.45"/>
<circle cx="523.7" cy="128.3" r="2.45"/>
<circle cx="548.8" cy="101.1" r="2.45"/>
<circle cx="546.5" cy="130.4" r="2.45"/>
<circle cx="572.7" cy="87.6" r="2.45"/>
<circle cx="552.0" cy="93.7" r="2.45"/>
<circle cx="544.6" cy="113.3" r="2.45"/>
<circle cx="525.2" cy="132.5" r="2.45"/>
<circle cx="530.5" cy="126.6" r="2.45"/>
<circle cx="529.3" cy="131.0" r="2.45"/>
<circle cx="546.3" cy="122.6" r="2.45"/>
<circle cx="559.6" cy="98.2" r="2.45"/>
<circle cx="613.1" cy="68.3" r="2.45"/>
<circle cx="505.5" cy="130.0" r="2.45"/>
<circle cx="556.5" cy="92.1" r="2.45"/>
<circle cx="511.7" cy="143.9" r="2.45"/>
<circle cx="559.3" cy="91.7" r="2.45"/>
<circle cx="521.1" cy="140.6" r="2.45"/>
<circle cx="523.5" cy="141.5" r="2.45"/>
<circle cx="525.4" cy="126.3" r="2.45"/>
<circle cx="533.2" cy="112.8" r="2.45"/>
<circle cx="502.2" cy="144.9" r="2.45"/>
<circle cx="484.4" cy="174.3" r="2.45"/>
<circle cx="486.9" cy="178.2" r="2.45"/>
<circle cx="540.7" cy="114.0" r="2.45"/>
<circle cx="503.6" cy="149.8" r="2.45"/>
<circle cx="568.3" cy="102.7" r="2.45"/>
<circle cx="542.6" cy="113.2" r="2.45"/>
<circle cx="526.5" cy="125.2" r="2.45"/>
<circle cx="528.1" cy="114.2" r="2.45"/>
<circle cx="503.5" cy="136.9" r="2.45"/>
<circle cx="534.8" cy="118.2" r="2.45"/>
<circle cx="513.5" cy="140.6" r="2.45"/>
<circle cx="524.1" cy="138.3" r="2.45"/>
<circle cx="526.2" cy="137.3" r="2.45"/>
<circle cx="506.9" cy="140.3" r="2.45"/>
<circle cx="554.8" cy="103.5" r="2.45"/>
<circle cx="510.3" cy="134.1" r="2.45"/>
<circle cx="526.3" cy="120.5" r="2.45"/>
<circle cx="497.4" cy="149.1" r="2.45"/>
<circle cx="532.8" cy="116.5" r="2.45"/>
<circle cx="561.0" cy="98.9" r="2.45"/>
<circle cx="520.6" cy="132.4" r="2.45"/>
<circle cx="539.0" cy="125.0" r="2.45"/>
<circle cx="508.3" cy="140.4" r="2.45"/>
<circle cx="481.0" cy="161.4" r="2.45"/>
<circle cx="534.4" cy="121.1" r="2.45"/>
<circle cx="526.0" cy="137.8" r="2.45"/>
<circle cx="513.5" cy="132.2" r="2.45"/>
<circle cx="512.1" cy="148.5" r="2.45"/>
<circle cx="503.9" cy="158.4" r="2.45"/>
<circle cx="531.1" cy="134.4" r="2.45"/>
<circle cx="575.0" cy="91.5" r="2.45"/>
<circle cx="504.4" cy="156.2" r="2.45"/>
<circle cx="574.9" cy="103.3" r="2.45"/>
<circle cx="538.0" cy="128.7" r="2.45"/>
<circle cx="550.7" cy="95.6" r="2.45"/>
<circle cx="505.8" cy="141.9" r="2.45"/>
<circle cx="514.8" cy="124.3" r="2.45"/>
<circle cx="470.3" cy="177.4" r="2.45"/>
<circle cx="483.9" cy="155.9" r="2.45"/>
<circle cx="538.4" cy="108.8" r="2.45"/>
<circle cx="558.7" cy="97.4" r="2.45"/>
<circle cx="505.7" cy="127.2" r="2.45"/>
<circle cx="525.3" cy="121.4" r="2.45"/>
<circle cx="490.8" cy="149.9" r="2.45"/>
<circle cx="480.9" cy="173.0" r="2.45"/>
<circle cx="571.3" cy="103.8" r="2.45"/>
<circle cx="555.6" cy="118.7" r="2.45"/>
<circle cx="597.1" cy="86.0" r="2.45"/>
<circle cx="570.6" cy="102.2" r="2.45"/>
<circle cx="485.4" cy="174.8" r="2.45"/>
<circle cx="516.8" cy="163.8" r="2.45"/>
<circle cx="549.7" cy="110.7" r="2.45"/>
<circle cx="478.3" cy="158.9" r="2.45"/>
<circle cx="503.5" cy="169.8" r="2.45"/>
<circle cx="453.2" cy="184.9" r="2.45"/>
<circle cx="532.7" cy="130.7" r="2.45"/>
<circle cx="591.5" cy="85.3" r="2.45"/>
<circle cx="580.5" cy="83.7" r="2.45"/>
<circle cx="555.5" cy="108.4" r="2.45"/>
<circle cx="489.5" cy="157.7" r="2.45"/>
<circle cx="556.8" cy="102.0" r="2.45"/>
<circle cx="497.6" cy="144.3" r="2.45"/>
<circle cx="520.9" cy="129.3" r="2.45"/>
<circle cx="503.3" cy="145.7" r="2.45"/>
<circle cx="492.3" cy="156.7" r="2.45"/>
<circle cx="522.9" cy="142.8" r="2.45"/>
<circle cx="530.7" cy="146.8" r="2.45"/>
<circle cx="489.7" cy="156.8" r="2.45"/>
<circle cx="543.5" cy="130.8" r="2.45"/>
<circle cx="510.0" cy="140.3" r="2.45"/>
<circle cx="512.8" cy="140.8" r="2.45"/>
<circle cx="559.2" cy="102.0" r="2.45"/>
<circle cx="504.7" cy="146.9" r="2.45"/>
<circle cx="579.7" cy="86.3" r="2.45"/>
<circle cx="539.7" cy="136.7" r="2.45"/>
<circle cx="466.8" cy="174.6" r="2.45"/>
<circle cx="505.5" cy="154.6" r="2.45"/>
<circle cx="543.9" cy="123.0" r="2.45"/>
<circle cx="515.5" cy="140.9" r="2.45"/>
<circle cx="469.3" cy="167.2" r="2.45"/>
<circle cx="532.7" cy="127.8" r="2.45"/>
<circle cx="500.6" cy="154.1" r="2.45"/>
<circle cx="505.6" cy="142.0" r="2.45"/>
<circle cx="489.2" cy="155.0" r="2.45"/>
<circle cx="496.0" cy="157.9" r="2.45"/>
<circle cx="539.0" cy="94.0" r="2.45"/>
<circle cx="523.0" cy="139.1" r="2.45"/>
<circle cx="561.9" cy="99.7" r="2.45"/>
<circle cx="514.5" cy="110.9" r="2.45"/>
<circle cx="573.1" cy="85.7" r="2.45"/>
<circle cx="561.8" cy="90.5" r="2.45"/>
<circle cx="507.4" cy="169.1" r="2.45"/>
<circle cx="495.1" cy="160.1" r="2.45"/>
<circle cx="565.3" cy="98.0" r="2.45"/>
<circle cx="537.1" cy="134.2" r="2.45"/>
<circle cx="541.9" cy="110.5" r="2.45"/>
<circle cx="496.7" cy="150.3" r="2.45"/>
<circle cx="522.7" cy="134.6" r="2.45"/>
<circle cx="549.2" cy="116.5" r="2.45"/>
<circle cx="538.8" cy="118.9" r="2.45"/>
<circle cx="506.6" cy="144.2" r="2.45"/>
<circle cx="508.8" cy="126.2" r="2.45"/>
<circle cx="520.6" cy="126.9" r="2.45"/>
<circle cx="538.2" cy="128.3" r="2.45"/>
<circle cx="555.4" cy="103.9" r="2.45"/>
<circle cx="470.3" cy="178.5" r="2.45"/>
<circle cx="542.5" cy="122.9" r="2.45"/>
<circle cx="529.0" cy="122.5" r="2.45"/>
<circle cx="544.4" cy="107.4" r="2.45"/>
<circle cx="483.6" cy="159.3" r="2.45"/>
<circle cx="573.2" cy="97.3" r="2.45"/>
<circle cx="527.4" cy="122.6" r="2.45"/>
<circle cx="477.9" cy="167.3" r="2.45"/>
<circle cx="557.4" cy="104.3" r="2.45"/>
<circle cx="554.2" cy="107.4" r="2.45"/>
<circle cx="475.2" cy="175.7" r="2.45"/>
<circle cx="519.7" cy="143.1" r="2.45"/>
<circle cx="525.6" cy="127.2" r="2.45"/>
<circle cx="515.6" cy="140.9" r="2.45"/>
<circle cx="526.5" cy="111.6" r="2.45"/>
<circle cx="531.4" cy="136.1" r="2.45"/>
<circle cx="510.5" cy="159.2" r="2.45"/>
<circle cx="543.4" cy="121.1" r="2.45"/>
<circle cx="525.9" cy="131.9" r="2.45"/>
<circle cx="521.9" cy="125.8" r="2.45"/>
<circle cx="477.5" cy="166.2" r="2.45"/>
<circle cx="510.6" cy="160.3" r="2.45"/>
<circle cx="585.5" cy="85.3" r="2.45"/>
<circle cx="589.8" cy="77.3" r="2.45"/>
<circle cx="601.7" cy="72.9" r="2.45"/>
<circle cx="618.0" cy="55.9" r="2.45"/>
<circle cx="579.7" cy="70.9" r="2.45"/>
<circle cx="607.6" cy="67.7" r="2.45"/>
<circle cx="572.8" cy="97.5" r="2.45"/>
<circle cx="583.0" cy="86.5" r="2.45"/>
<circle cx="585.2" cy="76.8" r="2.45"/>
<circle cx="622.8" cy="51.9" r="2.45"/>
<circle cx="610.2" cy="58.4" r="2.45"/>
<circle cx="590.5" cy="74.8" r="2.45"/>
<circle cx="582.2" cy="81.6" r="2.45"/>
<circle cx="581.0" cy="96.7" r="2.45"/>
<circle cx="607.7" cy="61.1" r="2.45"/>
<circle cx="577.8" cy="97.9" r="2.45"/>
<circle cx="581.6" cy="82.8" r="2.45"/>
<circle cx="628.2" cy="44.9" r="2.45"/>
<circle cx="578.0" cy="89.6" r="2.45"/>
<circle cx="595.5" cy="70.4" r="2.45"/>
<circle cx="611.1" cy="56.6" r="2.45"/>
<circle cx="583.7" cy="92.1" r="2.45"/>
<circle cx="617.1" cy="49.9" r="2.45"/>
<circle cx="592.0" cy="70.3" r="2.45"/>
<circle cx="587.9" cy="89.5" r="2.45"/>
<circle cx="598.1" cy="78.0" r="2.45"/>
<circle cx="624.5" cy="53.6" r="2.45"/>
<circle cx="588.7" cy="88.3" r="2.45"/>
</g>
<clipPath id="c1"><rect x="400.00" y="7.60" width="278.70" height="226.00"/></clipPath>
<g clip-path="url(#c1)">
<line x1="400.00" y1="232.40" x2="678.70" y2="7.60" stroke="#111" stroke-width="1.25"/>
<line x1="400.00" y1="222.73" x2="678.70" y2="-2.07" stroke="#da2630" stroke-width="1.3" stroke-dasharray="6.1 5.6"/>
<line x1="400.00" y1="242.07" x2="678.70" y2="17.27" stroke="#da2630" stroke-width="1.3" stroke-dasharray="6.1 5.6"/>
</g>
<rect x="400.00" y="7.60" width="278.70" height="226.00" fill="none" stroke="#585858" stroke-width="1.4"/>
<path d="M400.00 233.60v-4.5M400.00 233.60h4.5M427.87 233.60v-2.5M400.00 211.00h2.5M455.74 233.60v-4.5M400.00 188.40h4.5M483.61 233.60v-2.5M400.00 165.80h2.5M511.48 233.60v-4.5M400.00 143.20h4.5M539.35 233.60v-2.5M400.00 120.60h2.5M567.22 233.60v-4.5M400.00 98.00h4.5M595.09 233.60v-2.5M400.00 75.40h2.5M622.96 233.60v-4.5M400.00 52.80h4.5M650.83 233.60v-2.5M400.00 30.20h2.5M678.70 233.60v-4.5M400.00 7.60h4.5" stroke="#555" stroke-width="1.2" fill="none"/>
<rect x="406.40" y="12.50" width="99.20" height="44.50" fill="#fff" stroke="#6a6a6a" stroke-width="0.9"/>
<circle cx="420.80" cy="21.00" r="2.3" fill="#0a72bd" fill-opacity="0.55"/>
<line x1="408.00" y1="34.90" x2="433.80" y2="34.90" stroke="#c4c4c4" stroke-width="1.60"/>
<line x1="407.40" y1="49.60" x2="434.20" y2="49.60" stroke="#dc4550" stroke-width="1.5" stroke-dasharray="5.5 6"/>
<text x="436.20" y="24.60" font-size="11.6">Data</text>
<text x="437.00" y="39.10" font-size="11.6">1:1 line</text>
<text x="435.80" y="53.40" font-size="11.6" letter-spacing="0.1">±1 SD of error</text>
<text transform="translate(21.05 20.00) scale(0.95 1)" font-size="14.7">10</text>
<text x="31.60" y="6.70" font-size="10">−2</text>
<text transform="translate(21.05 63.90) scale(0.95 1)" font-size="14.7">10</text>
<text x="31.60" y="51.50" font-size="10">−3</text>
<text transform="translate(21.05 108.20) scale(0.95 1)" font-size="14.7">10</text>
<text x="31.60" y="96.60" font-size="10">−4</text>
<text transform="translate(21.05 153.20) scale(0.95 1)" font-size="14.7">10</text>
<text x="31.60" y="141.60" font-size="10">−5</text>
<text transform="translate(21.05 197.50) scale(0.95 1)" font-size="14.7">10</text>
<text x="31.60" y="186.60" font-size="10">−6</text>
<text transform="translate(21.05 241.80) scale(0.95 1)" font-size="14.7">10</text>
<text x="31.60" y="232.10" font-size="10">−7</text>
<text transform="translate(26.65 254.7) scale(0.95 1)" font-size="14.7">10</text>
<text x="41.70" y="245.1" font-size="10">−7</text>
<text transform="translate(82.00 254.7) scale(0.95 1)" font-size="14.7">10</text>
<text x="97.40" y="245.1" font-size="10">−6</text>
<text transform="translate(137.35 254.7) scale(0.95 1)" font-size="14.7">10</text>
<text x="153.10" y="245.1" font-size="10">−5</text>
<text transform="translate(192.70 254.7) scale(0.95 1)" font-size="14.7">10</text>
<text x="208.80" y="245.1" font-size="10">−4</text>
<text transform="translate(248.05 254.7) scale(0.95 1)" font-size="14.7">10</text>
<text x="264.50" y="245.1" font-size="10">−3</text>
<text transform="translate(303.40 254.7) scale(0.95 1)" font-size="14.7">10</text>
<text x="320.20" y="245.1" font-size="10">−2</text>
<text x="152.60" y="270.1" font-size="14.9">True MDR</text>
<text transform="translate(13.60 177.4) rotate(-90)" font-size="14.9">Predicted MDR</text>
<text x="0.20" y="11.30" font-size="14.5">(a)</text>
<text transform="translate(374.35 20.00) scale(0.95 1)" font-size="14.7">10</text>
<text x="386.10" y="7.40" font-size="10">−2</text>
<text transform="translate(374.35 63.90) scale(0.95 1)" font-size="14.7">10</text>
<text x="386.10" y="52.20" font-size="10">−3</text>
<text transform="translate(374.35 108.20) scale(0.95 1)" font-size="14.7">10</text>
<text x="386.10" y="97.30" font-size="10">−4</text>
<text transform="translate(374.35 153.20) scale(0.95 1)" font-size="14.7">10</text>
<text x="386.10" y="142.30" font-size="10">−5</text>
<text transform="translate(374.35 197.50) scale(0.95 1)" font-size="14.7">10</text>
<text x="386.10" y="187.30" font-size="10">−6</text>
<text transform="translate(374.35 241.80) scale(0.95 1)" font-size="14.7">10</text>
<text x="386.10" y="232.80" font-size="10">−7</text>
<text transform="translate(381.95 254.7) scale(0.95 1)" font-size="14.7">10</text>
<text x="395.00" y="245.1" font-size="10">−7</text>
<text transform="translate(437.30 254.7) scale(0.95 1)" font-size="14.7">10</text>
<text x="450.70" y="245.1" font-size="10">−6</text>
<text transform="translate(492.65 254.7) scale(0.95 1)" font-size="14.7">10</text>
<text x="506.40" y="245.1" font-size="10">−5</text>
<text transform="translate(548.00 254.7) scale(0.95 1)" font-size="14.7">10</text>
<text x="562.10" y="245.1" font-size="10">−4</text>
<text transform="translate(603.35 254.7) scale(0.95 1)" font-size="14.7">10</text>
<text x="617.80" y="245.1" font-size="10">−3</text>
<text transform="translate(658.70 254.7) scale(0.95 1)" font-size="14.7">10</text>
<text x="673.50" y="245.1" font-size="10">−2</text>
<text x="506.40" y="270.1" font-size="14.9">True MDR</text>
<text transform="translate(366.50 177.4) rotate(-90)" font-size="14.9">Predicted MDR</text>
<text x="352.60" y="11.80" font-size="14.5">(b)</text>
<text x="235.0" y="196.8" font-size="14.9">Training set</text>
<text x="235.0" y="215.2" font-size="14.6">σ =0.181</text>
<text x="611.1" y="196.8" font-size="14.9">Test set</text>
<text x="610.2" y="215.2" font-size="14.6">σ =0.202</text>
</svg></body></html>
